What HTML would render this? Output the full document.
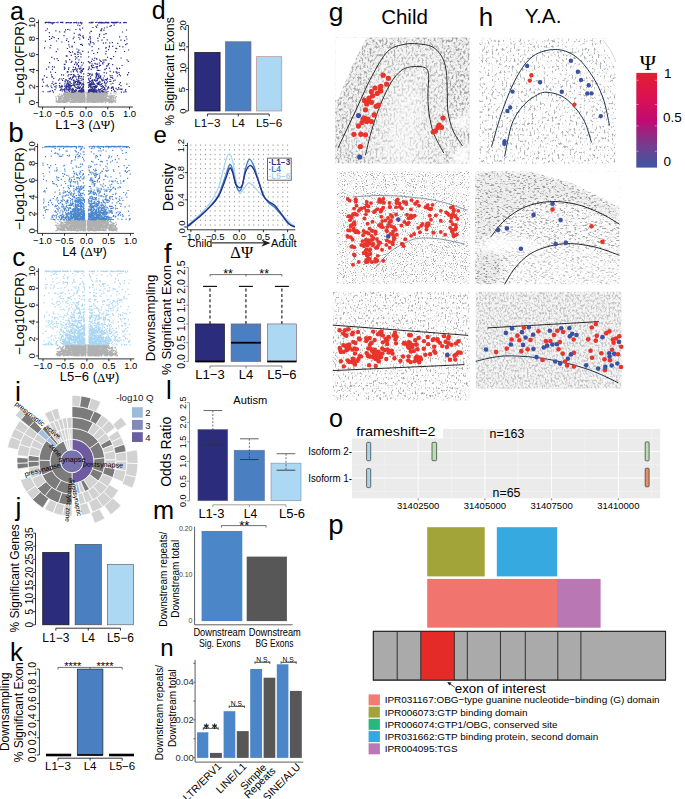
<!DOCTYPE html><html><head><meta charset="utf-8"><style>html,body{margin:0;padding:0;background:#fff;}svg{display:block;}</style></head><body><svg width="685" height="799" viewBox="0 0 685 799">
<rect width="685" height="799" fill="#fff"/>
<path d="M61.1 102.4h0M98.0 97.2h0M88.4 102.2h0M93.2 97.6h0M81.3 93.9h0M74.2 93.0h0M64.0 102.5h0M82.2 92.3h0M60.5 96.4h0M91.1 99.8h0M82.7 92.7h0M96.6 95.5h0M69.1 95.6h0M96.4 94.7h0M95.9 96.9h0M78.7 93.2h0M105.4 96.0h0M61.0 99.3h0M89.8 96.4h0M105.5 101.2h0M73.9 96.7h0M103.3 97.3h0M104.2 94.9h0M92.2 99.8h0M78.0 94.2h0M74.0 93.5h0M94.5 97.4h0M97.7 94.7h0M103.8 94.1h0M66.4 97.7h0M83.0 97.1h0M95.7 96.9h0M91.0 93.8h0M97.2 95.7h0M101.9 97.4h0M78.2 96.4h0M65.4 93.4h0M94.0 101.6h0M61.5 101.3h0M78.0 98.6h0M79.6 92.5h0M96.6 95.5h0M99.3 97.2h0M81.6 98.9h0M95.2 101.2h0M80.7 92.4h0M88.0 102.3h0M82.4 102.1h0M68.7 97.7h0M79.3 92.3h0M90.4 98.0h0M107.9 98.9h0M94.0 101.9h0M78.0 93.4h0M97.6 100.6h0M93.0 100.9h0M76.5 93.0h0M92.4 100.4h0M75.4 100.1h0M96.3 96.0h0M104.1 99.1h0M100.1 102.3h0M89.1 100.1h0M88.4 93.9h0M79.8 95.2h0M95.5 92.7h0M111.0 97.8h0M70.8 101.7h0M77.4 92.9h0M80.6 99.4h0M109.7 100.7h0M103.5 99.7h0M99.1 101.2h0M71.1 97.9h0M104.2 93.7h0M106.2 101.1h0M103.4 96.3h0M95.4 98.3h0M100.0 97.4h0M90.3 99.1h0M82.4 101.4h0M73.2 100.3h0M110.0 101.5h0M69.8 97.6h0M110.8 97.3h0M109.0 101.4h0M94.0 102.0h0M77.5 94.7h0M99.0 101.7h0M90.8 92.3h0M94.7 95.8h0M93.4 95.3h0M90.9 100.1h0M96.0 101.5h0M107.7 101.4h0M100.0 92.6h0M91.0 100.3h0M87.7 99.6h0M66.5 96.0h0M79.9 99.9h0M75.7 93.3h0M78.5 102.3h0M78.6 97.0h0M59.9 101.5h0M103.6 100.4h0M57.9 101.7h0M89.4 101.0h0M64.8 102.1h0M112.0 96.6h0M78.3 100.6h0M71.0 99.5h0M78.6 97.7h0M101.4 96.5h0M114.9 101.4h0M88.7 92.3h0M72.4 100.8h0M79.9 100.8h0M98.8 95.8h0M76.2 97.1h0M68.1 95.4h0M89.9 92.7h0M84.0 97.2h0M68.0 94.8h0M98.7 92.8h0M97.0 92.8h0M88.6 100.6h0M76.6 93.5h0M107.8 101.0h0M110.9 93.4h0M103.1 100.4h0M102.4 94.7h0M70.4 95.6h0M87.2 96.8h0M72.2 96.7h0M77.8 99.4h0M65.8 92.4h0M65.1 92.4h0M81.3 97.5h0M70.9 93.9h0M89.4 98.0h0M105.9 97.1h0M77.4 101.0h0M105.1 99.3h0M98.5 94.5h0M67.7 96.1h0M80.7 95.7h0M80.1 99.2h0M76.6 99.3h0M94.7 93.4h0M71.2 96.5h0M93.4 100.0h0M90.4 100.1h0M82.5 96.2h0M83.4 96.5h0M72.5 93.9h0M93.3 96.9h0M87.5 101.0h0M99.8 98.5h0M99.5 96.2h0M64.9 95.5h0M100.7 92.1h0M72.5 92.2h0M101.2 92.6h0M97.3 94.9h0M100.0 98.4h0M72.8 95.2h0M99.9 95.7h0M82.7 97.0h0M71.6 95.6h0M103.3 94.7h0M62.0 95.2h0M59.3 96.8h0M109.4 99.1h0M100.6 100.7h0M103.3 101.9h0M83.6 94.5h0M91.8 97.5h0M82.9 96.9h0M79.7 95.0h0M100.7 100.0h0M84.1 101.7h0M100.1 97.3h0M74.7 94.8h0M105.5 98.4h0M73.6 97.1h0M96.1 93.3h0M89.2 95.8h0M74.0 93.5h0M67.4 97.9h0M110.7 99.0h0M94.4 100.5h0M106.1 96.1h0M76.2 96.7h0M78.1 94.2h0M102.6 99.7h0M66.3 94.8h0M96.5 98.8h0M80.8 92.5h0M66.5 93.1h0M78.4 95.1h0M94.5 92.4h0M112.8 99.1h0M78.3 99.9h0M79.3 97.0h0M86.9 99.7h0M105.7 100.0h0M91.3 98.7h0M59.6 102.1h0M92.9 96.1h0M72.0 98.0h0M84.2 98.1h0M81.7 96.3h0M98.1 93.6h0M73.2 102.1h0M77.5 92.7h0M84.0 97.6h0M64.5 94.5h0M81.6 95.3h0M92.4 99.5h0M75.0 99.6h0M73.4 96.3h0M68.9 92.9h0M109.4 97.0h0M79.7 94.8h0M84.8 100.7h0M67.6 101.9h0M62.3 96.9h0M97.2 101.0h0M77.7 97.5h0M65.3 93.0h0M102.1 102.2h0M109.2 102.4h0M101.1 101.8h0M89.8 94.0h0M78.0 93.4h0M110.4 100.8h0M102.6 96.8h0M105.6 101.2h0M92.1 96.7h0M63.0 101.6h0M103.6 98.1h0M97.9 96.2h0M77.4 99.0h0M98.0 99.3h0M78.8 96.7h0M75.5 94.1h0M63.5 100.6h0M115.7 93.9h0M67.6 92.8h0M73.3 96.2h0M100.3 94.1h0M109.6 99.1h0M113.8 99.7h0M74.2 99.9h0M83.2 92.9h0M81.6 95.7h0M63.1 100.1h0M82.2 95.6h0M69.1 99.9h0M64.5 96.8h0M100.8 93.5h0M88.7 99.9h0M61.0 97.7h0M103.9 96.5h0M78.1 93.8h0M109.5 101.9h0M103.8 97.9h0M88.3 102.0h0M88.3 95.0h0M58.6 96.8h0M93.7 92.3h0M105.0 93.8h0M89.7 95.9h0M94.3 97.5h0M82.9 96.4h0M85.2 97.7h0M83.2 98.3h0M91.1 94.4h0M63.9 93.6h0M72.9 94.0h0M97.8 95.6h0M88.5 93.9h0M101.4 98.4h0M115.5 98.5h0M74.9 92.1h0M93.3 92.6h0M88.3 97.6h0M109.4 100.3h0M88.1 100.9h0M78.9 99.8h0M78.4 94.2h0M80.0 98.0h0M82.0 95.8h0M79.7 96.4h0M107.2 92.3h0M55.9 96.8h0M62.8 100.7h0M84.5 94.1h0M80.1 97.5h0M92.4 92.9h0M71.9 100.7h0M74.8 100.5h0M113.6 98.5h0M102.3 95.6h0M80.2 93.4h0M65.2 102.5h0M104.3 99.4h0M96.7 101.3h0M88.2 100.7h0M97.8 100.2h0M65.4 100.7h0M90.9 99.3h0M90.7 100.0h0M97.8 95.9h0M74.6 100.3h0M103.9 96.6h0M67.1 100.9h0M84.8 98.9h0M94.2 93.1h0M87.7 99.8h0M64.5 99.8h0M76.5 96.9h0M88.0 102.3h0M87.4 93.7h0M76.1 95.1h0M92.1 99.4h0M99.9 100.8h0M88.7 93.0h0M83.4 101.5h0M81.3 99.0h0M84.6 102.1h0M80.5 92.7h0M106.1 99.7h0M95.3 99.3h0M93.8 92.8h0M83.4 95.9h0M105.2 95.7h0M99.3 96.3h0M90.1 99.0h0M75.3 101.8h0M80.6 97.6h0M76.0 99.6h0M97.6 101.0h0M81.3 94.5h0M74.7 96.5h0M69.9 95.7h0M90.3 92.9h0M77.4 95.2h0M58.8 98.8h0M89.4 100.6h0M94.3 92.3h0M72.1 99.4h0M83.2 93.8h0M84.7 98.2h0M60.3 99.2h0M93.2 97.9h0M102.5 102.1h0M79.7 93.8h0M69.7 94.3h0M96.3 94.1h0M95.6 99.6h0M59.3 101.3h0M82.0 94.9h0M89.6 93.2h0M87.2 93.0h0M64.5 95.8h0M95.6 93.8h0M95.4 94.0h0M73.4 101.8h0M71.8 93.1h0M65.2 93.0h0M79.7 92.3h0M75.2 95.6h0M84.0 98.0h0M74.4 92.3h0M77.4 94.1h0M87.4 95.4h0M71.0 97.6h0M105.4 92.7h0M80.2 100.7h0M109.6 95.8h0M100.3 94.3h0M94.2 96.7h0M81.0 92.5h0M58.9 96.2h0M79.2 96.6h0M105.3 99.6h0M87.8 92.9h0M79.2 94.2h0M76.1 100.4h0M69.7 94.0h0M83.9 94.9h0M84.9 101.0h0M59.5 99.8h0M104.0 94.2h0M80.2 92.5h0M110.0 102.0h0M91.7 94.2h0M113.4 98.0h0M88.1 93.9h0M92.5 100.7h0M99.5 93.5h0M83.6 100.8h0M100.1 99.5h0M89.8 100.7h0M68.9 92.4h0M76.4 96.6h0M60.1 98.0h0M68.6 98.1h0M76.4 101.5h0M72.7 102.1h0M104.8 98.2h0M78.7 96.6h0M81.0 92.7h0M93.2 94.8h0M94.4 98.4h0M81.6 98.5h0M109.7 101.6h0M84.4 94.0h0M82.2 95.8h0M86.9 93.7h0M91.9 100.6h0M65.2 101.2h0M92.4 95.6h0M84.6 98.0h0M67.7 93.8h0M96.3 93.8h0M101.9 94.7h0M69.6 96.3h0M97.1 102.0h0M82.2 95.2h0M61.4 98.4h0M108.8 99.8h0M84.4 97.4h0M70.5 94.6h0M87.9 92.9h0M63.5 94.8h0M73.8 92.5h0M76.8 98.4h0M73.3 98.4h0M82.6 102.0h0M81.2 93.1h0M106.0 101.7h0M90.6 101.4h0M95.0 95.5h0M114.0 101.1h0M74.8 97.2h0M95.1 94.0h0M109.9 102.0h0M114.3 97.1h0M67.5 101.3h0M91.0 98.6h0M86.8 98.3h0M81.3 97.1h0M76.0 96.9h0M72.0 92.8h0M92.1 96.1h0M78.8 97.9h0M108.0 96.5h0M79.1 99.6h0M111.3 98.6h0M105.2 101.6h0M76.0 93.0h0M93.4 96.4h0M90.7 99.7h0M82.3 94.6h0M103.5 94.1h0M82.7 98.9h0M92.0 93.4h0M58.7 101.0h0M92.7 97.8h0M82.0 96.0h0M89.6 100.3h0M83.1 92.3h0M65.7 94.7h0M88.4 92.4h0M91.5 92.7h0M93.3 102.4h0M97.9 96.4h0M82.9 99.8h0M76.2 92.6h0M83.8 100.0h0M87.6 98.8h0M67.7 100.2h0M77.3 92.5h0M105.9 95.8h0M89.8 101.2h0M87.2 93.7h0M98.1 100.2h0M104.9 92.5h0M106.4 92.9h0M101.0 95.9h0M74.3 96.7h0M106.1 95.9h0M86.9 94.4h0M89.3 97.4h0M88.6 94.9h0M102.7 95.0h0M73.4 95.5h0M97.4 93.3h0M84.5 101.8h0M105.2 102.4h0M97.7 93.7h0M56.9 102.0h0M72.2 101.7h0M110.9 95.8h0M64.3 95.0h0M90.4 99.0h0M102.7 97.3h0M76.5 92.6h0M105.5 95.8h0M77.5 99.6h0M101.8 94.7h0M101.0 94.5h0M109.9 100.5h0M85.0 102.1h0M99.3 93.9h0M92.0 98.8h0M74.6 96.5h0M93.0 97.7h0M87.1 101.1h0M64.1 95.3h0M110.7 102.1h0M75.2 100.9h0M79.7 102.5h0M84.5 97.7h0M83.4 96.6h0M87.6 94.1h0M69.7 99.4h0M92.8 93.1h0M77.7 99.7h0M99.6 101.0h0M82.3 96.9h0M84.5 100.4h0M74.9 101.8h0M92.8 93.6h0M79.4 99.8h0M91.8 101.4h0M84.0 94.0h0M77.9 94.5h0M78.4 101.4h0M63.5 97.3h0M76.4 94.7h0M78.8 94.3h0M99.1 93.3h0M115.8 97.5h0M105.0 92.9h0M83.6 97.6h0M112.2 97.0h0M87.2 97.4h0M101.0 98.9h0M101.0 99.0h0M87.8 96.3h0M74.6 100.7h0M66.8 101.5h0M88.7 100.4h0M108.0 100.7h0M111.7 96.0h0M63.6 98.4h0M61.5 101.5h0M89.0 96.9h0M103.0 95.7h0M106.9 98.6h0M79.5 92.3h0M72.1 101.7h0M93.8 98.4h0M71.9 99.8h0M87.3 101.3h0M83.6 99.9h0M93.5 98.9h0M95.0 93.4h0M101.5 96.8h0M94.9 100.2h0M83.4 100.8h0M74.7 102.3h0M89.8 98.4h0M81.6 95.2h0M67.1 100.2h0M97.8 100.5h0M78.9 96.4h0M74.7 98.5h0M100.7 101.7h0M104.4 95.2h0M116.3 96.5h0M70.0 101.6h0M83.4 92.1h0M96.0 98.7h0M87.9 99.4h0M111.6 101.8h0M58.5 101.3h0M105.3 99.3h0M95.4 96.2h0M92.7 98.5h0M98.4 98.4h0M72.4 93.6h0M75.4 102.0h0M80.2 96.7h0M89.5 96.2h0M109.6 99.0h0M72.1 98.1h0M96.8 101.9h0M103.8 93.8h0M88.5 96.5h0M64.0 98.1h0M76.8 93.6h0M100.3 96.3h0M69.9 96.2h0M78.2 97.5h0M82.6 92.1h0M82.0 100.5h0M77.8 100.3h0M89.1 97.3h0M109.8 101.2h0M108.6 101.6h0M71.0 93.8h0M97.4 95.4h0M75.4 95.8h0M104.1 98.3h0M79.5 101.8h0M73.2 97.5h0M76.8 97.2h0M66.6 96.0h0M111.9 100.1h0M107.6 100.3h0M60.4 101.8h0M76.0 97.5h0M115.7 102.3h0M97.9 99.3h0M104.0 100.5h0M90.6 93.2h0M99.8 98.5h0M84.8 95.8h0M75.4 93.1h0M79.7 101.9h0M81.0 92.1h0M100.6 98.1h0M92.5 99.0h0M95.9 93.5h0M98.3 100.4h0M90.4 101.2h0M77.5 96.6h0M104.0 95.2h0M87.4 94.7h0M111.3 99.8h0M75.1 100.5h0M63.5 102.3h0M58.5 98.9h0M99.5 93.2h0M102.3 100.0h0M97.5 92.1h0M93.9 95.2h0M63.8 98.0h0M84.1 99.7h0M104.2 99.1h0M102.2 102.5h0M99.4 100.6h0M76.8 94.4h0M75.9 93.3h0M96.0 92.6h0M82.2 96.6h0M76.9 101.0h0M59.1 97.4h0M98.8 96.0h0M79.4 99.7h0M93.9 96.0h0M79.5 96.6h0M82.2 100.0h0M80.7 92.2h0M110.6 99.4h0M83.3 92.9h0M75.4 94.7h0M113.2 100.6h0M78.1 93.3h0M105.4 92.1h0M101.2 95.3h0M65.8 92.7h0M95.7 97.9h0M93.9 100.2h0M85.0 95.2h0M89.8 94.1h0M91.3 93.8h0M83.2 102.0h0M112.1 97.2h0M101.6 94.2h0M77.4 92.8h0M87.1 96.1h0M108.6 100.8h0M65.4 93.9h0M95.1 97.2h0M76.3 97.1h0M102.3 96.9h0M75.1 96.5h0M98.3 97.9h0M101.3 97.2h0M91.9 96.0h0M88.9 101.2h0M112.1 101.6h0M65.4 102.5h0M96.0 98.9h0M79.5 96.2h0M90.1 96.0h0M89.5 92.9h0M97.6 92.1h0M91.2 94.2h0M91.4 96.8h0M88.6 97.4h0M68.0 98.0h0M105.7 98.0h0M83.9 99.0h0M68.0 93.8h0M84.5 93.7h0M94.0 92.2h0M97.3 100.8h0M56.4 98.7h0M87.0 96.5h0M84.6 100.1h0M89.2 95.7h0M82.6 95.5h0M73.4 96.3h0M74.6 95.7h0M94.3 101.4h0M106.2 95.1h0M81.6 100.5h0M82.7 96.6h0M78.3 100.5h0M83.8 96.9h0M97.0 99.4h0M79.2 101.6h0M113.2 101.8h0M96.0 97.2h0M94.5 93.6h0M75.2 102.1h0M110.0 97.5h0M95.1 100.4h0M84.6 99.8h0M65.5 98.8h0M63.0 101.8h0M104.3 93.0h0M71.2 97.2h0M90.6 92.1h0M62.5 96.3h0M100.4 98.2h0M63.0 101.1h0M67.9 97.6h0M101.9 101.3h0M77.9 97.0h0M87.2 98.0h0M88.5 98.0h0M82.4 97.7h0M79.8 95.5h0M65.5 95.9h0M96.4 93.7h0M78.7 98.8h0M68.2 99.5h0M78.3 96.3h0M83.1 94.4h0M102.9 100.8h0M63.4 102.3h0M82.2 98.1h0M66.5 96.8h0M91.8 101.5h0M70.9 93.0h0M84.1 94.3h0M81.2 101.6h0M73.3 101.4h0M93.8 95.7h0M92.4 95.7h0M78.1 98.7h0M64.3 94.9h0M88.3 92.5h0M93.2 99.0h0M73.8 95.4h0M104.9 100.7h0M66.7 93.4h0M84.6 100.5h0M75.3 98.9h0M76.5 98.0h0M71.7 94.9h0M90.0 99.1h0M110.2 101.8h0M73.2 93.7h0M98.1 102.4h0M67.4 100.2h0M80.4 98.9h0M96.5 98.5h0M93.1 101.9h0M64.9 97.5h0M64.4 101.6h0M90.6 95.2h0M79.0 100.2h0M80.0 96.0h0M79.2 97.6h0M59.3 101.3h0M75.0 99.9h0M77.2 92.9h0M84.4 96.8h0M87.4 99.2h0M88.5 92.2h0M99.5 96.6h0M99.7 101.4h0M94.1 95.8h0M82.2 96.8h0M94.7 102.0h0M97.0 94.7h0M101.8 101.7h0M58.8 101.8h0M105.8 99.9h0M92.2 94.9h0M89.5 96.2h0M83.5 96.6h0M83.9 100.5h0M96.9 93.1h0M81.3 92.6h0M92.3 97.2h0M75.5 97.3h0M81.5 92.3h0M90.5 98.6h0M90.6 97.0h0M113.4 99.7h0M98.8 92.6h0M106.9 99.8h0M67.8 100.3h0M100.5 96.1h0M78.2 92.2h0M103.6 94.3h0M73.1 97.4h0M68.3 99.3h0M101.1 100.9h0M73.7 97.5h0M79.8 97.1h0M104.0 101.0h0M89.8 102.2h0M77.2 100.3h0M102.6 94.5h0M70.9 93.8h0M90.9 93.3h0M101.4 101.2h0M111.4 96.7h0M74.1 99.4h0M80.9 96.6h0M90.0 99.7h0M69.0 94.8h0M61.7 101.0h0M74.5 98.0h0M84.8 98.8h0M106.8 100.5h0M91.7 99.9h0M105.0 97.6h0M66.7 97.9h0M101.2 99.3h0M89.8 97.2h0M88.1 100.5h0M96.7 94.2h0M69.6 99.4h0M86.9 98.5h0M98.9 93.3h0M89.9 96.5h0M71.6 99.4h0M82.7 100.6h0M95.5 97.1h0M84.7 100.7h0M92.0 97.3h0M88.7 94.1h0M82.8 93.1h0M67.2 98.4h0M111.1 93.8h0M107.0 99.1h0M78.6 98.5h0M101.3 97.6h0M94.9 93.4h0M91.7 92.4h0M104.9 92.3h0M77.1 100.7h0M68.7 94.9h0M90.1 95.8h0M83.4 93.5h0M72.9 95.5h0M109.8 102.5h0M88.4 99.6h0M71.7 96.0h0M95.4 96.0h0M115.1 101.9h0M70.9 92.8h0M92.9 101.7h0M83.1 99.3h0M101.9 99.3h0M97.4 96.4h0M80.9 101.6h0M102.7 100.9h0M75.3 101.8h0M97.3 94.2h0M79.8 96.1h0M101.7 92.8h0M95.3 101.9h0M110.2 95.8h0M63.8 93.4h0M74.1 102.4h0M87.8 97.9h0M71.6 100.8h0M107.0 93.7h0M83.1 94.1h0M90.1 92.3h0M106.1 94.5h0M82.5 92.6h0M101.3 92.9h0M93.9 92.2h0M72.2 96.9h0M56.2 100.4h0M62.6 95.8h0M66.2 98.1h0M56.2 102.1h0M68.4 93.6h0M115.8 97.1h0M79.4 93.8h0M83.7 94.7h0M70.5 93.8h0M81.1 101.9h0M106.9 93.8h0M82.0 96.6h0M107.8 100.8h0M107.7 93.7h0M71.8 92.7h0M59.4 94.1h0M91.9 93.3h0M81.5 94.5h0M104.1 94.4h0M98.0 97.4h0M77.1 99.0h0M65.5 96.8h0M69.7 101.3h0M104.1 93.8h0M83.0 94.4h0M71.1 98.7h0M72.7 102.5h0M91.7 95.2h0M92.8 93.0h0M90.5 99.1h0M89.9 100.1h0M82.1 98.2h0M110.7 93.3h0M69.9 96.8h0M94.2 101.3h0M77.9 95.3h0M81.6 100.6h0M102.1 98.5h0M104.0 96.3h0M74.0 97.1h0M83.0 98.6h0M81.5 92.9h0M74.4 97.7h0M92.2 93.8h0M72.1 101.2h0M72.9 98.7h0M92.3 98.6h0M110.1 101.1h0M76.9 92.7h0M89.6 98.5h0M103.3 94.8h0M64.9 100.4h0M82.6 93.5h0M104.9 98.0h0M77.5 96.1h0M90.3 95.2h0M102.0 94.1h0M84.6 93.0h0M89.6 96.4h0M72.8 93.4h0M89.4 95.5h0M97.7 97.2h0M93.3 99.3h0M98.1 96.9h0M98.4 99.1h0M87.0 92.3h0M103.6 92.6h0M101.2 94.7h0M105.7 92.3h0M91.6 101.9h0M112.3 95.7h0M93.4 100.9h0M73.6 96.7h0M68.0 96.7h0M74.3 102.2h0M105.3 93.9h0M75.9 95.6h0M72.7 102.0h0M99.5 92.9h0M71.8 98.2h0M91.5 99.8h0M87.1 96.1h0M102.5 95.2h0M98.2 94.0h0M93.0 92.6h0M93.7 93.3h0M91.3 94.2h0M96.1 102.1h0M80.4 97.5h0M97.0 99.0h0M90.9 93.8h0M68.9 101.0h0M105.0 99.1h0M92.8 98.6h0M98.8 101.6h0M106.2 96.6h0M82.4 102.3h0M70.4 96.7h0M74.3 98.0h0M90.6 95.8h0M96.5 93.5h0M93.9 93.8h0M66.6 95.2h0M105.1 94.8h0M101.3 98.4h0M97.2 93.4h0M85.2 101.2h0M93.2 100.5h0M73.8 95.8h0M87.5 99.4h0M75.0 94.3h0M78.6 99.0h0M111.0 99.9h0M103.1 94.0h0M95.2 96.1h0M84.3 98.1h0M83.6 100.0h0M112.3 102.3h0M74.5 97.0h0M106.3 93.8h0M99.3 95.8h0M93.3 94.3h0M94.7 101.3h0M75.9 94.9h0M107.8 101.2h0M75.6 97.6h0M77.1 95.1h0M93.7 100.4h0M84.0 98.5h0M93.3 93.9h0M59.7 100.7h0M60.8 96.6h0M79.9 102.4h0M93.0 101.8h0M114.0 100.6h0M81.3 99.4h0M65.9 101.6h0M77.5 97.8h0M90.9 96.5h0M89.3 97.0h0M80.4 101.6h0M84.9 95.8h0M75.6 96.5h0M60.6 99.6h0M83.9 98.4h0M95.0 97.6h0M67.9 92.7h0M80.8 97.7h0M70.0 97.5h0M96.3 100.3h0M68.6 92.1h0M99.2 96.2h0M106.8 100.6h0M67.7 96.0h0M80.0 95.8h0M104.0 95.4h0M100.3 96.8h0M92.1 100.1h0M85.0 98.9h0M98.1 92.0h0M97.6 98.8h0M79.8 101.9h0M94.0 92.5h0M82.2 98.3h0M107.7 95.3h0M90.6 92.4h0M81.1 93.5h0M83.6 95.5h0M114.7 101.1h0M78.8 97.4h0M85.0 95.0h0M67.7 101.6h0M94.2 102.0h0M98.8 99.9h0M95.4 100.2h0M89.4 95.5h0M111.7 96.8h0M73.3 94.4h0M77.5 96.2h0M84.0 101.4h0M64.6 97.4h0M78.4 96.5h0M80.8 98.8h0M110.2 97.4h0M77.9 93.4h0M97.0 98.4h0M84.6 101.3h0M90.0 94.6h0M76.7 94.5h0M87.8 92.4h0M81.1 95.9h0M90.7 94.0h0M87.6 92.4h0M63.4 101.3h0M106.7 99.4h0M93.7 95.0h0M83.5 99.8h0M88.7 93.9h0M87.7 94.9h0M85.0 93.1h0M73.2 93.5h0M70.3 95.8h0M87.5 100.2h0M67.6 101.1h0M71.0 96.0h0M105.8 94.9h0M59.9 102.1h0M89.6 100.9h0M99.2 94.4h0M104.8 100.3h0M111.7 102.6h0M59.3 101.5h0M85.1 92.3h0M75.3 92.1h0M97.7 99.9h0M91.0 101.4h0M96.3 92.1h0M66.0 96.4h0M66.7 98.7h0M92.9 97.6h0M109.1 99.7h0M79.5 93.2h0M94.3 95.8h0M91.6 95.3h0M89.0 98.7h0M100.5 95.7h0M77.5 100.2h0M100.7 98.5h0M65.4 97.5h0M83.3 95.3h0M72.8 100.2h0M75.0 101.8h0M68.6 99.4h0M63.8 98.6h0M76.4 92.7h0M103.0 92.3h0M92.6 94.5h0M78.1 92.1h0M82.1 97.7h0M58.5 100.1h0M68.1 94.9h0M74.4 94.8h0M88.1 96.4h0M85.1 92.6h0M84.6 95.4h0M82.8 99.4h0M94.6 98.7h0M60.0 99.5h0M68.3 96.4h0M107.2 98.9h0M91.7 95.2h0M91.9 99.1h0M71.6 96.1h0M81.8 100.0h0M70.1 99.6h0M72.1 100.0h0M90.5 95.0h0M69.1 95.0h0M90.0 92.3h0M88.6 100.1h0M92.8 100.3h0M100.8 98.2h0M92.8 102.4h0M91.9 93.4h0M66.3 94.4h0M72.7 95.0h0M87.9 94.7h0M80.1 92.3h0M102.9 94.0h0M77.0 102.0h0M84.1 94.7h0M105.3 99.0h0M69.2 92.1h0M88.9 97.6h0M102.4 99.3h0M106.6 96.2h0M103.8 95.7h0M89.5 101.1h0M102.6 97.5h0M114.0 97.3h0M90.0 99.6h0M84.4 99.6h0M78.4 100.8h0M72.0 100.5h0M96.2 99.1h0M88.2 100.7h0M98.8 99.2h0M93.9 95.3h0M67.8 101.3h0M58.2 102.3h0M89.9 98.9h0M88.0 99.2h0M81.7 99.4h0M92.7 96.8h0M74.6 93.0h0M79.8 98.8h0M92.5 100.5h0M84.9 96.5h0M73.6 97.8h0M88.1 95.8h0M89.8 101.2h0M83.6 93.3h0M93.0 96.1h0M105.0 100.2h0M82.0 101.0h0M86.9 101.3h0M107.7 96.4h0M87.8 93.1h0M80.5 92.9h0M98.6 92.8h0M56.4 101.3h0M88.9 92.6h0M93.3 100.6h0M82.3 94.5h0M92.1 96.4h0M68.8 96.9h0M87.7 98.3h0M97.0 92.7h0M59.0 102.6h0M78.5 95.0h0M111.4 100.7h0M101.5 95.8h0M87.4 96.5h0M103.3 95.2h0M82.1 98.2h0M93.1 99.9h0M92.0 97.5h0M79.1 100.6h0M95.4 92.6h0M78.9 94.7h0M65.2 95.3h0M110.0 101.7h0M69.0 93.8h0M80.2 92.1h0M88.4 98.6h0M94.0 93.7h0M73.4 97.9h0M98.9 98.7h0M74.5 92.0h0M70.2 95.9h0M65.0 100.1h0M76.7 102.2h0M100.9 97.4h0M63.3 99.8h0M82.9 100.7h0M82.9 99.7h0M87.0 100.9h0M78.4 94.3h0M76.7 99.6h0M87.9 93.8h0M87.4 95.4h0M84.4 99.0h0M93.3 93.7h0M96.1 100.8h0M83.1 94.3h0M93.3 98.0h0M58.7 98.8h0M91.9 95.0h0M93.7 92.2h0M77.8 96.7h0M70.4 94.5h0M104.2 97.0h0M85.0 98.4h0M77.9 100.0h0M88.1 93.8h0M102.9 98.3h0M62.9 101.0h0M83.2 94.1h0M93.7 93.6h0M74.0 100.1h0M101.1 98.9h0M97.4 102.2h0M83.6 96.0h0M95.9 101.1h0M65.3 98.5h0M76.8 93.5h0M110.0 96.4h0M65.5 101.7h0M81.6 100.4h0M95.9 96.1h0M74.1 102.1h0M95.5 98.5h0M113.1 99.1h0M88.4 93.4h0M88.3 99.0h0M113.3 100.4h0M97.0 98.8h0M88.2 96.3h0M65.7 100.5h0M77.4 100.1h0M79.6 95.8h0M96.7 94.7h0M79.9 99.5h0M95.3 93.8h0M81.2 100.7h0M82.7 96.9h0M89.9 93.4h0M68.1 94.6h0M101.5 97.3h0M92.6 93.4h0M71.2 99.1h0M90.3 96.5h0M84.9 98.9h0M72.6 96.7h0M64.3 101.5h0M102.0 97.7h0M75.6 94.1h0M103.9 97.0h0M70.8 96.6h0M64.6 92.2h0M109.5 101.1h0M78.6 94.4h0M80.9 98.4h0M96.2 98.3h0M108.5 100.0h0M101.0 94.9h0M57.9 96.2h0M101.6 97.7h0M104.0 95.9h0M103.7 97.0h0M90.1 100.7h0M94.9 92.2h0M89.2 94.2h0M94.2 97.9h0M100.3 99.9h0M74.8 101.5h0M100.1 97.1h0M91.2 99.5h0M84.1 98.8h0M84.5 94.1h0M94.3 100.8h0M98.8 92.6h0M71.7 93.5h0M81.5 94.5h0M99.6 99.1h0M89.8 96.2h0M88.4 93.8h0M80.3 93.3h0M101.7 93.7h0M97.2 93.8h0M75.4 92.1h0M66.0 102.3h0M101.2 101.1h0M90.1 100.7h0M73.7 101.2h0M113.9 92.9h0M101.9 95.6h0M81.3 93.3h0M96.0 98.6h0M81.3 97.4h0M90.2 95.2h0M100.5 97.7h0M81.8 98.6h0M75.2 96.5h0M106.4 92.1h0M80.6 99.4h0M89.9 97.3h0M103.4 99.2h0M80.6 94.9h0M80.1 100.7h0M90.9 101.3h0M84.0 95.1h0M84.8 92.7h0M73.7 95.2h0M93.3 97.8h0M112.9 96.2h0M100.0 94.5h0M100.4 96.5h0M79.1 97.4h0M92.1 99.3h0M80.7 99.4h0M64.6 94.6h0M72.1 102.0h0M87.2 97.6h0M67.9 101.0h0M94.8 101.8h0M83.4 97.1h0M94.1 95.8h0M82.5 96.4h0M65.0 93.4h0M72.7 93.6h0M82.7 94.1h0M98.9 92.3h0M71.7 94.8h0M112.7 95.3h0M61.2 94.9h0M78.2 96.7h0M90.2 99.5h0M67.7 94.5h0M68.0 94.8h0M101.2 95.2h0M92.3 96.9h0M70.0 93.5h0M62.0 102.0h0M82.5 100.7h0M78.1 100.5h0M88.1 92.1h0M83.9 97.5h0M99.0 96.0h0M68.6 100.1h0M84.1 99.0h0M100.7 94.0h0M91.7 94.5h0M75.5 95.1h0M95.3 94.1h0M78.7 97.4h0M73.4 92.1h0M102.2 93.2h0M61.8 100.5h0M70.8 102.1h0M90.7 92.9h0M67.6 94.5h0M63.7 97.7h0M56.7 100.5h0M97.0 99.2h0M75.8 92.3h0M84.5 97.0h0M103.0 92.6h0M94.6 95.5h0M90.1 101.1h0M70.2 101.8h0M76.3 102.0h0M85.0 99.1h0M90.5 98.6h0M80.9 94.5h0M99.9 100.7h0M72.8 98.5h0M77.8 99.6h0M83.1 96.7h0M61.3 101.2h0M103.5 94.2h0M95.5 93.9h0M66.1 100.0h0M71.6 94.2h0M72.0 96.2h0M92.6 99.5h0M91.5 93.1h0M92.5 97.4h0M101.7 92.3h0M99.6 98.8h0M81.8 95.3h0M89.7 98.8h0M78.4 98.2h0M94.1 96.3h0M83.2 97.0h0M77.5 93.9h0M87.2 101.0h0M95.4 99.9h0M89.3 97.8h0M93.9 94.2h0M82.6 100.8h0M89.2 95.7h0M106.0 101.4h0M70.8 94.4h0M70.8 94.8h0M88.0 96.4h0M67.5 94.9h0M90.0 102.2h0M87.7 100.5h0M101.5 101.3h0M81.1 101.8h0M70.7 92.1h0M82.9 98.1h0M100.0 93.6h0M87.6 94.4h0M102.0 95.7h0M84.8 96.3h0M66.1 92.6h0M68.9 98.7h0M100.3 92.8h0M105.6 92.7h0M115.9 100.2h0M100.8 101.4h0M95.1 97.4h0M77.2 99.4h0M81.3 97.7h0M67.5 93.4h0M92.1 94.4h0M70.2 93.9h0M83.7 99.3h0M78.6 93.5h0M71.7 93.6h0M82.0 94.9h0M74.6 95.3h0M95.7 99.0h0M91.5 96.4h0M88.1 92.8h0M67.6 93.3h0M76.5 99.3h0M100.5 99.2h0M97.8 92.4h0M65.6 97.1h0M98.7 93.5h0M72.4 93.4h0M82.7 100.2h0M79.4 97.2h0M83.0 100.8h0M79.3 99.1h0M101.5 96.5h0M79.9 95.7h0M90.5 102.1h0M59.1 100.8h0M95.8 93.7h0M103.3 98.9h0M83.3 101.7h0M87.5 95.3h0M84.0 99.0h0M72.1 92.3h0M79.3 95.4h0M82.3 93.4h0M91.2 96.4h0M90.6 97.0h0M86.9 100.7h0M80.2 102.4h0M104.6 100.8h0M96.3 95.9h0M93.7 96.0h0M90.9 94.3h0M70.9 102.3h0M84.7 92.3h0M63.1 101.7h0M88.9 96.6h0M80.0 95.6h0M87.1 93.3h0M109.3 102.6h0M73.5 100.4h0M80.4 92.9h0M74.6 97.9h0M81.7 93.1h0M74.7 97.8h0M105.7 102.6h0M80.0 101.3h0M95.7 98.4h0M73.4 100.5h0M63.9 99.6h0M86.8 99.4h0M87.9 94.6h0M62.1 96.3h0M88.4 93.8h0M111.3 99.9h0M106.2 97.4h0M105.2 101.9h0M70.2 96.5h0M90.6 92.7h0M92.1 100.1h0M90.7 100.0h0M59.5 98.7h0M98.5 94.4h0M60.3 97.8h0M111.2 101.5h0M96.3 92.5h0M69.4 93.4h0M84.8 99.9h0M102.2 93.4h0M105.5 97.8h0M57.6 101.4h0M65.3 95.3h0M95.4 95.8h0M98.0 94.6h0M92.4 99.8h0M99.6 96.1h0M81.9 94.0h0M80.9 98.5h0M78.5 94.8h0M87.1 102.4h0M98.0 93.3h0M101.7 100.0h0M77.9 100.0h0M70.3 93.8h0M99.5 96.8h0M78.0 97.3h0M95.2 102.5h0M89.2 92.5h0M98.2 100.1h0M72.0 95.9h0M90.7 100.4h0M98.1 96.9h0M94.2 102.4h0M91.2 97.8h0M83.9 99.1h0M82.2 99.2h0M68.5 99.7h0M97.5 100.0h0M73.2 94.9h0M74.8 98.4h0M94.9 94.3h0M101.4 98.5h0M95.9 100.3h0M100.0 92.3h0M81.9 94.2h0M83.8 101.7h0M58.7 101.3h0M103.8 97.5h0M73.3 97.0h0M90.0 98.1h0M87.9 96.3h0M94.0 98.0h0M66.8 99.6h0M97.1 98.9h0M75.7 92.4h0M89.5 97.2h0M81.1 93.7h0M69.8 97.4h0M93.5 94.3h0M79.5 99.2h0M81.4 102.2h0M65.5 92.9h0M96.1 94.0h0M99.6 99.2h0M97.3 93.7h0M96.3 97.3h0M83.0 94.4h0M93.4 97.7h0M89.7 102.0h0M96.4 92.9h0M75.6 97.3h0M92.3 97.1h0M95.9 96.5h0M73.1 101.4h0M116.2 92.3h0M94.9 101.7h0M87.3 96.2h0M83.0 94.0h0M100.5 96.2h0M87.4 98.7h0M100.5 96.3h0M69.7 92.3h0M94.4 95.4h0M74.7 99.1h0M80.6 99.1h0M94.8 93.5h0M56.6 102.1h0M91.0 99.8h0M66.9 100.7h0M112.3 97.3h0M114.4 95.5h0M84.8 101.6h0M91.5 93.0h0M77.6 93.8h0M80.8 99.6h0M97.7 93.5h0M75.9 93.4h0M84.6 102.5h0M68.1 92.1h0M66.9 98.2h0M95.0 96.8h0M62.9 98.9h0M102.3 100.6h0M73.1 98.7h0M70.0 94.4h0M84.4 93.1h0M109.8 98.6h0M78.9 93.2h0M84.0 102.0h0M73.7 100.8h0M96.9 100.6h0M84.2 97.9h0M77.8 97.3h0M66.8 94.6h0M77.2 95.3h0M83.6 101.8h0M70.8 96.8h0M97.6 94.6h0M102.2 96.1h0M79.2 96.3h0M77.8 102.0h0M77.5 100.1h0M77.0 93.8h0M99.1 95.6h0M75.9 93.2h0M81.4 95.1h0M74.9 102.3h0M96.1 95.6h0M85.1 100.4h0M113.4 101.6h0M98.9 93.5h0M64.9 98.9h0M79.4 92.2h0M73.3 95.8h0M62.6 101.9h0M90.9 93.3h0M83.0 97.4h0M82.6 98.5h0M69.3 100.4h0M76.6 95.2h0M80.7 97.1h0M108.7 96.8h0M82.0 96.9h0M97.0 93.0h0M78.0 96.2h0M104.1 97.6h0M95.7 94.1h0M97.4 99.4h0" stroke="#b0b0b0" stroke-width="1.2" stroke-linecap="square" fill="none"/>
<path d="M43.1 91.6h0M104.5 28.0h0M127.1 59.9h0M93.5 86.3h0M81.5 88.7h0M81.5 62.3h0M88.7 84.8h0M70.0 84.6h0M71.6 74.5h0M74.3 69.6h0M81.5 85.2h0M91.1 85.1h0M44.6 47.8h0M46.8 77.3h0M97.5 74.7h0M68.6 84.4h0M73.5 90.0h0M97.9 73.9h0M82.1 70.0h0M76.9 64.8h0M98.1 40.8h0M96.5 90.2h0M97.3 70.4h0M47.4 28.9h0M96.3 91.8h0M101.5 84.4h0M82.0 88.6h0M106.2 82.9h0M82.3 89.4h0M96.6 72.9h0M67.6 71.6h0M66.9 38.9h0M74.3 85.8h0M82.2 87.9h0M90.9 83.3h0M94.2 80.2h0M110.8 81.4h0M101.6 79.6h0M80.3 87.2h0M81.1 70.4h0M89.9 81.4h0M98.5 76.2h0M78.5 62.4h0M90.5 81.3h0M103.3 86.3h0M81.6 90.8h0M93.3 87.0h0M106.1 33.7h0M94.6 90.5h0M92.3 88.5h0M80.9 68.5h0M61.7 79.0h0M69.1 84.1h0M63.5 78.5h0M97.3 80.6h0M106.3 47.5h0M70.1 82.6h0M96.1 64.1h0M72.6 51.9h0M112.9 83.4h0M126.8 39.0h0M72.4 89.3h0M73.4 81.0h0M119.4 74.6h0M60.3 90.3h0M95.6 89.2h0M122.0 89.2h0M83.4 63.0h0M110.1 79.5h0M89.8 86.5h0M66.8 90.0h0M97.1 66.6h0M66.3 62.2h0M65.0 64.3h0M75.8 89.6h0M79.6 88.3h0M88.5 90.0h0M79.9 82.9h0M89.5 81.2h0M66.8 89.0h0M65.3 85.8h0M94.9 63.4h0M75.9 91.0h0M119.0 72.6h0M69.3 51.7h0M51.1 86.1h0M89.1 67.1h0M73.0 92.0h0M69.8 88.4h0M64.4 69.3h0M102.2 88.1h0M68.8 68.0h0M64.9 88.7h0M101.9 40.2h0M76.0 81.3h0M112.1 75.6h0M98.0 84.4h0M70.0 84.6h0M74.5 64.4h0M94.7 58.2h0M99.8 65.4h0M69.7 88.9h0M90.8 86.2h0M78.3 76.5h0M79.7 69.1h0M68.7 85.7h0M69.8 81.8h0M100.7 89.5h0M62.4 86.1h0M71.6 79.6h0M111.3 88.4h0M58.4 38.7h0M101.3 86.3h0M67.4 81.0h0M79.0 68.1h0M107.5 81.8h0M119.7 46.3h0M106.8 79.6h0M50.8 45.4h0M70.0 81.5h0M72.0 91.4h0M98.0 75.2h0M114.4 90.9h0M83.5 68.7h0M64.0 89.8h0M51.8 57.4h0M67.3 56.0h0M68.0 71.9h0M95.9 64.0h0M101.2 86.3h0M90.6 76.8h0M77.4 88.6h0M70.8 90.2h0M65.1 89.8h0M50.6 72.1h0M78.8 82.2h0M91.4 65.6h0M51.9 76.9h0M48.1 91.6h0M72.2 46.8h0M111.6 58.8h0M110.2 75.6h0M58.3 60.5h0M118.9 89.2h0M102.1 83.5h0M121.0 85.6h0M94.0 43.8h0M93.7 90.7h0M71.9 61.3h0M82.1 65.2h0M83.0 87.7h0M77.8 83.1h0M81.1 54.4h0M100.0 82.4h0M67.4 48.5h0M116.7 68.2h0M79.7 82.9h0M83.7 85.2h0M92.5 79.9h0M90.0 62.7h0M80.0 90.0h0M52.5 76.9h0M77.6 71.9h0M55.4 83.3h0M94.2 89.1h0M80.9 78.3h0M69.6 47.0h0M71.2 83.5h0M128.3 61.4h0M88.0 75.6h0M79.7 91.5h0M88.7 79.0h0M89.0 43.9h0M94.8 80.5h0M91.9 75.4h0M61.6 85.8h0M92.2 74.2h0M71.5 85.5h0M62.0 87.0h0M56.3 51.6h0M88.4 52.2h0M100.2 77.5h0M66.7 85.5h0M51.5 38.3h0M100.1 92.2h0M61.2 89.6h0M62.6 80.3h0M75.9 76.8h0M76.5 70.9h0M45.4 41.2h0M76.9 81.3h0M96.5 58.6h0M97.4 66.6h0M83.0 86.8h0M99.8 81.3h0M106.0 89.8h0M120.5 75.8h0M66.2 80.2h0M113.6 80.9h0M69.8 30.0h0M94.0 67.6h0M102.5 91.0h0M97.5 83.9h0M80.4 86.8h0M96.4 80.6h0M52.5 66.6h0M90.4 90.7h0M91.3 83.7h0M88.5 92.1h0M110.1 26.3h0M79.4 90.5h0M91.9 87.0h0M78.4 76.2h0M106.5 73.1h0M95.6 90.8h0M79.9 80.8h0M88.6 91.8h0M73.7 75.0h0M90.7 42.9h0M80.8 83.3h0M93.8 53.5h0M69.4 91.4h0M89.1 82.7h0M96.6 27.3h0M64.8 31.8h0M107.3 65.9h0M121.6 89.5h0M82.3 71.5h0M92.9 81.6h0M68.2 87.0h0M91.7 75.0h0M127.7 74.6h0M82.8 69.3h0M92.1 50.7h0M126.1 91.8h0M59.4 85.7h0M55.9 30.9h0M77.7 85.0h0M95.7 85.6h0M78.3 91.3h0M76.3 84.1h0M103.2 89.6h0M80.6 83.5h0M91.9 82.4h0M60.9 89.7h0M54.9 86.7h0M92.6 90.8h0M78.4 76.7h0M107.5 78.9h0M75.3 56.6h0M93.8 91.2h0M96.9 92.2h0M82.8 51.4h0M90.0 73.6h0M98.4 70.3h0M93.0 27.5h0M98.7 48.8h0M92.8 91.6h0M125.4 90.8h0M56.0 87.9h0M64.4 64.3h0M101.3 29.9h0M104.5 76.0h0M105.8 42.8h0M88.8 61.8h0M68.5 41.6h0M97.5 78.8h0M82.6 88.0h0M90.7 85.8h0M75.5 69.1h0M65.8 79.5h0M74.5 90.6h0M128.6 72.6h0M117.4 68.9h0M94.4 87.5h0M117.3 89.7h0M67.6 29.5h0M68.1 80.5h0M109.8 81.5h0M88.0 82.6h0M96.5 87.3h0M101.9 90.5h0M73.0 85.1h0M78.9 90.8h0M72.6 77.4h0M88.9 90.4h0M82.8 83.6h0M57.7 49.0h0M97.1 68.2h0M48.1 86.6h0M103.3 78.0h0M82.4 45.4h0M94.9 86.3h0M73.6 74.6h0M73.2 92.1h0M93.0 42.5h0M122.1 65.5h0M109.0 63.5h0M99.3 83.8h0M112.1 87.7h0M99.6 60.0h0M49.4 32.7h0M98.4 89.1h0M98.2 78.6h0M81.5 76.7h0M100.8 30.7h0M92.1 46.7h0M105.2 89.9h0M90.4 91.0h0M79.1 84.2h0M90.3 41.1h0M91.7 80.5h0M80.4 30.0h0M79.1 91.6h0M92.0 90.1h0M106.1 86.1h0M96.6 80.6h0M104.0 87.6h0M113.5 72.2h0M75.9 87.7h0M82.9 36.7h0M101.9 28.7h0M116.0 48.4h0M98.3 90.2h0M119.6 68.3h0M88.5 91.1h0M83.1 91.7h0M80.9 91.6h0M89.8 74.7h0M51.5 74.8h0M64.0 35.7h0M92.5 67.7h0M100.8 84.4h0M59.7 87.1h0M81.5 23.9h0M129.2 86.5h0M72.1 46.1h0M88.2 73.4h0M94.5 84.5h0M67.2 72.1h0M59.8 83.3h0M120.4 82.7h0M108.4 86.8h0M73.6 76.8h0M49.6 62.7h0M126.1 36.6h0M95.5 91.6h0M90.8 91.5h0M96.8 59.1h0M91.9 66.7h0M97.6 64.1h0M111.6 87.9h0M74.5 90.6h0M76.6 79.2h0M72.8 69.5h0M102.7 91.1h0M77.5 84.5h0M92.0 87.3h0M80.2 71.8h0M107.4 78.3h0M91.6 90.3h0M75.9 85.0h0M100.5 76.7h0M71.2 86.2h0M83.4 76.8h0M66.3 55.9h0M100.0 75.9h0M107.1 27.2h0M75.5 59.2h0M65.0 81.1h0M72.7 88.7h0M94.4 89.3h0M69.1 88.7h0M78.4 80.3h0M107.5 88.8h0M70.4 85.6h0M83.3 87.6h0M82.2 71.2h0M59.7 31.9h0M112.1 77.7h0M67.9 81.1h0M105.8 48.2h0M43.5 82.2h0M66.9 92.0h0M83.3 37.5h0M83.7 73.9h0M104.0 37.5h0M99.8 70.5h0M64.5 32.0h0M50.1 47.8h0M81.7 44.4h0M61.6 74.8h0M53.7 78.5h0M82.6 28.2h0M101.2 91.2h0M100.9 78.4h0M105.9 33.6h0M61.3 88.8h0M111.3 25.7h0M106.1 92.1h0M81.1 90.1h0M56.6 41.0h0M88.7 84.9h0M80.3 90.2h0M95.5 86.1h0M73.2 38.6h0M100.0 85.2h0M89.6 84.7h0M75.1 54.3h0M91.9 90.1h0M121.4 92.1h0M101.2 88.5h0M103.0 64.0h0M105.8 53.8h0M117.2 73.3h0M94.1 83.6h0M99.4 66.0h0M75.3 81.3h0M71.8 92.2h0M78.8 50.1h0M89.1 86.0h0M66.8 84.6h0M106.1 60.2h0M98.7 77.0h0M62.9 89.3h0M71.3 55.3h0M70.5 52.5h0M125.7 44.7h0M54.4 67.1h0M79.7 29.1h0M42.6 79.8h0M71.1 71.8h0M97.2 83.4h0M81.8 89.0h0M74.5 42.3h0M127.5 74.8h0M96.2 76.4h0M80.8 90.6h0M96.5 91.5h0M96.1 66.9h0M78.4 81.0h0M90.8 87.4h0M89.1 91.6h0M93.0 86.8h0M78.7 77.8h0M97.0 83.1h0M93.3 84.2h0M80.1 89.9h0M83.5 69.1h0M81.0 83.2h0M79.2 90.8h0M83.4 79.7h0M108.7 87.8h0M76.0 62.9h0M69.6 59.7h0M108.0 91.5h0M55.0 89.6h0M104.0 34.3h0M89.6 89.6h0M76.1 77.0h0M100.5 65.4h0M72.2 89.5h0M106.5 80.2h0M74.3 91.8h0M78.6 85.0h0M99.2 77.9h0M99.4 36.2h0M108.0 87.3h0M46.1 86.0h0M92.4 89.9h0M99.6 34.4h0M61.9 42.0h0M102.6 62.8h0M72.9 85.5h0M104.6 88.3h0M70.4 78.0h0M67.8 81.1h0M89.4 75.0h0M91.2 69.4h0M116.7 48.6h0M90.5 89.2h0M83.5 84.6h0M105.7 79.6h0M92.0 63.9h0M42.9 79.2h0M98.5 82.3h0M94.7 89.3h0M75.8 91.3h0M68.9 87.8h0M58.6 80.1h0M64.4 90.5h0M96.5 86.9h0M77.9 25.1h0M108.5 49.7h0M66.5 40.5h0M68.2 83.4h0M73.4 67.2h0M74.2 33.4h0M42.5 86.3h0M116.0 88.4h0M80.8 72.3h0M89.8 90.7h0M64.9 83.9h0M52.4 23.8h0M98.6 84.3h0M79.6 76.1h0M89.7 37.2h0M93.6 92.1h0M112.0 87.1h0M121.1 58.0h0M119.6 36.8h0M71.0 74.7h0M101.4 91.1h0M103.9 91.7h0M92.9 84.4h0M109.4 46.1h0M80.6 44.5h0M110.8 77.4h0M104.0 80.2h0M83.6 38.2h0M47.3 85.1h0M63.5 75.1h0M105.0 69.4h0M95.9 73.8h0M64.9 68.1h0M102.4 85.8h0M77.8 80.2h0M126.5 30.0h0M104.0 89.6h0M113.6 56.5h0M75.2 76.2h0M82.8 91.6h0M83.9 91.3h0M74.1 80.3h0M78.1 74.4h0M97.6 83.0h0M60.5 87.1h0M83.2 83.9h0M69.6 85.3h0M72.2 78.3h0M91.2 89.8h0M81.8 71.2h0M90.9 86.4h0M99.5 63.0h0M52.8 81.8h0M49.7 39.5h0M65.0 68.5h0M95.9 91.3h0M78.9 50.2h0M79.8 69.2h0M83.4 82.0h0M115.1 80.2h0M116.1 71.9h0M68.5 69.3h0M71.1 86.5h0M62.3 90.9h0M117.5 76.0h0M103.9 62.1h0M51.8 87.7h0M77.1 69.7h0M69.8 87.1h0M92.6 80.5h0M76.9 49.0h0M65.8 87.9h0M98.0 83.3h0M78.5 35.0h0M93.4 82.8h0M120.9 40.1h0M88.7 56.8h0M105.0 59.9h0M96.7 72.9h0M91.1 91.2h0M81.8 80.0h0M91.4 31.3h0M91.4 89.1h0M91.9 84.2h0M88.4 69.6h0M110.5 58.5h0M99.8 89.9h0M89.8 89.3h0M82.2 91.7h0M91.6 61.4h0M73.9 82.6h0M80.2 83.7h0M83.2 90.7h0M97.8 70.3h0M104.0 89.5h0M91.7 82.2h0M93.2 65.4h0M96.4 86.4h0M96.7 76.9h0M80.0 52.9h0M80.9 67.2h0M64.5 90.5h0M94.3 92.0h0M83.7 90.5h0M104.5 81.9h0M113.5 89.4h0M89.8 62.9h0M66.5 86.8h0M94.0 91.9h0M69.0 78.6h0M107.2 39.8h0M92.5 91.2h0M81.6 80.1h0M59.7 78.8h0M64.9 91.6h0M54.4 58.9h0M88.6 39.4h0M103.4 43.1h0M102.2 81.0h0M100.7 75.8h0M111.1 84.0h0M75.1 91.6h0M77.6 82.7h0M91.0 22.9h0M74.7 76.0h0M108.2 64.0h0M105.9 83.6h0M93.0 88.9h0M79.8 39.2h0M112.8 86.9h0M68.0 29.5h0M98.8 83.0h0M61.0 86.9h0M79.8 34.3h0M69.8 89.4h0M56.2 85.9h0M67.5 89.8h0M64.6 86.2h0M82.1 84.7h0M82.9 90.4h0M52.7 36.6h0M73.6 80.1h0M109.5 68.2h0M95.8 87.2h0M95.0 87.4h0M94.9 79.6h0M79.5 90.6h0M73.0 77.1h0M91.0 31.3h0M96.4 75.2h0M83.4 86.7h0M93.5 89.4h0M79.2 84.8h0M89.7 33.0h0M83.2 87.6h0M72.9 88.4h0M106.7 66.1h0M70.8 88.1h0M49.8 91.7h0M67.0 88.0h0M93.5 91.4h0M74.3 83.8h0M78.9 37.5h0M77.9 54.4h0M79.6 75.9h0M110.2 71.3h0M74.1 75.0h0M67.3 83.8h0M78.5 66.3h0M93.7 91.4h0M104.8 69.7h0M90.6 41.6h0M78.7 88.5h0M102.7 91.8h0M89.7 45.0h0M78.3 56.5h0M77.1 68.8h0M88.9 79.8h0M55.5 72.5h0M122.9 46.8h0M111.6 90.7h0M78.6 65.5h0M77.4 52.1h0M104.5 82.9h0M76.9 57.8h0M92.8 86.8h0M89.5 85.1h0M95.6 86.2h0M74.5 85.3h0M75.4 67.7h0M79.6 90.9h0M112.4 42.6h0M99.2 89.7h0M78.5 88.0h0M118.6 87.7h0M73.5 71.6h0M112.7 64.7h0M94.5 86.5h0M95.6 77.8h0M97.3 86.1h0M83.6 89.3h0M79.9 76.5h0M81.2 92.2h0M52.5 69.4h0M83.1 35.9h0M80.5 82.7h0M88.9 91.5h0M94.7 91.8h0M94.0 60.4h0M75.9 29.5h0M123.9 92.1h0M100.5 60.8h0M75.1 86.8h0M102.8 80.1h0M50.2 91.2h0M46.5 69.2h0M80.3 35.6h0M69.2 86.8h0M79.5 91.0h0M76.4 90.4h0M79.6 68.9h0M89.4 91.6h0M109.8 42.8h0M91.1 90.9h0M83.0 91.9h0M100.5 76.8h0M124.6 40.6h0M80.3 91.0h0M66.4 56.2h0M80.9 56.8h0M106.3 68.3h0M99.3 90.0h0M94.7 87.8h0M44.4 75.9h0M94.4 90.3h0M65.9 60.8h0M78.5 52.1h0M112.7 78.4h0M74.8 53.7h0M128.6 50.0h0M124.5 51.5h0M65.3 81.9h0M52.1 83.6h0M75.4 82.7h0M97.2 79.5h0M65.6 29.8h0M103.2 60.2h0M103.0 87.0h0M96.4 74.2h0M101.3 30.7h0M67.1 83.4h0M70.5 77.7h0M73.3 84.2h0M95.7 81.2h0M54.2 37.6h0M74.0 37.1h0M94.9 91.0h0M127.0 43.6h0M68.9 67.9h0M94.8 87.7h0M88.4 61.7h0M69.9 79.1h0M125.7 89.5h0M96.3 91.8h0M97.9 90.7h0M119.4 84.4h0M90.5 84.9h0M48.7 67.2h0M90.6 78.5h0M117.8 43.4h0M79.0 59.8h0M109.3 46.8h0M81.7 91.0h0M94.8 90.4h0M79.8 25.6h0M75.6 62.0h0M89.4 67.1h0M92.5 84.7h0M104.2 72.7h0M49.5 36.7h0M97.2 78.3h0M91.0 84.5h0M64.3 67.2h0M105.2 85.2h0M99.2 91.6h0M99.3 74.0h0M104.8 87.9h0M122.5 32.0h0M126.9 84.1h0M67.9 82.4h0M69.4 87.1h0M56.1 83.3h0M114.2 25.1h0M90.3 86.5h0M107.5 57.3h0M106.2 51.3h0M115.6 51.6h0M96.0 26.4h0M101.2 61.5h0M45.9 30.5h0M88.6 87.3h0M68.5 89.7h0M105.6 79.5h0M92.3 59.1h0M90.5 38.9h0M79.6 82.4h0M79.8 87.7h0M68.9 74.7h0M112.7 46.4h0M115.1 91.5h0M97.8 38.4h0M73.5 89.5h0M72.0 46.9h0M113.4 88.0h0M57.1 58.7h0M97.6 25.2h0M92.2 91.7h0M52.4 90.6h0M53.4 92.1h0M97.5 52.7h0M67.5 86.1h0M53.7 84.7h0M74.5 82.0h0M91.8 82.9h0M120.5 89.2h0M68.8 44.8h0M108.5 64.9h0M77.9 82.2h0M92.3 87.1h0M82.9 90.8h0M71.2 62.4h0M96.0 85.3h0M78.9 78.7h0M55.5 83.3h0M99.9 90.2h0M68.9 90.7h0M77.4 63.8h0M83.0 78.8h0M72.7 90.5h0M88.9 78.4h0M66.9 86.3h0M76.9 87.8h0M88.8 84.8h0M89.1 68.6h0M116.8 72.2h0M90.5 36.8h0M78.8 87.0h0M77.9 86.6h0M83.1 91.3h0M65.4 87.8h0M71.7 89.8h0M90.0 83.4h0M81.4 73.0h0M73.3 70.8h0M66.3 86.5h0M103.9 30.2h0M68.0 75.9h0M73.2 76.3h0M126.2 22.7h0M52.5 22.8h0M120.6 22.7h0M118.0 22.4h0M124.5 22.6h0M76.4 22.4h0M80.1 22.8h0M53.8 22.6h0M52.0 22.8h0M99.9 22.5h0M105.9 22.6h0M114.4 22.8h0M89.3 22.7h0M91.0 22.3h0M49.5 22.6h0M92.2 22.7h0M101.6 22.7h0M117.5 22.4h0M76.3 22.5h0M46.6 22.4h0M71.0 22.7h0M48.4 22.6h0M61.2 22.4h0M107.8 22.8h0M124.9 22.4h0M101.8 22.4h0M76.8 22.8h0M111.4 22.4h0M114.0 22.6h0M57.9 22.4h0M116.2 22.8h0M49.8 22.4h0M101.1 22.4h0M62.5 22.7h0M116.3 22.3h0M106.8 22.5h0M68.3 22.6h0M105.5 22.3h0M48.9 22.6h0M66.1 22.8h0M75.0 22.6h0M106.9 22.7h0M61.4 22.5h0M98.9 22.7h0M112.8 22.4h0M50.5 22.7h0M73.8 22.6h0M106.6 22.4h0M105.5 22.7h0M82.0 22.8h0M62.6 22.6h0M80.4 22.7h0M54.3 22.5h0M48.4 22.7h0M93.1 22.4h0M123.7 22.6h0M53.8 22.9h0M101.6 22.8h0M126.3 22.6h0M46.1 22.4h0M100.2 22.8h0M95.6 22.5h0M60.6 22.4h0M119.9 22.8h0M62.8 22.6h0M115.0 22.3h0M103.1 22.8h0M45.2 22.7h0M56.2 22.5h0M66.5 22.6h0M48.6 22.3h0M50.6 22.5h0M71.5 22.7h0M62.8 22.4h0M67.0 22.5h0M78.4 22.8h0M90.9 22.7h0M58.0 22.4h0M47.1 22.4h0M113.2 22.8h0M108.8 22.7h0M57.9 22.6h0M91.8 22.4h0M45.4 22.8h0M108.2 22.4h0M49.5 22.5h0M66.7 22.7h0M104.3 22.9h0M99.5 22.3h0M98.6 22.8h0M61.9 22.3h0M66.2 22.6h0M107.8 22.9h0M111.6 22.5h0M115.1 22.7h0M53.4 22.8h0M53.5 22.8h0M68.5 22.5h0M92.4 22.7h0M116.1 22.3h0M51.3 22.8h0M112.7 22.7h0M76.4 22.4h0M69.9 22.9h0M96.9 22.4h0M108.0 22.8h0M108.3 22.8h0M117.6 22.4h0M80.6 22.3h0M102.7 22.7h0" stroke="#2c2f8a" stroke-width="1.2" stroke-linecap="square" fill="none"/>
<line x1="38.40" y1="19.60" x2="38.40" y2="107.00" stroke="#000" stroke-width="0.8" />
<line x1="38.40" y1="107.00" x2="133.00" y2="107.00" stroke="#000" stroke-width="0.8" />
<line x1="36.00" y1="102.60" x2="38.40" y2="102.60" stroke="#000" stroke-width="0.8" />
<text x="31.90" y="102.60" font-family="Liberation Sans" font-size="9.5" text-anchor="middle" dominant-baseline="central" fill="#000" transform="rotate(-90 31.90 102.60)" >0</text>
<line x1="36.00" y1="86.60" x2="38.40" y2="86.60" stroke="#000" stroke-width="0.8" />
<text x="31.90" y="86.60" font-family="Liberation Sans" font-size="9.5" text-anchor="middle" dominant-baseline="central" fill="#000" transform="rotate(-90 31.90 86.60)" >2</text>
<line x1="36.00" y1="70.60" x2="38.40" y2="70.60" stroke="#000" stroke-width="0.8" />
<text x="31.90" y="70.60" font-family="Liberation Sans" font-size="9.5" text-anchor="middle" dominant-baseline="central" fill="#000" transform="rotate(-90 31.90 70.60)" >4</text>
<line x1="36.00" y1="54.60" x2="38.40" y2="54.60" stroke="#000" stroke-width="0.8" />
<text x="31.90" y="54.60" font-family="Liberation Sans" font-size="9.5" text-anchor="middle" dominant-baseline="central" fill="#000" transform="rotate(-90 31.90 54.60)" >6</text>
<line x1="36.00" y1="38.60" x2="38.40" y2="38.60" stroke="#000" stroke-width="0.8" />
<text x="31.90" y="38.60" font-family="Liberation Sans" font-size="9.5" text-anchor="middle" dominant-baseline="central" fill="#000" transform="rotate(-90 31.90 38.60)" >8</text>
<line x1="36.00" y1="22.60" x2="38.40" y2="22.60" stroke="#000" stroke-width="0.8" />
<text x="31.90" y="22.60" font-family="Liberation Sans" font-size="9.5" text-anchor="middle" dominant-baseline="central" fill="#000" transform="rotate(-90 31.90 22.60)" >10</text>
<line x1="42.50" y1="107.00" x2="42.50" y2="109.40" stroke="#000" stroke-width="0.8" />
<text x="42.50" y="113.80" font-family="Liberation Sans" font-size="9.5" text-anchor="middle" dominant-baseline="central" fill="#000" >&#8722;1.0</text>
<line x1="64.25" y1="107.00" x2="64.25" y2="109.40" stroke="#000" stroke-width="0.8" />
<text x="64.25" y="113.80" font-family="Liberation Sans" font-size="9.5" text-anchor="middle" dominant-baseline="central" fill="#000" >&#8722;0.5</text>
<line x1="86.00" y1="107.00" x2="86.00" y2="109.40" stroke="#000" stroke-width="0.8" />
<text x="86.00" y="113.80" font-family="Liberation Sans" font-size="9.5" text-anchor="middle" dominant-baseline="central" fill="#000" >0.0</text>
<line x1="107.75" y1="107.00" x2="107.75" y2="109.40" stroke="#000" stroke-width="0.8" />
<text x="107.75" y="113.80" font-family="Liberation Sans" font-size="9.5" text-anchor="middle" dominant-baseline="central" fill="#000" >0.5</text>
<line x1="129.50" y1="107.00" x2="129.50" y2="109.40" stroke="#000" stroke-width="0.8" />
<text x="129.50" y="113.80" font-family="Liberation Sans" font-size="9.5" text-anchor="middle" dominant-baseline="central" fill="#000" >1.0</text>
<text x="85.00" y="124.00" font-family="Liberation Sans" font-size="13" text-anchor="middle" dominant-baseline="central" fill="#000" >L1&#8722;3 (<tspan font-family="Liberation Serif">&#916;&#936;</tspan>)</text>
<text x="19.90" y="62.60" font-family="Liberation Sans" font-size="13.5" text-anchor="middle" dominant-baseline="central" fill="#000" transform="rotate(-90 19.90 62.60)" >&#8722;Log10(FDR)</text>
<path d="M73.8 228.6h0M95.0 227.6h0M70.3 228.7h0M99.6 223.4h0M102.9 227.4h0M81.3 221.0h0M100.1 226.1h0M82.8 224.2h0M84.6 228.5h0M96.6 219.7h0M69.5 225.8h0M87.8 221.8h0M106.4 225.4h0M109.9 226.3h0M83.6 224.8h0M96.0 220.7h0M101.3 224.1h0M97.8 226.8h0M84.8 220.9h0M89.8 227.0h0M104.2 226.9h0M71.4 222.9h0M84.7 221.9h0M92.2 228.3h0M65.4 227.3h0M77.9 222.9h0M85.5 227.4h0M77.6 220.3h0M64.7 230.3h0M98.4 226.4h0M82.8 220.1h0M80.2 230.2h0M80.2 220.3h0M80.1 224.6h0M82.4 219.8h0M82.8 220.0h0M74.2 222.3h0M68.5 227.2h0M103.3 222.1h0M82.6 220.7h0M102.5 225.1h0M67.9 229.5h0M89.0 221.8h0M82.9 224.6h0M100.6 220.9h0M88.4 227.5h0M100.5 220.1h0M66.7 227.6h0M82.2 223.4h0M80.0 219.7h0M84.4 229.6h0M80.0 223.5h0M87.9 224.6h0M70.0 228.8h0M93.4 222.5h0M81.8 229.4h0M81.2 228.0h0M97.2 225.3h0M94.9 220.1h0M90.1 223.9h0M88.7 220.4h0M66.3 225.1h0M75.1 224.6h0M76.2 219.9h0M95.2 226.9h0M97.6 221.3h0M78.1 221.6h0M71.1 228.1h0M76.5 230.7h0M61.3 229.9h0M60.6 230.1h0M96.1 220.8h0M97.9 229.1h0M75.7 226.0h0M76.7 222.8h0M73.3 230.1h0M98.7 227.1h0M96.4 225.0h0M98.6 222.5h0M113.2 229.5h0M99.1 223.8h0M95.1 229.6h0M63.9 230.5h0M74.6 221.7h0M77.0 227.8h0M96.4 225.5h0M101.5 220.2h0M99.4 229.4h0M83.2 220.7h0M98.6 220.2h0M58.1 225.1h0M62.4 226.4h0M80.8 226.0h0M70.6 222.6h0M89.0 222.7h0M99.3 222.6h0M71.2 222.1h0M76.3 221.5h0M89.3 219.9h0M78.7 220.6h0M104.1 223.3h0M81.9 222.4h0M113.0 229.6h0M68.3 227.3h0M65.2 230.6h0M88.6 225.0h0M75.8 220.0h0M83.6 226.5h0M109.1 230.2h0M91.9 225.3h0M93.3 222.2h0M84.7 222.1h0M88.0 221.4h0M64.8 230.0h0M99.6 227.1h0M74.4 227.2h0M101.3 224.4h0M90.2 224.2h0M76.9 223.3h0M96.6 222.8h0M112.0 228.1h0M100.2 223.2h0M91.1 224.8h0M71.5 221.2h0M74.1 226.9h0M67.5 224.6h0M79.7 220.1h0M73.8 221.1h0M62.2 229.9h0M98.7 221.0h0M100.6 220.7h0M97.7 227.3h0M85.1 229.4h0M61.2 227.9h0M80.9 221.8h0M83.5 226.2h0M106.1 227.3h0M88.5 221.0h0M112.2 226.4h0M75.6 228.5h0M98.4 225.5h0M78.2 220.1h0M79.7 220.0h0M77.4 220.5h0M98.7 230.6h0M89.6 226.0h0M115.5 225.7h0M101.1 229.5h0M82.9 228.9h0M100.4 227.6h0M96.3 222.4h0M64.0 228.9h0M79.6 229.9h0M94.4 221.9h0M77.2 229.2h0M105.0 227.9h0M72.5 223.6h0M97.9 224.4h0M69.9 219.8h0M97.1 221.3h0M94.5 225.4h0M72.8 225.4h0M60.9 229.0h0M110.1 227.6h0M85.3 227.9h0M63.5 229.4h0M71.5 225.2h0M111.0 229.1h0M74.3 229.9h0M72.2 224.4h0M77.7 222.9h0M69.3 228.9h0M105.9 227.6h0M87.5 228.1h0M70.1 226.6h0M101.3 220.6h0M57.5 228.8h0M83.8 226.2h0M91.8 229.0h0M94.3 221.7h0M70.1 227.2h0M93.8 219.8h0M78.6 224.3h0M81.8 230.3h0M82.2 230.2h0M71.2 223.5h0M92.3 230.1h0M69.5 221.3h0M96.9 229.3h0M83.4 222.1h0M81.3 225.2h0M95.8 226.8h0M89.3 221.2h0M72.5 222.5h0M95.4 227.1h0M69.8 220.2h0M67.3 228.0h0M89.0 223.8h0M61.6 229.5h0M82.0 225.3h0M103.2 226.1h0M102.1 225.4h0M100.4 221.2h0M90.6 223.7h0M95.8 227.9h0M80.4 228.1h0M99.0 229.4h0M81.5 226.8h0M99.6 221.8h0M89.8 225.2h0M80.5 227.2h0M83.6 222.0h0M77.1 223.4h0M105.8 224.9h0M74.7 228.8h0M104.5 227.9h0M111.2 225.6h0M88.3 229.9h0M75.4 228.9h0M90.7 225.3h0M94.0 225.1h0M89.7 230.0h0M74.9 223.8h0M63.6 227.9h0M77.9 226.3h0M113.2 225.7h0M82.4 227.3h0M77.9 228.9h0M88.4 227.7h0M69.6 220.3h0M71.4 223.3h0M82.2 222.7h0M78.4 226.9h0M93.3 226.4h0M89.9 226.4h0M93.5 226.3h0M98.1 224.7h0M72.2 221.3h0M83.5 226.5h0M81.8 224.4h0M91.8 225.6h0M83.5 230.1h0M95.9 223.0h0M91.1 220.0h0M58.9 229.8h0M66.9 227.7h0M67.4 229.7h0M101.1 224.0h0M68.6 224.5h0M93.1 225.6h0M81.3 222.4h0M79.2 219.9h0M69.7 225.5h0M88.9 228.6h0M80.7 227.6h0M79.0 219.9h0M97.6 225.5h0M92.1 228.3h0M88.6 222.2h0M75.3 221.5h0M70.3 230.4h0M108.0 227.6h0M96.9 226.3h0M96.7 221.2h0M79.5 225.3h0M102.8 220.7h0M95.9 229.2h0M99.0 220.1h0M98.9 225.4h0M103.6 228.6h0M75.8 223.1h0M71.0 219.8h0M76.1 225.9h0M101.1 223.3h0M93.8 223.0h0M82.2 225.3h0M83.2 230.6h0M93.0 225.9h0M99.0 221.9h0M114.7 229.6h0M66.4 226.5h0M110.9 230.5h0M88.3 223.2h0M70.6 224.0h0M70.6 222.3h0M93.7 221.4h0M98.3 225.2h0M96.2 226.3h0M92.6 221.2h0M71.0 223.3h0M74.3 228.1h0M89.5 223.9h0M56.0 230.8h0M100.6 222.5h0M67.6 221.3h0M83.7 228.1h0M78.0 230.8h0M65.2 222.3h0M93.1 226.0h0M83.7 227.0h0M94.8 220.1h0M84.4 228.9h0M105.4 227.4h0M98.7 224.4h0M88.1 220.8h0M82.3 229.7h0M80.7 220.4h0M73.9 222.8h0M89.1 227.9h0M95.8 223.4h0M80.6 220.5h0M78.7 226.8h0M107.8 224.8h0M70.0 226.5h0M88.4 224.3h0M75.9 222.2h0M102.6 221.1h0M67.4 228.9h0M109.6 228.5h0M83.1 220.8h0M78.5 221.5h0M84.0 226.5h0M61.2 223.5h0M77.5 229.5h0M62.3 229.5h0M74.4 220.9h0M92.7 230.2h0M108.3 225.6h0M95.2 228.4h0M74.4 223.2h0M59.7 229.2h0M59.6 225.8h0M61.4 228.3h0M71.1 224.4h0M94.9 223.0h0M95.3 225.3h0M88.8 226.0h0M72.0 222.3h0M94.0 225.7h0M76.9 228.9h0M60.0 230.2h0M74.1 223.3h0M94.3 230.8h0M84.1 221.4h0M76.8 221.1h0M91.2 221.2h0M84.4 227.5h0M74.0 220.0h0M92.9 225.0h0M101.8 222.1h0M99.9 227.1h0M111.3 226.8h0M106.0 227.5h0M92.0 220.8h0M92.4 221.2h0M99.2 220.0h0M89.1 221.6h0M69.8 220.0h0M84.1 224.8h0M77.2 225.3h0M76.1 222.4h0M80.8 230.2h0M59.9 224.6h0M88.2 225.9h0M76.9 220.7h0M60.8 228.6h0M99.8 223.7h0M65.2 225.9h0M82.4 230.0h0M91.8 227.1h0M73.3 225.2h0M76.1 227.5h0M90.6 227.4h0M99.9 225.7h0M81.8 228.4h0M102.6 227.1h0M68.5 222.1h0M61.0 223.9h0M72.0 230.3h0M64.2 226.0h0M90.6 229.4h0M82.8 224.5h0M84.2 228.7h0M87.4 223.9h0M90.1 220.7h0M61.2 228.5h0M64.6 227.8h0M66.2 224.4h0M72.2 224.0h0M85.0 228.0h0M74.6 222.9h0M66.3 228.5h0M66.4 224.0h0M81.2 220.9h0M63.2 226.1h0M71.6 222.8h0M84.7 228.0h0M98.1 219.7h0M87.5 223.2h0M96.7 226.9h0M81.8 219.7h0M74.8 220.1h0M96.1 219.7h0M108.1 220.2h0M67.9 223.3h0M66.9 229.9h0M75.8 223.7h0M101.6 225.1h0M83.0 225.6h0M74.9 225.5h0M77.4 223.9h0M98.8 222.4h0M75.5 230.0h0M87.8 220.3h0M78.0 230.3h0M58.2 228.4h0M112.7 224.1h0M59.7 229.3h0M82.8 222.6h0M92.7 229.2h0M84.1 222.4h0M73.1 228.5h0M66.7 220.6h0M98.8 225.2h0M64.2 226.8h0M84.3 221.9h0M62.7 230.1h0M99.3 224.9h0M85.1 227.3h0M75.6 223.9h0M75.3 228.2h0M103.5 223.2h0M93.4 222.6h0M70.4 222.5h0M81.7 221.6h0M110.9 222.7h0M95.5 227.4h0M93.2 220.8h0M61.5 223.1h0M77.5 229.2h0M78.1 227.3h0M73.4 222.4h0M75.5 222.7h0M76.2 221.5h0M91.0 224.4h0M56.3 225.0h0M75.9 230.7h0M78.3 222.0h0M70.6 228.0h0M105.6 225.4h0M68.8 230.2h0M99.1 220.2h0M68.4 221.5h0M68.1 223.2h0M80.5 227.0h0M79.6 224.7h0M57.1 227.4h0M97.7 219.9h0M74.9 229.8h0M64.6 226.6h0M113.0 230.1h0M82.4 226.4h0M82.3 222.0h0M94.1 230.1h0M92.4 229.8h0M74.7 227.5h0M89.4 226.6h0M112.9 230.2h0M80.0 222.2h0M72.5 223.6h0M95.9 225.7h0M85.6 228.6h0M90.1 228.0h0M71.3 227.1h0M99.6 230.1h0M93.0 220.3h0M74.5 227.5h0M116.9 228.3h0M89.6 224.6h0M100.8 226.0h0M79.6 229.3h0M90.4 224.0h0M104.2 220.0h0M99.3 230.5h0M94.2 225.7h0M73.4 223.7h0M57.4 230.2h0M84.1 223.2h0M96.3 223.1h0M94.1 223.7h0M88.8 221.0h0M74.1 228.2h0M75.1 224.1h0M111.3 224.3h0M74.9 223.2h0M90.7 226.9h0M91.9 230.3h0M101.8 221.4h0M102.1 228.9h0M94.3 225.9h0M100.4 225.6h0M66.5 223.4h0M65.3 222.9h0M105.4 220.6h0M90.5 228.0h0M93.6 228.4h0M83.6 226.6h0M71.5 223.5h0M64.8 224.8h0M100.4 221.2h0M64.3 229.8h0M109.3 228.4h0M79.1 225.3h0M66.3 225.9h0M68.2 223.8h0M89.0 227.3h0M95.1 222.9h0M78.0 221.5h0M73.6 224.0h0M92.9 227.4h0M76.8 222.0h0M107.1 223.4h0M67.3 222.5h0M89.0 230.7h0M80.1 223.3h0M85.5 226.0h0M95.9 224.0h0M75.6 222.9h0M115.6 227.2h0M69.7 227.7h0M72.6 229.7h0M81.9 229.5h0M106.3 228.2h0M100.4 228.2h0M77.1 228.0h0M66.4 221.3h0M69.7 228.0h0M105.2 226.4h0M101.2 223.4h0M95.8 224.4h0M67.2 226.7h0M82.5 227.8h0M85.0 225.6h0M70.4 222.9h0M65.4 225.3h0M77.2 220.1h0M107.0 220.4h0M89.6 223.8h0M73.9 220.3h0M71.4 222.8h0M77.1 219.9h0M109.6 226.1h0M104.9 223.9h0M108.9 224.6h0M74.0 228.3h0M81.1 230.1h0M80.4 225.9h0M94.1 222.0h0M72.9 225.9h0M78.2 222.0h0M68.0 229.2h0M83.5 226.6h0M76.1 226.6h0M83.6 222.6h0M82.1 229.0h0M74.7 222.9h0M88.1 230.1h0M93.0 220.3h0M69.4 221.5h0M82.4 221.9h0M83.9 222.1h0M83.7 222.8h0M72.4 227.7h0M64.7 224.5h0M80.8 230.4h0M90.1 225.5h0M100.0 222.0h0M76.4 220.5h0M95.7 227.0h0M61.5 223.0h0M103.6 230.1h0M76.5 226.4h0M113.7 229.9h0M81.8 228.8h0M84.4 227.2h0M82.5 221.6h0M101.6 224.9h0M94.1 220.3h0M61.4 227.7h0M96.0 228.4h0M111.6 229.1h0M113.9 230.3h0M102.0 224.3h0M76.7 222.1h0M74.7 228.8h0M92.9 227.4h0M106.5 228.8h0M82.2 226.1h0M78.8 219.9h0M107.7 227.6h0M101.9 229.8h0M90.7 228.9h0M68.2 227.5h0M94.9 221.5h0M87.5 228.9h0M81.9 229.1h0M93.8 222.5h0M76.6 223.4h0M83.1 221.7h0M73.4 228.1h0M93.5 225.0h0M82.9 227.6h0M81.8 220.8h0M101.8 224.8h0M83.7 226.5h0M87.8 226.5h0M83.2 223.7h0M61.4 226.8h0M95.5 226.7h0M95.7 222.8h0M106.1 227.4h0M91.4 219.7h0M98.5 220.7h0M90.6 220.5h0M80.6 227.0h0M98.9 222.2h0M100.4 222.9h0M92.5 221.7h0M109.1 227.5h0M69.2 222.5h0M73.9 222.2h0M96.5 220.0h0M96.7 222.8h0M94.3 226.7h0M99.9 227.7h0M74.5 222.9h0M70.1 229.3h0M95.8 224.0h0M85.2 223.9h0M109.0 227.5h0M72.2 227.0h0M62.6 230.2h0M77.3 220.6h0M63.1 223.6h0M110.7 224.4h0M57.1 230.5h0M103.1 228.5h0M107.1 221.1h0M79.7 229.8h0M90.1 225.6h0M107.8 222.4h0M81.4 223.2h0M62.7 230.0h0M83.7 221.9h0M102.0 224.2h0M95.9 230.6h0M72.0 220.5h0M75.7 229.0h0M102.8 228.5h0M83.2 221.7h0M100.5 225.7h0M95.5 224.7h0M67.6 228.3h0M88.8 220.1h0M64.8 219.9h0M63.8 229.7h0M89.9 221.0h0M113.1 230.8h0M97.0 227.1h0M88.8 228.4h0M85.5 227.6h0M61.7 229.1h0M109.5 221.5h0M91.7 228.0h0M116.0 229.6h0M111.3 227.0h0M109.4 230.4h0M116.7 230.8h0M73.2 229.5h0M82.9 220.6h0M96.5 224.2h0M66.1 223.0h0M98.6 220.4h0M88.7 228.7h0M102.7 227.8h0M100.4 228.3h0M96.5 222.2h0M91.8 222.4h0M71.4 228.1h0M68.9 220.5h0M81.8 219.9h0M91.9 220.5h0M75.3 226.5h0M73.7 227.6h0M90.3 221.0h0M85.4 220.1h0M107.5 223.0h0M87.5 228.0h0M93.8 221.4h0M81.4 221.6h0M78.7 223.8h0M97.1 224.4h0M78.9 221.4h0M88.2 221.1h0M76.3 224.6h0M115.2 230.2h0M67.3 227.8h0M106.6 221.8h0M98.0 223.2h0M71.2 227.0h0M95.0 230.6h0M96.2 227.2h0M96.6 222.8h0M107.5 222.0h0M99.1 223.1h0M110.8 225.5h0M90.1 229.1h0M94.8 227.1h0M84.8 229.5h0M78.0 222.1h0M81.7 225.9h0M115.4 229.9h0M102.0 226.7h0M73.1 221.3h0M74.9 222.7h0M111.4 225.0h0M70.7 220.6h0M92.7 223.8h0M69.3 221.4h0M63.6 229.5h0M78.9 225.5h0M71.2 221.6h0M69.5 228.7h0M75.9 222.8h0M80.9 225.5h0M94.3 230.0h0M105.6 224.2h0M102.6 223.7h0M84.6 223.9h0M80.5 226.5h0M102.2 220.6h0M83.7 225.4h0M105.6 222.9h0M96.2 222.0h0M97.5 224.5h0M113.7 226.6h0M85.2 221.7h0M74.3 230.6h0M61.3 230.3h0M75.7 223.9h0M98.1 222.3h0M82.5 220.9h0M72.6 220.5h0M79.7 222.6h0M60.3 224.2h0M71.3 222.2h0M108.4 224.0h0M69.1 223.6h0M63.7 220.8h0M107.7 224.1h0M105.3 221.4h0M75.9 227.9h0M69.5 223.0h0M91.1 221.5h0M60.2 229.1h0M78.8 220.5h0M90.8 225.8h0M75.9 224.9h0M100.6 229.6h0M73.5 222.7h0M82.7 222.0h0M75.1 221.4h0M92.8 220.4h0M94.2 220.7h0M71.3 221.4h0M83.1 227.2h0M85.6 224.9h0M103.6 228.3h0M64.7 225.8h0M85.7 221.9h0M97.0 221.0h0M110.5 228.8h0M82.4 230.1h0M82.7 226.1h0M90.5 226.3h0M90.7 221.9h0M111.4 227.5h0M94.4 227.0h0M99.4 219.8h0M57.2 229.2h0M91.8 220.7h0M77.8 226.7h0M78.3 227.2h0M110.7 225.5h0M95.0 224.6h0M106.8 226.8h0M84.2 220.7h0M97.6 222.3h0M87.5 223.1h0M79.7 228.4h0M62.8 227.9h0M62.9 228.4h0M98.3 228.8h0M92.4 225.8h0M66.8 225.7h0M91.0 225.9h0M78.2 228.1h0M70.2 227.1h0M58.2 229.2h0M94.5 226.4h0M110.1 225.1h0M88.7 226.7h0M111.5 225.5h0M74.7 223.7h0M92.7 223.3h0M104.1 220.8h0M87.8 224.1h0M82.3 228.9h0M93.9 223.5h0M99.2 228.7h0M82.4 223.5h0M74.8 219.8h0M66.4 227.6h0M92.9 227.5h0M88.9 228.0h0M80.1 230.2h0M115.7 225.5h0M105.0 227.9h0M101.7 230.2h0M92.3 222.6h0M63.7 225.7h0M58.6 226.0h0M84.4 222.5h0M74.2 221.9h0M72.6 220.7h0M88.9 229.5h0M74.7 222.4h0M84.3 221.5h0M91.2 221.3h0M62.6 226.3h0M79.7 220.6h0M83.2 224.8h0M107.4 223.2h0M90.8 225.6h0M68.7 223.0h0M95.5 221.0h0M94.8 219.8h0M92.6 229.1h0M94.4 223.8h0M104.0 230.7h0M67.9 219.9h0M95.7 226.9h0M89.4 221.7h0M111.3 222.2h0M71.5 227.6h0M101.3 225.4h0M75.0 226.4h0M70.7 226.4h0M107.7 220.5h0M107.2 225.9h0M105.0 221.0h0M83.7 220.4h0M88.7 221.5h0M75.9 224.3h0M75.4 220.7h0M79.4 226.6h0M80.8 222.1h0M83.3 223.6h0M61.7 225.3h0M101.0 227.1h0M94.3 224.3h0M97.9 225.3h0M74.4 229.1h0M82.4 223.3h0M91.5 228.5h0M96.3 230.5h0M61.6 229.2h0M67.9 221.6h0M89.0 221.9h0M102.1 224.4h0M88.3 224.1h0M104.3 227.8h0M95.2 229.7h0M80.3 226.4h0M89.2 223.0h0M89.0 230.2h0M80.0 221.9h0M69.6 220.4h0M90.1 230.3h0M78.4 230.5h0M101.5 227.2h0M99.6 226.2h0M74.6 227.5h0M97.8 222.8h0M88.3 230.4h0M92.1 230.0h0M90.9 225.7h0M87.5 223.1h0M94.7 227.2h0M97.4 228.2h0M73.2 222.0h0M71.6 230.7h0M83.5 224.6h0M92.5 228.0h0M69.6 226.8h0M101.4 225.0h0M91.1 222.1h0M102.7 222.7h0M57.7 223.5h0M93.0 230.4h0M107.5 220.7h0M62.4 229.6h0M74.4 226.2h0M84.5 222.0h0M94.2 222.9h0M64.8 227.8h0M85.6 220.4h0M114.6 229.5h0M76.2 228.9h0M95.9 223.4h0M94.4 222.3h0M92.6 221.0h0M97.0 222.2h0M98.2 220.2h0M112.4 227.1h0M84.8 229.3h0M91.8 221.7h0M74.8 228.7h0M85.2 230.8h0M100.2 226.6h0M73.3 226.2h0M111.3 227.9h0M74.6 221.2h0M81.4 224.8h0M97.2 224.2h0M74.4 221.5h0M83.8 221.1h0M98.3 227.5h0M82.7 221.3h0M94.6 219.9h0M62.5 225.2h0M80.6 225.8h0M91.1 224.8h0M99.0 227.7h0M82.1 223.9h0M112.5 223.1h0M94.2 221.1h0M69.3 225.3h0M111.0 230.1h0M71.5 227.7h0M76.5 228.0h0M84.3 226.6h0M72.7 225.9h0M69.9 226.1h0M101.3 222.7h0M88.8 230.8h0M64.3 222.5h0M69.4 229.1h0M71.7 221.5h0M108.8 229.3h0M81.6 224.7h0M94.9 225.5h0M104.7 226.4h0M106.1 229.0h0M93.8 222.6h0M67.3 229.8h0M67.0 226.8h0M96.6 229.9h0M91.0 225.1h0M91.9 223.7h0M74.1 222.3h0M67.5 223.4h0M76.4 221.5h0M96.7 220.2h0M97.5 222.3h0M89.4 222.5h0M55.9 222.4h0M65.1 226.0h0M114.6 228.4h0M67.6 220.8h0M91.8 221.4h0M65.3 230.4h0M78.9 220.5h0M102.7 220.3h0M80.8 226.1h0M100.0 225.4h0M80.5 222.3h0M91.7 222.7h0M81.9 227.5h0M106.8 225.2h0M88.7 220.2h0M94.7 225.4h0M93.8 230.6h0M85.7 229.7h0M114.9 225.4h0M68.1 229.3h0M103.0 230.5h0M71.2 229.3h0M111.0 226.3h0M66.4 221.2h0M92.9 226.7h0M67.9 225.0h0M72.6 227.4h0M103.4 225.8h0M84.9 224.1h0M113.0 223.7h0M67.2 230.3h0M93.2 220.2h0M90.9 228.6h0M89.4 221.5h0M80.9 223.9h0M103.0 222.6h0M92.0 226.3h0M94.3 229.9h0M105.2 227.8h0M67.5 227.9h0M89.6 227.1h0M91.8 228.7h0M95.6 220.1h0M84.7 220.9h0M96.7 227.2h0M81.0 227.0h0M80.1 222.5h0M91.2 228.9h0M103.4 222.5h0M69.2 221.2h0M104.3 225.3h0M100.6 222.9h0M107.5 222.2h0M94.3 221.1h0M75.7 228.6h0M67.5 225.2h0M71.3 227.2h0M83.5 220.6h0M84.1 228.7h0M91.2 220.6h0M77.1 227.0h0M100.5 222.5h0M59.2 228.2h0M102.9 220.2h0M71.6 230.5h0M89.3 219.8h0M96.2 221.4h0M107.4 228.1h0M89.8 221.8h0M98.0 229.9h0M116.1 227.5h0M89.2 222.7h0M94.7 230.5h0M84.4 230.2h0M81.2 224.1h0M100.9 230.4h0M83.5 222.2h0M93.8 221.1h0M84.3 220.2h0M81.5 227.7h0M79.9 229.2h0M94.3 229.8h0M93.7 220.8h0M74.6 224.2h0M102.9 221.5h0M75.7 222.2h0M101.2 224.5h0M69.2 226.7h0M92.6 223.5h0M95.6 227.7h0M89.3 225.4h0M109.5 228.8h0M100.5 226.3h0M57.0 226.4h0M109.5 226.5h0M81.2 228.1h0M84.7 219.8h0M97.9 228.5h0M71.4 228.5h0M96.7 228.1h0M90.5 222.4h0M73.9 225.4h0M98.4 229.2h0M97.0 228.3h0M74.8 225.1h0M85.5 225.8h0M79.6 220.1h0M104.5 226.3h0M87.8 229.0h0M73.0 221.7h0M77.2 222.7h0M100.3 227.9h0M85.0 222.9h0M93.3 222.7h0M102.4 219.8h0M96.8 225.7h0M96.4 222.5h0M64.6 220.6h0M65.9 226.8h0M91.0 224.0h0M77.0 220.6h0M114.3 226.1h0M104.2 222.4h0M99.7 229.1h0M85.7 228.8h0M96.3 230.6h0M61.0 227.2h0M113.2 223.1h0M90.4 223.6h0M95.3 227.7h0M68.7 219.8h0M99.8 222.4h0M96.3 222.7h0M81.0 220.1h0M79.6 221.1h0M87.5 222.5h0M79.2 226.6h0M104.7 230.6h0M85.1 229.7h0M88.2 224.2h0M103.1 220.0h0M75.9 222.9h0M96.7 224.0h0M80.1 220.0h0M111.4 230.2h0M94.3 226.3h0M80.4 230.7h0M114.7 230.0h0M115.5 226.0h0M80.7 226.4h0M77.1 222.1h0M99.2 222.6h0M75.9 220.0h0M82.3 220.8h0M75.6 222.0h0M91.4 222.8h0M81.6 227.6h0M104.7 225.9h0M83.6 227.2h0M112.7 228.9h0M98.0 226.3h0M84.4 223.6h0M90.2 223.0h0M73.6 220.9h0M69.1 219.8h0M105.4 229.5h0M89.1 224.3h0M77.4 225.1h0M97.9 229.7h0M92.9 228.1h0M88.7 228.3h0M112.8 225.4h0M99.7 220.5h0M82.0 227.8h0M83.6 229.9h0M115.3 230.5h0M108.8 229.5h0M88.0 226.1h0M87.7 226.5h0M75.7 219.9h0M70.6 220.1h0M92.2 224.8h0M74.9 229.7h0M77.6 227.9h0M78.0 224.3h0M94.4 221.6h0M69.3 225.8h0M91.7 229.1h0M68.2 229.3h0M99.8 226.1h0M98.9 222.3h0M91.1 223.8h0M76.6 221.3h0M75.9 219.8h0M74.6 229.9h0M105.3 223.7h0M72.2 222.6h0M64.5 228.7h0M79.9 227.2h0M96.7 225.8h0M78.3 228.7h0M76.6 220.2h0M73.7 223.8h0M55.8 225.3h0M88.6 222.5h0M66.8 225.7h0M69.4 227.1h0M71.0 227.5h0M79.8 225.7h0M95.7 227.1h0M90.1 228.8h0M99.0 225.9h0M76.8 221.1h0M107.8 224.5h0M83.5 228.5h0M110.6 226.7h0M87.4 221.2h0M87.5 225.9h0M109.2 226.8h0M108.2 225.5h0M89.5 223.6h0M94.5 226.7h0M63.0 230.7h0M83.7 224.9h0M71.5 221.1h0M71.3 229.7h0M101.6 220.7h0M91.3 230.3h0M62.3 226.2h0M76.2 220.4h0M71.5 227.4h0M90.6 226.1h0M87.5 229.9h0M104.0 229.1h0M85.4 223.8h0M89.9 225.4h0M84.4 229.8h0M100.6 224.2h0M81.6 229.3h0M92.2 223.9h0M95.9 223.3h0M100.8 224.2h0M70.1 228.8h0M101.4 227.5h0M94.2 221.7h0M76.5 225.2h0M84.5 229.7h0M102.4 225.4h0M68.3 230.3h0M63.6 225.0h0M60.2 224.5h0M91.4 229.0h0M106.1 226.6h0M68.3 220.0h0M94.8 224.7h0M97.8 227.2h0M88.3 230.4h0M97.8 228.6h0M91.8 229.2h0M76.5 228.3h0M97.2 222.7h0M75.7 223.9h0M83.4 229.5h0M73.2 229.5h0M113.9 227.3h0M67.8 225.0h0M96.3 220.1h0M90.6 225.2h0M92.4 220.9h0M98.9 224.2h0M69.1 222.4h0M87.8 227.5h0M98.9 225.6h0M103.6 229.9h0M88.2 223.2h0M93.6 224.5h0M81.2 227.6h0M95.5 225.3h0M77.2 221.6h0M83.0 220.7h0M74.7 225.1h0M97.2 220.7h0M70.9 228.2h0M67.1 224.8h0M104.1 224.0h0M75.4 224.3h0M97.4 227.9h0M110.6 228.9h0M102.9 224.5h0M92.9 227.5h0M89.2 227.6h0M84.7 222.1h0M60.9 228.5h0M89.6 227.6h0M85.0 228.2h0M100.3 220.4h0M62.7 227.6h0M88.7 221.3h0M81.2 226.8h0M110.7 220.9h0M107.3 226.0h0M80.3 223.4h0M92.2 227.0h0M71.7 226.9h0M94.5 220.8h0M63.9 226.4h0M66.7 222.8h0M101.3 220.6h0M60.9 224.3h0M87.8 230.3h0M68.8 221.4h0M71.8 226.0h0M73.5 219.8h0M68.9 224.8h0M99.1 222.1h0M77.5 220.0h0M62.7 229.7h0M99.7 228.0h0M80.7 223.1h0M79.6 225.2h0M90.5 227.0h0M67.8 220.0h0M75.9 222.9h0M99.7 228.4h0M97.8 226.8h0M103.1 221.5h0M88.2 224.0h0M97.1 222.6h0M61.0 222.5h0M67.3 224.0h0M73.1 222.0h0M99.7 225.4h0M78.6 221.1h0M111.4 229.5h0M92.8 227.6h0M90.2 225.4h0M95.1 227.4h0M107.2 223.3h0M85.2 223.3h0M78.2 227.4h0M91.2 224.2h0M77.0 230.8h0M98.0 221.1h0M65.6 225.6h0M87.3 229.5h0M94.3 226.5h0M100.0 227.6h0M116.4 224.4h0M112.9 230.2h0M84.7 227.9h0M103.3 224.1h0M101.1 223.9h0M80.1 227.4h0M77.7 227.4h0M88.5 225.9h0M94.8 223.6h0M81.5 225.4h0M69.4 221.7h0M89.8 221.9h0M97.5 222.4h0M80.1 220.1h0M74.1 221.4h0M67.6 229.0h0M76.3 224.7h0M92.7 221.4h0M85.5 226.7h0M90.6 223.3h0M69.1 228.3h0M72.5 230.1h0M85.5 222.9h0M84.1 226.3h0M78.3 230.7h0M109.5 228.8h0M96.4 223.6h0M72.8 220.9h0M110.9 225.3h0M97.2 223.8h0M75.4 228.7h0M92.4 228.7h0M79.3 221.1h0M105.8 225.1h0M89.5 225.0h0M113.9 228.7h0M69.4 227.2h0M79.4 220.5h0M70.0 227.2h0M95.5 221.7h0M84.3 230.0h0M80.8 221.3h0M100.5 224.1h0M84.1 219.8h0M82.7 222.2h0M78.8 230.5h0M81.1 221.1h0M74.2 221.6h0M108.8 225.4h0M89.1 226.2h0M65.0 230.1h0M68.4 228.1h0M81.6 226.4h0M100.1 227.2h0M83.4 223.1h0M80.3 227.5h0M114.0 223.4h0M85.3 224.5h0M73.2 220.0h0M105.4 222.6h0M76.9 229.0h0M82.6 227.8h0M77.3 221.5h0M75.3 221.4h0M100.1 220.9h0M96.6 225.9h0M95.9 226.3h0M71.6 227.9h0M73.1 226.1h0M105.6 224.4h0M97.3 224.3h0M95.7 224.0h0M87.3 225.0h0M73.0 227.3h0M90.8 222.3h0M116.1 228.1h0M83.2 230.4h0M84.3 220.9h0M59.5 221.5h0M92.2 221.3h0M93.6 221.5h0M85.2 223.4h0M91.2 229.3h0M113.3 224.4h0M79.7 229.4h0M74.9 225.1h0M67.2 221.7h0M92.6 229.5h0M72.1 230.4h0M100.1 220.7h0M75.4 220.4h0M73.7 222.2h0M84.5 223.4h0M89.3 222.2h0M82.3 230.0h0M102.6 226.4h0M91.6 228.2h0M78.9 224.7h0M85.6 224.0h0M89.0 227.0h0M70.2 220.5h0M65.2 226.3h0M84.7 219.8h0M77.9 220.5h0M74.1 222.8h0M91.3 225.5h0M82.9 220.1h0M93.8 223.7h0M75.4 224.3h0M88.5 220.3h0M76.8 228.0h0M102.6 228.1h0M100.1 230.1h0M84.6 223.9h0M81.6 222.4h0M71.6 229.5h0M98.3 222.9h0M95.5 230.0h0M111.6 230.1h0M66.6 227.5h0M97.0 224.3h0M72.9 224.1h0M61.1 226.0h0M79.9 227.7h0M75.0 224.8h0M96.2 226.9h0M91.8 227.9h0M109.9 229.8h0M81.0 230.3h0M108.3 224.4h0M98.6 226.5h0M70.1 225.7h0M76.6 224.9h0M90.9 230.3h0M67.1 227.3h0M94.0 229.0h0M69.7 227.8h0M98.1 220.5h0M102.4 229.8h0M107.9 221.9h0M107.7 221.8h0M81.9 230.1h0M84.7 230.4h0M101.7 229.7h0M94.6 222.0h0M95.4 220.3h0M109.6 226.0h0M99.8 223.1h0M89.3 229.5h0M79.1 226.9h0M82.1 226.0h0M83.3 228.5h0M81.1 225.4h0M95.7 221.2h0M91.0 220.8h0M84.8 228.5h0M99.9 230.0h0M67.8 222.2h0M89.9 224.9h0M93.2 225.3h0M102.5 229.1h0M84.0 225.4h0M93.1 222.5h0M101.1 220.4h0M111.2 227.6h0M99.1 223.8h0M83.2 228.0h0M99.8 230.5h0M94.1 229.3h0M96.4 222.1h0M75.6 223.0h0M102.6 221.0h0M66.7 221.0h0M85.6 220.4h0M56.6 225.5h0M106.2 223.7h0M90.2 225.3h0M74.5 227.6h0M95.8 220.3h0M72.2 222.5h0M61.6 222.8h0M76.7 228.1h0M90.1 227.5h0M77.5 223.0h0M115.7 227.9h0M101.7 220.6h0M110.6 230.0h0M72.9 221.4h0M82.8 219.8h0M114.8 229.2h0M103.5 230.5h0M99.6 226.2h0M92.7 222.7h0M99.3 230.1h0M80.2 223.6h0M79.0 224.7h0M95.7 229.8h0M74.8 226.1h0M102.4 226.0h0M90.9 221.3h0M76.1 222.2h0M70.0 220.4h0M87.6 222.2h0M99.7 220.6h0M71.2 228.0h0M85.2 229.6h0M91.8 225.4h0M75.9 220.3h0M76.5 228.0h0M81.1 222.8h0M93.0 219.8h0M89.1 220.9h0M61.7 229.4h0M78.5 226.6h0M84.2 220.0h0M106.6 226.6h0M83.5 230.8h0M88.4 226.0h0M83.7 221.5h0M69.2 225.4h0M89.8 220.7h0M95.2 228.6h0M78.0 229.0h0M78.0 220.2h0M79.9 223.5h0M106.4 225.3h0M95.9 228.5h0M58.8 227.3h0M77.9 225.6h0M83.9 223.2h0M110.1 227.9h0M91.6 223.1h0M74.1 224.7h0M76.9 221.3h0M106.5 221.8h0M80.5 221.6h0M92.6 222.4h0M70.7 229.7h0M95.9 222.2h0M108.4 223.1h0M106.1 225.4h0M73.1 226.2h0M115.4 225.8h0M93.4 230.4h0M117.2 228.8h0M111.3 228.6h0M80.3 219.7h0M77.9 225.1h0M73.7 229.9h0M100.3 222.8h0M69.3 223.4h0M111.8 230.5h0M104.0 228.8h0M84.1 224.2h0M89.6 221.9h0M62.4 222.7h0M79.0 223.1h0M90.7 222.8h0M81.1 222.8h0M102.0 226.7h0M61.1 229.2h0M91.5 220.2h0M100.9 221.8h0M80.0 229.1h0M84.4 222.4h0M77.7 225.8h0M62.6 228.5h0M97.9 223.4h0M65.8 222.2h0M96.6 228.7h0M110.7 221.3h0M77.8 222.7h0M77.4 230.7h0M76.1 221.5h0M76.5 225.5h0M81.5 219.9h0M72.4 221.3h0M89.4 221.1h0M100.0 226.0h0M64.0 229.3h0M98.1 229.2h0M78.2 225.3h0M57.5 228.5h0M61.2 221.5h0M89.4 225.8h0M91.7 225.3h0M97.2 230.4h0M81.2 220.4h0M73.4 222.5h0M95.9 224.9h0M96.6 220.0h0M77.1 226.2h0M82.8 223.3h0M74.9 229.5h0M95.9 222.9h0M90.8 227.9h0M90.6 220.7h0M100.7 226.7h0M77.3 220.5h0M74.9 224.4h0M106.6 224.5h0M95.0 224.3h0M85.6 221.6h0M90.7 222.6h0M85.1 221.8h0M77.5 229.8h0M91.8 230.0h0M89.2 220.6h0M78.3 221.2h0M74.6 221.5h0M61.0 226.1h0M74.1 229.7h0M82.2 227.3h0M85.5 224.3h0M58.3 228.6h0M94.5 230.0h0M106.1 230.6h0M79.8 220.9h0M108.2 224.3h0M93.8 225.9h0M89.5 227.1h0M67.8 225.1h0M78.3 230.3h0M108.7 227.8h0M74.2 225.0h0M82.3 224.9h0M74.1 219.9h0M97.9 223.4h0M90.3 222.3h0M83.8 226.4h0M81.4 221.0h0M83.6 226.6h0M74.3 224.8h0M84.6 224.2h0M81.4 219.9h0M107.0 223.2h0M111.5 226.5h0M99.5 229.4h0M85.6 224.3h0M60.3 229.4h0M69.3 225.3h0M67.8 229.1h0M71.9 225.4h0M105.2 221.1h0M67.4 229.0h0M83.8 223.4h0M71.2 225.9h0M80.8 229.6h0M92.6 225.7h0M76.6 221.1h0M109.0 225.6h0M84.0 227.8h0M91.4 230.1h0M70.7 225.5h0M65.7 224.8h0M63.8 224.2h0M93.8 225.6h0M74.3 220.5h0M98.6 221.2h0M67.0 226.4h0M104.6 226.5h0M95.5 223.8h0M88.1 221.8h0M61.3 225.0h0M79.5 227.6h0M60.6 226.3h0M104.7 221.1h0M94.6 229.4h0M97.2 221.3h0M77.5 220.3h0M88.9 229.6h0M97.0 226.1h0M111.9 229.8h0M70.9 221.9h0M91.8 223.2h0M81.4 225.2h0M115.8 222.3h0" stroke="#b0b0b0" stroke-width="1.2" stroke-linecap="square" fill="none"/>
<path d="M44.2 208.2h0M112.1 206.3h0M96.0 173.1h0M62.5 217.7h0M66.0 214.4h0M92.7 181.0h0M69.5 192.7h0M94.1 217.3h0M117.3 181.8h0M96.9 206.3h0M115.5 216.8h0M78.4 152.7h0M105.6 199.4h0M74.4 179.3h0M105.0 199.5h0M73.7 190.9h0M70.9 203.5h0M99.4 202.9h0M80.0 190.2h0M78.0 210.5h0M100.9 211.1h0M75.9 217.1h0M79.8 219.8h0M84.1 208.6h0M45.2 192.0h0M95.4 211.8h0M92.8 199.1h0M70.6 202.8h0M90.7 209.7h0M110.9 206.3h0M77.9 209.7h0M107.8 177.0h0M96.4 203.0h0M94.0 218.7h0M98.6 217.0h0M96.4 204.9h0M105.6 210.8h0M83.1 217.7h0M99.6 175.9h0M70.5 200.8h0M106.2 196.7h0M99.1 208.9h0M78.8 206.6h0M62.7 204.6h0M77.1 219.7h0M95.4 212.5h0M55.5 164.5h0M95.8 193.3h0M91.1 201.7h0M96.5 174.7h0M80.7 201.5h0M90.8 179.0h0M73.7 171.3h0M105.2 211.5h0M98.5 159.5h0M106.3 219.2h0M104.2 217.6h0M106.0 166.3h0M91.6 174.0h0M71.2 218.8h0M78.9 167.5h0M69.1 219.8h0M73.3 181.6h0M46.4 209.5h0M81.4 206.8h0M81.7 186.1h0M98.9 190.8h0M74.9 214.4h0M126.5 168.1h0M116.2 213.0h0M84.1 211.4h0M90.4 191.3h0M80.3 186.3h0M74.6 191.0h0M82.7 217.3h0M92.9 207.5h0M89.9 198.3h0M90.3 209.8h0M76.2 201.1h0M103.3 219.5h0M91.9 178.0h0M93.0 210.1h0M75.3 215.7h0M76.3 198.1h0M83.5 212.9h0M125.3 170.5h0M83.6 208.4h0M81.7 218.1h0M82.8 218.2h0M72.0 177.5h0M127.3 167.5h0M102.2 212.7h0M64.3 208.9h0M90.2 219.2h0M82.6 216.9h0M108.1 218.4h0M57.6 214.1h0M71.1 217.8h0M99.8 203.0h0M109.0 155.8h0M120.9 183.2h0M94.5 185.6h0M78.8 195.7h0M80.2 188.8h0M95.2 205.2h0M107.2 217.8h0M103.7 212.1h0M107.4 163.9h0M111.6 156.9h0M104.9 216.7h0M106.1 209.6h0M54.5 196.5h0M97.3 205.5h0M59.8 192.9h0M97.1 189.8h0M105.7 219.4h0M100.2 214.2h0M61.8 218.5h0M80.8 202.0h0M65.5 208.4h0M72.5 214.3h0M94.7 193.1h0M63.0 206.8h0M68.5 214.1h0M76.8 207.7h0M109.2 213.0h0M103.9 211.3h0M60.7 219.0h0M75.4 201.9h0M83.2 216.8h0M91.2 148.3h0M78.4 208.9h0M63.4 148.4h0M77.4 188.6h0M109.7 191.7h0M83.8 217.1h0M104.2 209.9h0M71.7 218.5h0M43.9 191.6h0M98.2 201.1h0M77.7 216.4h0M99.3 192.8h0M115.2 188.7h0M113.4 207.8h0M89.7 209.6h0M126.0 152.6h0M108.6 200.5h0M119.7 186.8h0M112.7 181.8h0M77.3 181.3h0M97.6 216.2h0M105.3 175.0h0M81.7 213.5h0M90.2 217.5h0M101.0 216.4h0M80.1 206.0h0M66.1 216.3h0M103.2 187.0h0M77.8 182.9h0M110.2 211.8h0M62.0 210.0h0M81.5 218.3h0M74.8 217.3h0M56.1 215.1h0M91.2 211.0h0M84.4 200.6h0M91.1 212.7h0M91.2 218.3h0M76.3 206.9h0M89.1 215.7h0M66.3 203.5h0M76.3 173.1h0M75.0 200.7h0M91.7 208.7h0M107.3 168.0h0M74.3 209.1h0M104.9 218.7h0M104.1 214.2h0M94.9 198.9h0M98.9 201.7h0M83.8 212.2h0M83.1 193.1h0M76.0 214.6h0M84.1 214.1h0M70.5 219.8h0M91.2 191.9h0M43.4 215.3h0M121.0 149.0h0M99.3 178.5h0M81.6 212.2h0M84.0 154.3h0M89.7 206.0h0M81.4 148.3h0M118.0 211.9h0M129.1 215.6h0M73.5 214.5h0M93.0 197.9h0M119.7 196.7h0M108.2 209.0h0M72.7 203.3h0M126.7 172.3h0M99.9 215.0h0M90.7 204.2h0M78.3 216.1h0M79.2 217.0h0M83.6 159.2h0M80.7 215.8h0M89.2 170.9h0M67.4 155.5h0M120.5 181.0h0M58.2 200.3h0M83.3 207.5h0M77.1 215.1h0M106.0 170.3h0M93.2 206.0h0M91.3 151.8h0M51.1 219.2h0M96.3 214.2h0M98.8 194.0h0M79.8 219.5h0M104.0 206.9h0M77.6 209.5h0M111.5 212.2h0M123.8 180.5h0M65.5 191.7h0M90.2 215.3h0M92.7 218.4h0M83.4 216.3h0M92.6 203.3h0M82.6 203.8h0M77.3 217.7h0M120.5 176.0h0M88.9 202.9h0M83.6 187.9h0M76.4 187.2h0M83.2 173.7h0M96.6 218.3h0M68.5 187.7h0M80.1 218.0h0M58.4 207.0h0M72.9 168.1h0M70.1 191.2h0M104.2 213.4h0M77.3 209.0h0M89.7 209.1h0M95.9 213.6h0M99.1 218.2h0M81.9 200.4h0M69.0 210.0h0M94.1 148.1h0M97.1 187.9h0M62.8 216.3h0M104.0 189.4h0M110.7 187.0h0M66.9 217.2h0M56.6 216.1h0M73.2 210.1h0M91.7 215.5h0M84.2 160.8h0M74.4 197.7h0M94.1 186.2h0M80.3 187.5h0M80.2 203.1h0M79.2 199.3h0M84.4 214.0h0M75.0 159.8h0M98.9 201.2h0M90.9 172.2h0M103.6 147.4h0M70.6 213.3h0M57.9 209.7h0M110.8 189.8h0M112.1 208.4h0M84.1 215.5h0M91.0 188.5h0M62.2 204.9h0M83.2 151.8h0M82.6 193.6h0M109.6 157.0h0M109.1 189.5h0M72.5 219.0h0M74.1 216.9h0M82.3 214.8h0M91.3 216.6h0M59.7 208.2h0M67.7 200.2h0M98.4 178.9h0M107.0 171.5h0M94.1 214.0h0M107.8 218.0h0M93.9 215.6h0M58.9 216.7h0M62.7 173.5h0M58.7 177.7h0M81.3 211.7h0M91.1 208.4h0M74.1 217.9h0M102.3 210.3h0M80.4 215.9h0M74.2 212.3h0M101.5 216.8h0M78.8 210.3h0M51.6 202.9h0M66.8 205.3h0M63.9 146.9h0M82.7 219.7h0M71.4 211.4h0M80.7 212.5h0M109.9 185.2h0M91.6 211.6h0M93.3 213.6h0M80.6 218.2h0M96.9 217.3h0M107.3 190.0h0M76.1 200.3h0M69.3 213.1h0M82.0 214.6h0M96.4 216.1h0M110.5 212.2h0M75.3 150.6h0M55.0 206.7h0M91.5 200.4h0M107.0 202.1h0M105.3 219.8h0M102.9 200.1h0M122.0 219.3h0M103.7 196.8h0M99.0 218.3h0M98.6 219.1h0M124.0 181.1h0M77.5 219.2h0M64.4 210.7h0M44.2 218.0h0M83.7 215.7h0M71.8 217.0h0M92.9 172.6h0M77.6 175.1h0M84.4 202.2h0M80.9 207.0h0M106.3 216.5h0M68.6 192.7h0M96.6 215.1h0M76.8 207.1h0M106.3 207.0h0M102.0 196.2h0M90.9 210.9h0M103.2 210.9h0M104.3 202.4h0M81.8 216.5h0M101.5 209.5h0M79.3 215.9h0M71.9 212.9h0M72.6 217.8h0M82.2 202.6h0M93.0 162.1h0M48.5 202.3h0M90.0 214.7h0M113.5 169.9h0M98.3 201.7h0M102.9 212.9h0M84.2 213.3h0M88.7 209.9h0M83.4 182.9h0M79.2 200.6h0M60.6 211.0h0M61.3 179.4h0M112.5 212.0h0M104.4 214.4h0M68.9 219.8h0M43.5 179.3h0M93.4 194.2h0M101.1 218.7h0M113.0 194.4h0M104.2 206.6h0M56.8 176.8h0M98.2 210.2h0M63.4 216.0h0M75.7 213.3h0M88.6 218.1h0M104.2 216.1h0M83.2 212.2h0M102.8 204.2h0M80.3 149.8h0M93.1 207.5h0M98.8 188.8h0M103.3 214.6h0M52.9 217.9h0M77.1 218.5h0M93.8 216.3h0M78.6 218.3h0M94.7 218.4h0M57.5 186.2h0M79.6 189.1h0M88.8 201.4h0M92.0 212.8h0M65.8 201.9h0M51.2 156.2h0M78.5 216.7h0M92.5 214.7h0M74.2 173.2h0M61.5 215.9h0M90.9 215.2h0M122.7 153.5h0M80.6 193.4h0M64.1 192.7h0M79.1 212.0h0M90.7 178.0h0M94.9 171.2h0M78.4 200.3h0M70.2 208.3h0M98.9 195.8h0M79.1 218.6h0M95.5 210.8h0M65.7 191.6h0M47.6 164.6h0M90.7 204.5h0M124.2 165.6h0M84.0 210.7h0M88.7 167.6h0M89.5 209.6h0M66.5 219.6h0M104.6 212.7h0M129.0 170.7h0M118.0 219.0h0M81.1 211.8h0M96.1 219.0h0M99.4 213.2h0M73.7 215.2h0M95.4 218.8h0M73.4 214.1h0M100.3 155.2h0M80.5 198.9h0M120.4 212.5h0M73.4 186.4h0M116.4 212.8h0M81.7 189.1h0M91.6 218.8h0M78.6 194.1h0M76.4 211.0h0M43.8 199.1h0M126.0 159.4h0M80.8 205.1h0M109.7 219.2h0M102.3 218.2h0M95.1 217.4h0M104.7 209.8h0M69.6 205.4h0M82.5 170.5h0M78.4 187.0h0M118.2 201.3h0M55.1 148.5h0M112.7 199.3h0M81.3 210.0h0M105.5 215.1h0M119.8 203.3h0M83.0 217.9h0M76.5 187.2h0M77.2 177.6h0M95.8 215.0h0M78.4 202.3h0M74.6 174.0h0M73.2 217.7h0M91.7 191.5h0M73.3 217.1h0M55.1 192.2h0M95.4 213.3h0M126.9 146.9h0M98.9 198.9h0M97.6 191.8h0M82.1 218.0h0M50.3 200.4h0M80.3 213.7h0M100.3 211.9h0M90.2 207.4h0M112.7 188.2h0M67.0 215.1h0M63.4 219.4h0M95.8 219.2h0M119.9 212.0h0M102.0 205.4h0M95.9 219.1h0M72.6 199.8h0M98.4 211.3h0M99.9 217.2h0M74.7 216.2h0M78.8 219.4h0M64.8 181.5h0M128.1 190.5h0M95.2 218.5h0M84.4 217.3h0M101.8 213.5h0M59.3 156.2h0M73.3 218.0h0M91.8 148.3h0M95.8 206.7h0M58.8 203.7h0M71.5 213.6h0M99.3 181.9h0M72.8 210.9h0M97.2 215.7h0M95.8 219.7h0M79.8 156.6h0M44.7 190.7h0M122.2 150.6h0M92.7 197.4h0M126.9 197.1h0M64.9 209.4h0M68.3 210.5h0M79.0 212.5h0M100.7 212.7h0M78.1 214.4h0M120.8 206.4h0M76.9 219.3h0M42.8 147.5h0M96.6 194.8h0M76.0 207.9h0M100.5 219.2h0M63.9 190.9h0M99.1 208.5h0M78.3 214.3h0M88.6 216.3h0M51.5 151.1h0M90.9 193.5h0M96.7 155.7h0M57.4 197.5h0M115.5 194.1h0M104.2 218.7h0M116.8 202.8h0M56.3 184.7h0M119.3 199.1h0M63.2 193.2h0M62.2 204.1h0M59.3 149.0h0M118.2 187.8h0M70.9 218.9h0M91.4 215.1h0M101.5 212.8h0M56.3 206.4h0M59.9 194.3h0M101.5 161.4h0M91.4 218.5h0M104.4 194.3h0M89.3 203.2h0M46.5 188.4h0M79.8 209.0h0M77.7 205.4h0M58.0 209.2h0M72.7 217.7h0M75.3 205.1h0M81.7 188.6h0M96.6 213.4h0M103.0 212.7h0M93.2 212.6h0M79.8 212.9h0M72.9 217.8h0M80.4 164.2h0M96.8 164.3h0M101.0 195.5h0M89.7 219.1h0M76.4 219.5h0M106.0 196.4h0M82.6 215.1h0M92.0 219.2h0M103.3 202.2h0M108.0 187.5h0M105.2 203.0h0M102.0 171.1h0M90.3 219.7h0M73.9 208.6h0M82.7 146.7h0M94.3 190.2h0M71.8 218.3h0M83.9 217.4h0M106.3 217.2h0M74.8 215.8h0M127.4 171.5h0M65.9 217.5h0M70.4 216.5h0M60.3 202.9h0M93.6 169.7h0M76.1 199.0h0M47.9 209.6h0M83.9 217.8h0M76.8 212.9h0M88.9 213.5h0M88.8 215.8h0M48.6 204.9h0M103.3 205.6h0M78.8 188.7h0M50.6 200.2h0M52.6 181.6h0M71.6 204.5h0M98.0 204.8h0M57.2 179.8h0M78.5 204.7h0M74.9 219.3h0M95.8 175.0h0M94.2 216.8h0M110.1 210.9h0M72.5 205.0h0M110.7 208.4h0M89.6 213.3h0M91.0 181.0h0M73.6 215.9h0M80.4 218.4h0M80.1 202.9h0M70.9 216.8h0M97.7 212.4h0M114.0 171.4h0M81.3 206.4h0M83.6 208.0h0M68.2 212.3h0M68.3 218.7h0M70.4 198.5h0M108.1 202.3h0M84.2 185.9h0M61.2 200.7h0M64.2 165.4h0M82.5 214.3h0M91.8 204.9h0M83.9 206.3h0M56.8 167.8h0M112.9 181.2h0M89.9 196.9h0M73.1 203.8h0M107.0 160.6h0M82.6 211.6h0M62.7 197.9h0M75.6 189.3h0M83.0 219.2h0M71.1 214.5h0M67.5 215.6h0M83.5 174.5h0M107.7 213.2h0M104.3 216.1h0M70.8 218.2h0M43.0 163.1h0M122.9 200.5h0M80.5 218.0h0M79.0 209.7h0M89.1 218.1h0M107.6 212.2h0M107.9 199.8h0M64.8 209.2h0M93.5 210.8h0M77.3 207.8h0M55.7 205.4h0M90.4 206.0h0M82.1 219.6h0M89.2 215.8h0M75.2 182.7h0M65.6 212.9h0M103.3 201.2h0M93.9 218.8h0M84.4 215.5h0M79.1 216.8h0M110.6 146.8h0M111.0 176.9h0M95.7 170.7h0M75.4 208.5h0M64.4 174.1h0M128.6 211.2h0M95.0 183.6h0M82.8 207.5h0M65.7 195.7h0M80.9 177.2h0M74.8 207.2h0M49.5 172.2h0M92.7 214.8h0M72.6 201.8h0M111.5 217.9h0M121.3 204.1h0M55.0 211.6h0M78.9 214.4h0M68.5 219.2h0M94.9 173.8h0M112.4 196.7h0M71.4 213.7h0M70.4 194.1h0M70.5 186.3h0M90.1 204.3h0M91.2 200.3h0M62.7 214.1h0M66.9 215.4h0M78.4 210.8h0M73.1 209.0h0M117.5 208.5h0M82.0 188.3h0M83.2 197.9h0M49.6 167.9h0M57.0 198.7h0M99.2 212.0h0M102.4 161.9h0M91.6 207.5h0M91.1 179.5h0M77.7 215.6h0M81.2 193.3h0M94.4 214.5h0M57.4 153.9h0M103.6 218.3h0M76.6 210.6h0M52.2 216.2h0M73.6 206.1h0M68.7 176.0h0M82.4 164.7h0M103.6 211.7h0M93.4 192.7h0M79.1 215.5h0M84.0 212.8h0M99.3 213.7h0M109.4 217.4h0M124.2 147.0h0M80.5 153.9h0M98.7 203.9h0M102.5 207.6h0M95.8 157.9h0M103.8 219.5h0M88.8 209.0h0M57.1 177.9h0M106.1 213.0h0M68.7 213.1h0M55.0 219.8h0M81.8 195.7h0M105.4 185.6h0M94.2 202.2h0M96.4 210.7h0M82.3 200.5h0M84.5 217.3h0M94.4 194.6h0M61.5 219.0h0M84.3 218.6h0M103.7 219.1h0M122.6 216.2h0M75.7 205.7h0M84.2 214.6h0M99.2 202.2h0M97.5 156.6h0M93.7 174.1h0M112.1 213.4h0M106.7 199.9h0M71.2 163.1h0M98.6 218.2h0M71.6 161.2h0M77.8 214.8h0M71.4 205.3h0M62.2 217.2h0M74.3 173.2h0M96.2 216.7h0M103.5 183.9h0M78.3 215.0h0M101.4 208.5h0M100.4 214.7h0M77.0 198.3h0M80.8 199.3h0M110.4 219.7h0M67.1 215.1h0M109.6 198.2h0M77.5 204.0h0M78.3 191.5h0M66.5 217.5h0M92.7 180.1h0M77.8 217.1h0M75.5 214.7h0M82.8 219.0h0M45.5 156.7h0M94.0 213.1h0M120.5 187.3h0M76.4 195.6h0M115.3 189.3h0M117.5 155.7h0M92.5 206.7h0M53.2 219.5h0M70.6 183.0h0M76.7 167.1h0M93.9 215.6h0M83.2 219.8h0M91.7 217.4h0M83.5 205.0h0M83.9 190.4h0M81.7 197.4h0M75.5 157.6h0M102.9 219.7h0M65.0 171.2h0M73.8 186.0h0M75.0 219.0h0M76.9 177.9h0M72.6 217.5h0M74.3 211.2h0M101.0 207.9h0M80.6 189.8h0M91.0 197.8h0M109.4 201.1h0M105.2 205.2h0M112.3 203.0h0M102.9 214.7h0M91.3 213.8h0M84.3 219.6h0M65.6 183.5h0M75.6 209.9h0M92.4 211.7h0M63.3 217.1h0M113.3 219.6h0M112.4 160.8h0M78.4 201.6h0M79.7 213.4h0M88.9 190.5h0M72.3 217.4h0M92.4 212.6h0M82.5 212.7h0M83.2 209.3h0M108.5 147.7h0M65.4 218.4h0M68.0 202.6h0M93.7 216.2h0M70.2 207.7h0M80.5 216.1h0M99.7 215.6h0M109.5 206.1h0M94.0 199.5h0M110.0 217.5h0M69.9 219.7h0M77.0 200.9h0M129.5 147.7h0M44.0 201.0h0M102.2 218.4h0M63.0 199.5h0M66.2 151.0h0M76.6 211.1h0M102.1 214.0h0M91.7 161.3h0M80.9 203.2h0M61.1 215.3h0M107.2 207.6h0M113.6 187.4h0M105.5 203.2h0M83.1 218.0h0M79.2 191.6h0M97.8 214.2h0M77.2 218.4h0M93.4 207.1h0M91.7 209.7h0M99.7 212.9h0M97.4 201.5h0M106.1 151.0h0M100.7 212.6h0M112.7 150.4h0M92.2 205.9h0M58.7 154.1h0M108.1 187.6h0M82.4 219.5h0M126.4 152.5h0M125.6 194.8h0M78.6 205.5h0M101.1 188.3h0M78.8 213.1h0M79.4 178.3h0M75.6 156.5h0M61.7 156.3h0M67.5 191.4h0M113.6 216.5h0M77.6 219.0h0M46.4 180.9h0M73.5 176.0h0M76.4 189.9h0M70.4 185.1h0M91.1 212.3h0M92.6 218.7h0M70.6 208.3h0M91.9 184.0h0M101.0 209.9h0M45.6 212.2h0M80.6 219.4h0M78.6 200.7h0M82.6 197.8h0M94.6 205.2h0M97.9 215.9h0M96.6 209.2h0M119.0 158.9h0M98.0 212.2h0M67.4 201.5h0M79.7 201.2h0M72.8 196.5h0M72.5 196.2h0M122.4 214.5h0M104.0 207.9h0M77.8 211.2h0M93.0 219.6h0M57.7 201.8h0M84.1 214.3h0M69.5 218.1h0M57.1 169.8h0M81.8 216.9h0M75.1 212.1h0M71.6 218.7h0M115.2 216.0h0M90.5 204.8h0M74.0 215.3h0M67.7 213.7h0M75.4 218.0h0M93.8 203.2h0M67.9 218.5h0M91.0 218.3h0M71.3 192.8h0M97.2 212.5h0M108.9 210.9h0M56.1 200.0h0M82.5 175.1h0M72.7 199.4h0M77.2 202.1h0M100.4 148.7h0M97.9 208.2h0M102.3 212.6h0M90.9 204.6h0M79.1 210.7h0M109.0 217.3h0M52.0 217.1h0M98.4 209.4h0M97.9 191.3h0M73.6 197.0h0M103.3 217.4h0M88.7 214.3h0M79.6 219.8h0M82.9 218.0h0M63.8 208.6h0M96.3 204.8h0M76.1 166.0h0M54.1 183.8h0M59.3 149.6h0M75.4 214.7h0M95.6 219.8h0M77.9 216.9h0M99.1 215.1h0M88.7 219.3h0M129.4 219.8h0M103.7 214.9h0M56.6 170.9h0M75.8 218.1h0M129.0 165.3h0M82.5 211.5h0M91.8 203.1h0M69.2 213.9h0M89.8 219.0h0M68.6 217.2h0M81.1 208.3h0M115.9 193.3h0M105.8 213.7h0M76.5 216.0h0M80.1 180.6h0M106.2 200.3h0M82.0 202.2h0M76.8 206.8h0M75.3 203.9h0M111.3 189.6h0M104.5 193.9h0M73.9 176.9h0M100.6 172.8h0M80.1 188.8h0M64.6 219.1h0M90.7 214.1h0M96.0 219.3h0M106.8 171.0h0M108.5 157.9h0M91.0 212.7h0M76.0 209.4h0M77.9 199.7h0M70.9 194.1h0M62.8 154.8h0M119.6 213.5h0M119.9 200.3h0M110.2 191.0h0M82.1 211.4h0M75.7 212.8h0M66.2 207.2h0M82.2 219.7h0M90.9 179.1h0M69.7 207.9h0M105.9 216.5h0M69.4 179.4h0M77.4 206.1h0M65.0 196.2h0M77.2 211.5h0M83.7 210.7h0M101.4 210.5h0M123.7 192.5h0M101.2 210.3h0M95.1 192.7h0M97.2 203.7h0M69.1 197.5h0M97.6 205.3h0M110.4 219.0h0M101.6 206.1h0M110.9 196.7h0M90.8 172.7h0M77.0 214.1h0M101.1 219.3h0M118.5 214.3h0M97.1 212.1h0M126.5 193.1h0M99.1 218.1h0M92.4 219.0h0M83.4 204.3h0M116.3 198.7h0M95.6 213.9h0M94.2 215.1h0M95.6 198.3h0M61.1 156.5h0M43.2 173.5h0M60.5 202.6h0M74.9 201.7h0M115.3 180.9h0M71.5 218.4h0M59.5 217.6h0M69.5 155.2h0M90.5 205.2h0M90.6 219.7h0M62.2 214.4h0M89.3 186.5h0M101.3 216.1h0M80.1 218.2h0M78.7 191.8h0M109.8 196.8h0M108.1 170.3h0M93.3 217.1h0M94.6 175.7h0M70.3 215.2h0M89.2 217.3h0M62.2 196.9h0M64.3 200.4h0M98.3 209.8h0M66.3 206.6h0M84.3 194.9h0M45.2 210.3h0M55.7 152.8h0M96.4 212.6h0M73.9 212.8h0M80.5 194.4h0M96.1 210.0h0M76.4 217.1h0M104.3 219.6h0M118.7 166.7h0M79.4 213.4h0M81.0 149.4h0M94.0 218.7h0M73.6 213.7h0M97.1 206.7h0M80.5 200.9h0M88.9 200.3h0M74.5 209.6h0M125.3 171.5h0M109.3 181.0h0M93.1 203.5h0M94.9 197.5h0M126.6 147.3h0M89.5 213.4h0M91.3 216.2h0M90.0 180.3h0M98.4 207.8h0M80.1 218.9h0M96.0 204.4h0M60.9 219.3h0M96.9 214.7h0M89.0 165.9h0M67.2 217.0h0M67.1 151.2h0M97.4 174.4h0M96.0 215.7h0M53.0 183.3h0M76.1 216.5h0M77.7 212.6h0M102.4 186.0h0M75.6 208.8h0M95.6 212.4h0M84.3 210.7h0M118.1 183.5h0M83.9 210.9h0M70.6 212.6h0M99.2 174.0h0M92.2 213.5h0M67.3 146.9h0M102.7 208.6h0M79.2 178.4h0M63.6 187.8h0M90.4 192.4h0M81.2 209.8h0M96.0 199.3h0M76.0 218.8h0M77.5 208.6h0M91.0 219.0h0M74.8 219.1h0M110.2 199.0h0M83.5 214.1h0M101.1 215.7h0M70.4 181.9h0M84.3 148.1h0M50.7 165.7h0M43.0 165.1h0M104.1 208.6h0M105.9 212.1h0M83.9 204.9h0M80.4 218.8h0M100.0 207.5h0M52.3 215.9h0M110.9 208.6h0M80.4 210.0h0M80.8 187.0h0M111.5 181.1h0M74.8 219.6h0M69.4 217.9h0M94.6 218.4h0M111.7 184.3h0M76.3 151.8h0M70.5 218.7h0M94.0 210.0h0M107.3 212.5h0M100.3 219.2h0M108.6 219.8h0M95.7 169.2h0M90.8 216.9h0M59.4 190.0h0M84.3 214.9h0M94.6 203.3h0M89.1 206.6h0M96.9 214.3h0M54.8 171.0h0M100.2 192.2h0M82.5 164.2h0M92.9 192.9h0M92.0 219.7h0M79.6 210.1h0M67.0 200.3h0M92.0 207.9h0M95.0 202.8h0M89.7 219.2h0M75.9 219.2h0M62.2 200.8h0M71.1 215.8h0M90.9 215.7h0M64.1 217.4h0M73.5 213.9h0M91.2 196.4h0M81.1 218.6h0M61.5 217.6h0M84.5 215.8h0M68.0 185.9h0M92.8 219.8h0M74.5 197.3h0M93.2 219.0h0M91.7 180.2h0M92.3 218.6h0M95.3 198.1h0M80.7 213.8h0M73.2 203.3h0M71.9 216.6h0M88.8 194.4h0M72.1 212.2h0M80.6 172.1h0M108.8 219.6h0M129.5 218.8h0M96.6 218.9h0M73.2 211.5h0M92.2 216.7h0M95.7 156.1h0M82.8 211.1h0M103.0 217.6h0M84.0 152.0h0M94.4 214.4h0M83.1 218.0h0M64.6 210.4h0M90.5 205.9h0M82.6 215.0h0M101.6 206.1h0M96.4 194.6h0M91.2 217.1h0M99.0 206.0h0M93.8 208.9h0M90.0 172.5h0M94.8 164.8h0M63.5 206.2h0M95.7 213.4h0M82.2 178.9h0M98.7 207.9h0M118.0 215.4h0M75.7 204.1h0M80.2 208.9h0M94.1 208.0h0M79.9 201.8h0M78.6 214.2h0M75.6 212.0h0M82.5 157.3h0M68.5 208.8h0M60.3 219.8h0M107.4 200.4h0M68.8 214.1h0M88.8 191.3h0M94.2 219.4h0M74.1 213.0h0M121.7 198.2h0M84.0 200.9h0M81.2 216.7h0M103.2 149.8h0M80.8 208.8h0M73.2 193.6h0M93.9 212.9h0M106.7 214.6h0M78.9 197.7h0M43.9 206.8h0M66.6 213.8h0M104.1 179.6h0M105.9 198.1h0M96.4 206.9h0M95.9 212.5h0M80.4 218.7h0M61.4 219.2h0M78.3 186.3h0M69.4 188.6h0M73.8 188.9h0M98.7 210.3h0M50.1 200.6h0M96.1 218.5h0M81.8 209.1h0M82.7 216.9h0M89.3 193.3h0M99.6 177.3h0M66.6 194.8h0M78.3 216.3h0M69.1 156.1h0M82.4 212.0h0M97.4 204.1h0M84.5 214.2h0M83.7 178.9h0M71.7 215.2h0M65.6 212.5h0M101.6 219.4h0M79.2 203.7h0M78.9 219.8h0M119.8 173.2h0M91.6 201.3h0M66.9 175.4h0M70.6 211.4h0M81.9 213.8h0M82.5 206.4h0M79.8 174.1h0M88.9 213.6h0M123.4 181.4h0M78.7 198.0h0M74.3 211.8h0M96.4 216.0h0M68.8 205.3h0M68.1 216.4h0M103.0 207.9h0M93.1 210.7h0M96.0 199.9h0M80.0 195.2h0M89.7 201.0h0M93.8 183.9h0M91.6 203.9h0M76.7 177.9h0M80.3 206.2h0M71.2 195.2h0M115.8 216.5h0M88.5 210.8h0M91.8 201.2h0M117.0 162.4h0M101.6 219.4h0M109.4 218.9h0M98.1 217.2h0M120.5 215.2h0M76.6 218.4h0M81.3 218.5h0M78.5 214.9h0M109.7 206.5h0M91.9 216.8h0M81.2 209.2h0M81.9 210.3h0M76.6 174.6h0M99.1 217.4h0M81.0 209.2h0M106.1 176.2h0M100.4 161.5h0M105.4 218.9h0M90.0 215.7h0M111.5 210.5h0M107.0 212.0h0M107.1 219.8h0M45.9 206.6h0M94.1 219.8h0M89.9 203.3h0M107.2 207.3h0M84.3 212.9h0M100.1 191.2h0M55.5 210.8h0M63.3 176.3h0M80.7 195.2h0M78.3 219.4h0M43.6 202.9h0M105.3 176.5h0M91.0 166.4h0M100.0 219.3h0M75.8 204.8h0M107.0 216.6h0M83.0 218.6h0M95.6 217.7h0M62.1 201.5h0M56.3 217.9h0M80.3 206.4h0M93.5 191.8h0M100.8 218.3h0M77.8 154.4h0M80.6 212.1h0M93.5 219.5h0M78.9 190.4h0M106.3 213.8h0M89.5 216.8h0M75.0 215.4h0M71.8 211.3h0M98.7 214.0h0M71.9 199.7h0M74.3 214.9h0M82.4 187.9h0M63.2 219.6h0M91.8 208.6h0M83.3 203.7h0M83.8 200.4h0M96.2 176.2h0M76.4 148.1h0M95.0 218.6h0M75.3 207.2h0M98.0 207.9h0M78.1 218.8h0M113.2 216.5h0M91.8 215.6h0M72.3 199.2h0M107.3 212.4h0M95.2 181.5h0M79.4 215.0h0M79.0 200.6h0M71.3 181.2h0M73.0 210.1h0M89.7 216.9h0M74.9 219.1h0M101.6 216.8h0M71.9 160.7h0M97.4 180.3h0M97.3 218.4h0M79.5 192.5h0M88.8 202.8h0M125.1 206.8h0M116.2 178.5h0M96.6 213.4h0M101.3 204.8h0M53.2 198.5h0M88.7 213.4h0M89.1 215.7h0M60.1 215.6h0M74.8 216.3h0M76.8 188.3h0M103.8 179.6h0M90.5 186.6h0M75.3 210.7h0M80.1 214.2h0M106.1 190.1h0M81.3 218.5h0M97.7 218.5h0M96.3 199.1h0M76.0 213.9h0M82.2 170.5h0M77.2 217.3h0M81.4 206.2h0M84.5 199.5h0M92.2 213.4h0M80.7 176.7h0M81.6 148.7h0M77.6 216.9h0M68.0 200.3h0M65.6 217.3h0M58.2 211.1h0M78.0 214.1h0M98.1 215.1h0M72.5 204.3h0M102.3 171.4h0M70.9 218.3h0M73.9 209.8h0M91.3 214.7h0M59.9 156.1h0M97.3 181.9h0M76.3 217.3h0M95.0 206.5h0M68.5 218.1h0M112.0 219.5h0M78.5 214.0h0M101.0 196.3h0M64.0 207.2h0M79.6 199.1h0M129.2 205.9h0M100.7 205.2h0M104.9 211.3h0M56.3 212.3h0M78.2 156.3h0M95.4 177.3h0M105.8 196.1h0M103.4 213.5h0M75.9 202.2h0M116.0 198.1h0M97.9 215.1h0M79.9 208.8h0M78.3 215.1h0M77.8 184.1h0M81.2 217.8h0M54.4 219.7h0M96.6 219.4h0M77.8 212.4h0M98.8 202.6h0M98.5 216.2h0M115.6 209.0h0M100.9 184.9h0M71.4 179.7h0M91.5 206.3h0M103.7 212.3h0M116.0 208.2h0M80.7 166.9h0M107.3 217.9h0M88.6 199.3h0M89.9 210.1h0M123.6 216.0h0M75.3 200.1h0M78.6 209.1h0M82.7 216.1h0M102.8 217.7h0M61.3 185.2h0M83.5 186.8h0M75.1 217.0h0M94.4 181.4h0M64.7 174.3h0M76.5 207.5h0M82.6 216.6h0M59.9 212.8h0M66.7 201.9h0M69.0 180.9h0M68.2 195.2h0M95.2 219.0h0M101.6 218.4h0M101.0 150.9h0M73.3 215.7h0M111.7 210.6h0M91.2 190.1h0M84.4 216.0h0M78.9 216.1h0M107.9 216.4h0M78.2 214.5h0M96.0 211.6h0M76.1 155.0h0M113.6 215.7h0M98.0 190.8h0M75.1 213.1h0M88.9 213.5h0M72.3 209.3h0M96.7 215.9h0M115.4 205.7h0M105.9 209.1h0M80.2 196.8h0M67.8 207.6h0M92.6 197.1h0M67.5 201.4h0M70.1 204.3h0M81.8 214.7h0M96.1 219.2h0M78.0 158.0h0M94.4 184.7h0M94.6 201.4h0M56.9 208.5h0M105.3 207.0h0M54.6 215.8h0M92.4 182.4h0M49.1 167.6h0M70.3 215.8h0M57.5 205.5h0M79.2 173.0h0M96.4 197.5h0M81.6 204.9h0M54.8 153.3h0M74.8 215.7h0M103.1 200.0h0M80.5 193.5h0M99.1 147.9h0M130.1 174.1h0M80.6 207.2h0M83.8 214.5h0M101.3 189.7h0M91.7 198.6h0M80.9 210.0h0M53.1 183.4h0M71.3 186.2h0M52.7 204.7h0M104.9 191.1h0M83.6 178.2h0M66.7 215.2h0M63.1 195.8h0M107.0 195.4h0M58.0 219.6h0M100.1 165.1h0M126.1 219.4h0M80.3 171.4h0M43.9 176.2h0M99.7 218.7h0M78.0 197.5h0M74.5 196.5h0M98.9 150.8h0M95.8 210.5h0M79.3 178.9h0M98.0 190.2h0M94.0 153.9h0M92.9 215.5h0M100.6 155.6h0M110.7 162.2h0M99.9 217.5h0M83.1 217.3h0M78.4 208.7h0M83.8 218.8h0M75.1 181.6h0M66.3 210.0h0M106.7 191.3h0M93.4 182.1h0M94.5 217.8h0M98.6 215.1h0M102.1 216.2h0M66.7 211.0h0M83.4 199.9h0M79.4 155.5h0M81.6 216.9h0M78.1 205.9h0M115.4 159.6h0M92.4 213.2h0M81.3 199.9h0M80.0 210.3h0M82.6 215.2h0M65.6 192.1h0M66.1 218.1h0M99.7 217.2h0M83.2 198.9h0M130.2 218.9h0M108.8 217.1h0M106.3 218.2h0M79.1 216.4h0M74.4 219.5h0M78.1 219.7h0M94.3 205.7h0M78.0 191.8h0M62.9 212.2h0M98.4 215.0h0M75.5 217.5h0M79.9 206.1h0M101.5 202.7h0M103.6 217.9h0M127.6 178.4h0M75.6 206.7h0M103.5 168.8h0M75.3 213.8h0M80.6 216.6h0M76.5 204.9h0M75.8 151.1h0M73.5 194.9h0M80.0 215.2h0M89.2 170.1h0M102.7 218.9h0M53.5 215.2h0M58.6 180.5h0M94.7 212.1h0M83.5 214.1h0M77.9 218.3h0M99.2 209.0h0M69.8 178.2h0M82.2 219.8h0M80.1 186.6h0M99.9 207.2h0M61.7 206.8h0M90.5 167.1h0M96.4 170.5h0M94.8 209.3h0M110.5 211.4h0M95.8 193.5h0M74.6 193.2h0M80.5 204.1h0M82.3 203.3h0M78.2 177.7h0M89.9 217.3h0M70.2 205.5h0M63.9 165.9h0M111.7 219.5h0M68.3 217.0h0M92.3 146.6h0M63.9 215.3h0M99.8 211.2h0M70.9 213.2h0M88.7 174.6h0M84.1 176.9h0M76.3 217.5h0M64.7 169.2h0M62.9 211.6h0M75.1 216.9h0M88.7 214.2h0M109.0 146.7h0M75.5 146.7h0M115.1 146.8h0M63.9 146.6h0M120.9 146.6h0M114.3 146.4h0M52.7 146.4h0M76.7 146.8h0M122.8 146.4h0M111.3 146.8h0M58.9 146.6h0M112.2 146.3h0M51.3 146.8h0M76.3 146.8h0M125.7 146.9h0M70.8 146.8h0M47.2 146.7h0M115.4 146.4h0M108.7 146.5h0M46.5 146.7h0M101.5 146.5h0M48.0 146.6h0M112.0 146.5h0M128.1 146.7h0M66.7 146.4h0M118.7 146.6h0M72.4 146.7h0M59.3 146.3h0M92.5 146.7h0M65.2 146.7h0M49.8 146.6h0M115.4 146.9h0M116.7 146.8h0M120.4 146.5h0M126.4 146.5h0M94.6 146.5h0M107.0 146.6h0M114.5 146.5h0M79.6 146.6h0M100.1 146.6h0M59.3 146.4h0M97.4 146.8h0M76.2 146.5h0M78.6 146.9h0M115.8 146.7h0M92.4 146.9h0M103.2 146.8h0M53.9 146.8h0M55.5 146.9h0M89.3 146.9h0M66.3 146.4h0M121.1 146.4h0M107.2 146.3h0M114.2 146.7h0M110.5 146.7h0M58.3 146.6h0M59.7 146.4h0M48.5 146.7h0M44.9 146.8h0M53.0 146.7h0M111.8 146.3h0M94.7 146.6h0M46.2 146.5h0M119.6 146.4h0M52.5 146.8h0M47.4 146.6h0M72.6 146.6h0M114.1 146.5h0M49.0 146.4h0M125.9 146.8h0M67.9 146.3h0M108.0 146.4h0M97.0 146.7h0M106.3 146.7h0M120.0 146.8h0M101.4 146.5h0M64.0 146.8h0M73.9 146.7h0M65.2 146.8h0M54.5 146.7h0M45.9 146.7h0M55.7 146.7h0M54.5 146.8h0M101.1 146.6h0M94.8 146.4h0M70.6 146.7h0M114.8 146.5h0M51.9 146.5h0M46.4 146.8h0M109.2 146.6h0M97.1 146.4h0M67.3 146.9h0M125.0 146.5h0M61.8 146.4h0M54.6 146.5h0M75.2 146.7h0M106.6 146.4h0M54.0 146.7h0M45.6 146.8h0M110.5 146.5h0M59.0 146.7h0M55.3 146.5h0M61.1 146.8h0M65.7 146.5h0M111.9 146.3h0M119.0 146.6h0M120.2 146.4h0M90.9 146.4h0M68.7 146.6h0M114.0 146.7h0M127.1 146.5h0M80.0 146.3h0M128.1 146.9h0M117.8 146.4h0M66.6 146.8h0M71.9 146.5h0M61.0 146.7h0M53.8 146.9h0M110.6 146.9h0M106.5 146.6h0M94.1 146.3h0M74.1 146.6h0M126.2 146.7h0M57.9 146.4h0M108.6 146.5h0M57.3 146.7h0M82.5 146.9h0M102.3 146.5h0M71.4 146.8h0M50.0 146.4h0M63.7 146.3h0M50.4 146.3h0M125.5 146.6h0M49.1 146.8h0M67.5 146.8h0M124.9 146.3h0M73.5 146.6h0M52.6 146.5h0M45.1 146.7h0M105.9 146.8h0M124.4 146.7h0M70.0 146.8h0M119.2 146.8h0M69.9 146.8h0M112.8 146.5h0M55.5 146.4h0M61.3 146.4h0M98.2 146.7h0M60.4 146.8h0M111.2 146.5h0M80.8 146.8h0M70.0 146.8h0M70.4 146.7h0M97.2 146.3h0M102.7 146.6h0M49.4 146.6h0M105.1 146.5h0M127.6 146.5h0M114.2 146.8h0M57.7 146.4h0M95.1 146.7h0M51.4 146.9h0M115.8 146.9h0M54.8 146.3h0M122.8 146.8h0M108.7 146.9h0M120.9 146.4h0M78.9 146.4h0M113.8 146.3h0M93.6 146.4h0M74.7 146.4h0M54.4 146.6h0M52.9 146.5h0M96.8 146.5h0M63.8 146.6h0M115.3 146.8h0M47.0 146.6h0M81.0 146.6h0M74.7 146.5h0M106.9 146.5h0M115.2 146.8h0M110.3 146.8h0M103.0 146.7h0M51.2 146.8h0M118.8 146.4h0M46.0 146.8h0M123.5 146.6h0M117.1 146.8h0M73.2 146.6h0M113.7 146.9h0M49.1 146.7h0M127.4 146.9h0M62.2 146.4h0M116.0 146.9h0M50.4 146.3h0M46.6 146.6h0M115.4 146.3h0M78.9 146.6h0M98.7 146.4h0M53.1 146.4h0M94.5 146.4h0M75.5 146.7h0M67.3 146.4h0M122.7 146.6h0M110.4 146.6h0M46.8 146.8h0M72.6 146.5h0M100.1 146.8h0M124.4 146.5h0M126.6 146.7h0M53.0 146.9h0M127.9 146.7h0M103.6 146.7h0M52.8 146.8h0M60.2 146.7h0M60.0 146.7h0M47.4 146.5h0M113.9 146.7h0M89.3 146.7h0M62.7 146.5h0" stroke="#4a86cc" stroke-width="1.2" stroke-linecap="square" fill="none"/>
<line x1="37.60" y1="143.60" x2="37.60" y2="233.40" stroke="#000" stroke-width="0.8" />
<line x1="37.60" y1="233.40" x2="134.00" y2="233.40" stroke="#000" stroke-width="0.8" />
<line x1="35.20" y1="230.80" x2="37.60" y2="230.80" stroke="#000" stroke-width="0.8" />
<text x="31.10" y="230.80" font-family="Liberation Sans" font-size="9.5" text-anchor="middle" dominant-baseline="central" fill="#000" transform="rotate(-90 31.10 230.80)" >0</text>
<line x1="35.20" y1="213.96" x2="37.60" y2="213.96" stroke="#000" stroke-width="0.8" />
<text x="31.10" y="213.96" font-family="Liberation Sans" font-size="9.5" text-anchor="middle" dominant-baseline="central" fill="#000" transform="rotate(-90 31.10 213.96)" >2</text>
<line x1="35.20" y1="197.12" x2="37.60" y2="197.12" stroke="#000" stroke-width="0.8" />
<text x="31.10" y="197.12" font-family="Liberation Sans" font-size="9.5" text-anchor="middle" dominant-baseline="central" fill="#000" transform="rotate(-90 31.10 197.12)" >4</text>
<line x1="35.20" y1="180.28" x2="37.60" y2="180.28" stroke="#000" stroke-width="0.8" />
<text x="31.10" y="180.28" font-family="Liberation Sans" font-size="9.5" text-anchor="middle" dominant-baseline="central" fill="#000" transform="rotate(-90 31.10 180.28)" >6</text>
<line x1="35.20" y1="163.44" x2="37.60" y2="163.44" stroke="#000" stroke-width="0.8" />
<text x="31.10" y="163.44" font-family="Liberation Sans" font-size="9.5" text-anchor="middle" dominant-baseline="central" fill="#000" transform="rotate(-90 31.10 163.44)" >8</text>
<line x1="35.20" y1="146.60" x2="37.60" y2="146.60" stroke="#000" stroke-width="0.8" />
<text x="31.10" y="146.60" font-family="Liberation Sans" font-size="9.5" text-anchor="middle" dominant-baseline="central" fill="#000" transform="rotate(-90 31.10 146.60)" >10</text>
<line x1="42.50" y1="233.40" x2="42.50" y2="235.80" stroke="#000" stroke-width="0.8" />
<text x="42.50" y="240.20" font-family="Liberation Sans" font-size="9.5" text-anchor="middle" dominant-baseline="central" fill="#000" >&#8722;1.0</text>
<line x1="64.50" y1="233.40" x2="64.50" y2="235.80" stroke="#000" stroke-width="0.8" />
<text x="64.50" y="240.20" font-family="Liberation Sans" font-size="9.5" text-anchor="middle" dominant-baseline="central" fill="#000" >&#8722;0.5</text>
<line x1="86.50" y1="233.40" x2="86.50" y2="235.80" stroke="#000" stroke-width="0.8" />
<text x="86.50" y="240.20" font-family="Liberation Sans" font-size="9.5" text-anchor="middle" dominant-baseline="central" fill="#000" >0.0</text>
<line x1="108.50" y1="233.40" x2="108.50" y2="235.80" stroke="#000" stroke-width="0.8" />
<text x="108.50" y="240.20" font-family="Liberation Sans" font-size="9.5" text-anchor="middle" dominant-baseline="central" fill="#000" >0.5</text>
<line x1="130.50" y1="233.40" x2="130.50" y2="235.80" stroke="#000" stroke-width="0.8" />
<text x="130.50" y="240.20" font-family="Liberation Sans" font-size="9.5" text-anchor="middle" dominant-baseline="central" fill="#000" >1.0</text>
<text x="84.50" y="251.00" font-family="Liberation Sans" font-size="13" text-anchor="middle" dominant-baseline="central" fill="#000" >L4 (<tspan font-family="Liberation Serif">&#916;&#936;</tspan>)</text>
<text x="19.10" y="188.70" font-family="Liberation Sans" font-size="13.5" text-anchor="middle" dominant-baseline="central" fill="#000" transform="rotate(-90 19.10 188.70)" >&#8722;Log10(FDR)</text>
<path d="M79.5 345.6h0M92.0 348.6h0M60.4 352.4h0M66.0 344.8h0M105.9 351.0h0M81.3 352.9h0M73.8 347.4h0M72.7 353.8h0M84.9 346.1h0M91.2 348.9h0M95.2 351.1h0M95.5 351.4h0M84.3 354.0h0M85.0 347.0h0M110.0 351.5h0M102.6 352.9h0M90.9 348.0h0M57.7 353.6h0M94.8 349.2h0M56.3 355.0h0M115.2 354.9h0M90.1 350.7h0M89.5 346.0h0M66.1 351.2h0M103.2 349.4h0M89.5 352.0h0M71.7 345.2h0M99.3 352.2h0M90.1 346.1h0M91.3 351.4h0M74.5 350.3h0M96.5 348.4h0M60.3 352.8h0M61.8 350.4h0M106.3 355.7h0M90.2 344.9h0M108.2 348.5h0M83.5 348.5h0M109.7 352.6h0M92.4 355.5h0M83.1 351.3h0M88.6 352.1h0M91.9 347.2h0M96.3 352.1h0M109.3 347.9h0M69.4 352.0h0M79.4 351.8h0M97.4 348.3h0M75.6 351.7h0M78.3 350.6h0M64.6 354.1h0M99.5 353.0h0M78.2 351.9h0M77.2 346.5h0M75.8 346.7h0M100.9 349.7h0M96.0 350.3h0M92.5 355.3h0M106.4 353.8h0M58.2 351.6h0M82.1 355.4h0M99.1 349.7h0M106.5 349.4h0M67.1 345.0h0M63.6 354.2h0M60.6 354.8h0M66.7 353.6h0M87.9 349.5h0M83.1 345.3h0M79.9 346.1h0M97.3 346.6h0M80.2 349.5h0M78.2 353.6h0M111.5 354.4h0M100.4 355.1h0M87.9 349.7h0M65.4 350.2h0M70.0 355.2h0M65.9 354.9h0M82.2 349.9h0M92.7 353.8h0M73.3 349.0h0M105.0 352.5h0M94.7 355.8h0M91.1 346.8h0M70.1 348.3h0M92.1 348.5h0M74.7 351.3h0M98.8 347.2h0M107.9 350.3h0M75.1 353.1h0M89.6 350.7h0M93.1 354.1h0M72.8 345.8h0M93.3 354.2h0M63.7 350.1h0M96.7 348.1h0M94.1 349.0h0M83.4 350.2h0M85.4 354.6h0M81.7 348.2h0M89.1 346.3h0M83.2 355.5h0M73.0 345.2h0M112.9 354.3h0M66.7 345.4h0M70.7 349.4h0M80.9 353.5h0M76.3 350.4h0M88.1 345.4h0M107.9 345.1h0M87.8 350.9h0M69.4 349.1h0M97.5 353.8h0M94.5 354.5h0M92.8 345.6h0M112.9 354.4h0M70.9 349.0h0M114.4 350.7h0M99.3 348.9h0M97.5 352.5h0M95.9 353.3h0M88.9 346.1h0M104.8 344.8h0M90.7 349.1h0M76.4 350.1h0M76.7 347.5h0M74.3 350.3h0M69.4 347.0h0M72.5 345.1h0M88.2 352.6h0M76.4 348.6h0M76.9 346.1h0M94.4 353.5h0M85.3 354.6h0M94.0 355.3h0M107.3 355.8h0M98.5 351.8h0M97.9 349.0h0M88.6 351.1h0M96.5 348.2h0M78.0 350.6h0M116.8 352.2h0M108.0 352.2h0M115.7 353.2h0M63.7 351.4h0M81.6 349.2h0M64.1 350.1h0M72.6 348.3h0M57.8 355.0h0M100.9 350.8h0M104.8 348.3h0M113.6 353.9h0M83.2 347.2h0M95.1 351.2h0M77.0 355.3h0M88.1 351.5h0M113.2 350.3h0M68.7 354.3h0M110.8 350.8h0M82.3 350.8h0M96.6 346.6h0M79.1 351.0h0M81.5 349.4h0M77.0 352.7h0M91.9 355.4h0M116.0 353.0h0M110.7 348.6h0M105.3 355.4h0M72.6 347.5h0M66.5 352.9h0M70.4 349.7h0M95.9 353.1h0M112.4 355.3h0M68.7 348.6h0M66.2 355.5h0M68.6 355.6h0M88.3 351.9h0M90.4 346.2h0M78.6 347.6h0M97.8 355.0h0M86.0 350.6h0M79.0 355.2h0M85.4 346.3h0M73.0 354.9h0M98.3 353.2h0M93.3 347.2h0M103.4 350.6h0M106.9 351.4h0M101.8 350.5h0M96.4 355.8h0M80.1 352.6h0M98.0 353.3h0M73.1 355.5h0M108.9 354.6h0M88.2 350.0h0M77.9 351.9h0M73.4 347.8h0M85.8 350.0h0M81.9 352.8h0M96.5 348.6h0M89.1 345.6h0M81.7 344.9h0M99.3 346.9h0M106.8 355.4h0M89.1 348.5h0M89.8 350.6h0M81.5 348.9h0M68.3 355.6h0M72.3 350.1h0M68.0 353.3h0M114.1 353.5h0M91.4 352.1h0M89.1 354.6h0M93.9 349.8h0M101.8 349.5h0M98.9 347.4h0M109.5 351.1h0M102.7 347.8h0M93.8 352.5h0M61.2 348.2h0M88.8 355.2h0M85.3 350.3h0M83.0 351.9h0M64.2 350.9h0M108.6 344.8h0M72.6 345.2h0M79.5 351.7h0M92.4 348.3h0M82.2 347.9h0M78.5 344.9h0M82.8 352.9h0M82.5 350.8h0M106.5 346.9h0M65.7 355.3h0M81.9 348.9h0M76.2 354.7h0M110.2 354.0h0M104.2 347.2h0M105.7 347.0h0M100.3 346.4h0M91.7 349.5h0M97.0 352.1h0M80.8 347.2h0M95.9 350.8h0M78.0 351.6h0M79.7 351.7h0M98.2 351.9h0M81.9 347.5h0M104.5 350.8h0M78.4 345.7h0M113.3 350.9h0M83.6 352.2h0M83.4 347.6h0M93.8 349.9h0M83.4 347.3h0M91.0 350.0h0M72.3 347.3h0M108.0 354.0h0M92.4 354.8h0M71.5 350.1h0M93.8 346.0h0M102.5 345.3h0M93.3 349.6h0M67.5 352.3h0M110.2 353.8h0M88.2 349.7h0M73.7 349.5h0M72.6 345.2h0M78.8 350.3h0M112.2 353.9h0M85.3 345.7h0M74.1 348.8h0M75.1 348.1h0M91.3 350.8h0M89.6 355.3h0M83.0 345.6h0M62.5 351.1h0M94.8 349.4h0M92.2 350.1h0M85.6 345.8h0M109.3 347.1h0M92.2 351.3h0M84.5 354.0h0M80.5 350.9h0M99.0 352.6h0M91.8 345.1h0M78.9 355.3h0M91.5 346.2h0M106.4 355.4h0M77.5 350.0h0M93.2 352.5h0M112.1 352.3h0M110.8 353.5h0M93.8 346.5h0M101.0 355.2h0M75.0 351.9h0M91.5 350.8h0M89.1 344.9h0M85.0 347.4h0M84.9 348.5h0M57.6 345.5h0M68.1 350.3h0M92.1 352.9h0M84.8 353.9h0M79.9 351.0h0M70.5 354.0h0M77.2 352.0h0M67.1 346.0h0M77.6 353.1h0M84.8 350.6h0M74.0 354.1h0M85.2 352.2h0M107.6 354.8h0M59.6 355.8h0M75.0 351.5h0M89.1 354.4h0M111.8 350.4h0M91.9 349.2h0M100.1 353.9h0M90.7 346.4h0M85.6 347.3h0M73.6 352.1h0M74.4 354.1h0M60.0 351.4h0M78.3 354.2h0M91.6 344.8h0M112.8 355.1h0M91.7 351.8h0M78.2 351.3h0M103.6 348.9h0M106.1 352.3h0M109.3 355.0h0M84.6 348.4h0M101.2 350.6h0M104.0 349.6h0M81.1 344.9h0M92.5 350.8h0M87.9 355.0h0M115.7 354.4h0M99.5 346.1h0M98.3 355.7h0M102.7 351.3h0M85.6 349.0h0M86.1 355.0h0M86.0 354.0h0M82.1 353.3h0M70.7 349.5h0M111.5 347.8h0M80.9 350.6h0M84.1 353.0h0M76.6 353.4h0M78.3 348.9h0M62.0 353.2h0M74.9 350.2h0M72.4 350.6h0M99.2 350.6h0M70.4 346.0h0M67.0 350.5h0M89.6 350.1h0M88.5 348.5h0M79.9 350.8h0M74.2 345.9h0M63.7 355.4h0M80.5 352.9h0M90.5 346.5h0M96.8 348.2h0M82.4 345.7h0M74.1 349.0h0M97.9 347.1h0M76.5 350.5h0M100.9 350.0h0M69.7 353.5h0M79.1 345.6h0M90.6 346.3h0M89.3 349.9h0M91.5 345.9h0M84.9 353.0h0M101.9 352.7h0M100.3 347.5h0M83.1 349.2h0M70.3 350.1h0M81.3 348.7h0M64.4 351.1h0M104.8 350.5h0M74.0 354.8h0M107.3 352.5h0M88.9 347.9h0M72.6 350.1h0M99.0 344.8h0M88.1 350.8h0M78.7 349.0h0M81.2 352.1h0M79.3 346.1h0M90.8 351.6h0M83.0 348.6h0M107.1 352.3h0M99.0 344.8h0M101.6 349.3h0M94.9 350.8h0M98.0 347.8h0M92.3 347.7h0M100.0 347.5h0M81.8 349.5h0M92.8 349.1h0M71.7 347.6h0M90.4 348.2h0M77.5 354.5h0M59.5 352.9h0M72.2 350.1h0M89.1 353.1h0M74.6 350.2h0M96.3 348.0h0M99.1 349.2h0M80.5 352.6h0M97.4 347.5h0M67.2 347.3h0M72.6 344.9h0M100.8 347.2h0M84.0 355.2h0M89.9 351.3h0M105.4 347.3h0M103.4 352.2h0M89.9 349.0h0M89.8 350.7h0M83.0 353.1h0M85.0 346.3h0M88.6 349.2h0M108.7 353.2h0M78.6 354.8h0M88.3 349.4h0M77.6 352.6h0M64.2 355.6h0M64.2 351.6h0M108.5 350.5h0M78.9 347.8h0M65.7 350.8h0M76.5 355.4h0M94.8 355.2h0M73.9 351.1h0M109.6 352.0h0M76.7 346.8h0M89.6 351.1h0M96.2 351.9h0M66.8 352.2h0M80.4 350.9h0M90.4 349.8h0M103.9 348.2h0M70.5 352.0h0M84.0 353.5h0M94.5 345.5h0M86.1 350.6h0M79.6 353.0h0M104.6 354.2h0M112.1 349.0h0M74.9 355.7h0M91.4 349.8h0M91.3 345.7h0M79.1 346.6h0M98.1 352.1h0M91.8 349.2h0M99.9 345.1h0M69.1 352.8h0M71.3 347.3h0M81.9 348.1h0M81.6 350.0h0M102.9 350.8h0M101.5 350.3h0M80.6 351.9h0M88.6 350.2h0M99.2 353.2h0M71.7 345.2h0M107.7 347.2h0M105.5 344.8h0M73.2 348.7h0M76.3 348.3h0M96.3 352.6h0M100.2 350.7h0M80.7 351.4h0M103.4 352.4h0M68.0 354.0h0M85.7 350.9h0M82.4 348.8h0M102.1 349.9h0M89.7 348.7h0M104.7 347.6h0M72.9 353.3h0M78.0 347.0h0M85.1 354.2h0M74.4 346.2h0M91.8 350.6h0M73.6 348.6h0M106.8 351.9h0M91.3 349.4h0M88.0 351.9h0M89.4 353.3h0M78.7 345.9h0M67.6 351.7h0M62.1 354.2h0M81.0 347.5h0M77.3 349.8h0M92.2 353.9h0M97.8 346.6h0M82.6 352.2h0M100.9 345.1h0M69.7 354.3h0M97.5 352.7h0M88.9 345.3h0M73.9 350.4h0M77.8 354.4h0M108.2 347.6h0M86.1 349.1h0M78.4 353.6h0M92.7 351.8h0M78.5 347.0h0M74.9 352.2h0M95.1 350.5h0M96.8 355.9h0M86.0 351.3h0M92.8 353.3h0M116.2 353.8h0M91.7 351.8h0M89.8 354.8h0M88.2 353.4h0M81.2 347.4h0M95.5 352.0h0M115.3 347.3h0M78.9 344.9h0M66.5 350.4h0M103.3 346.8h0M101.2 349.4h0M58.8 354.7h0M84.0 354.7h0M94.4 355.4h0M70.8 354.2h0M81.2 351.8h0M88.5 347.1h0M65.4 346.2h0M82.0 354.1h0M107.1 350.5h0M91.6 347.5h0M94.8 346.2h0M109.9 353.1h0M99.5 352.8h0M91.3 347.3h0M72.9 352.2h0M80.2 352.1h0M101.2 351.0h0M102.2 348.6h0M74.7 345.3h0M96.1 349.6h0M100.6 349.7h0M99.4 347.0h0M66.6 346.6h0M99.6 351.1h0M82.7 354.1h0M98.8 355.9h0M66.8 352.8h0M78.0 352.2h0M77.5 355.9h0M108.2 352.1h0M68.0 346.9h0M75.0 348.6h0M103.6 350.2h0M68.7 351.4h0M78.7 351.6h0M78.8 351.8h0M70.8 346.2h0M68.5 349.5h0M83.5 347.3h0M80.5 349.2h0M74.3 351.6h0M95.1 350.7h0M91.7 355.0h0M106.5 347.8h0M57.1 351.8h0M88.9 345.1h0M84.7 350.9h0M61.8 349.5h0M106.2 355.2h0M96.6 345.7h0M91.1 346.0h0M65.4 351.5h0M76.1 347.3h0M97.3 348.7h0M75.9 351.4h0M85.8 352.5h0M77.4 349.2h0M112.7 350.6h0M90.9 345.9h0M86.0 352.6h0M102.9 347.2h0M99.9 354.4h0M95.7 346.5h0M89.4 347.8h0M116.2 349.8h0M74.9 352.3h0M101.8 345.9h0M89.1 347.9h0M97.4 348.3h0M80.1 352.9h0M96.2 350.5h0M78.9 349.2h0M85.3 348.2h0M90.0 346.8h0M90.7 352.0h0M100.5 352.6h0M73.2 346.7h0M90.4 352.6h0M64.0 354.0h0M111.6 355.8h0M101.5 346.0h0M94.5 351.1h0M90.7 346.6h0M100.7 346.2h0M102.6 345.0h0M79.4 347.5h0M102.3 349.4h0M74.4 347.2h0M78.7 349.1h0M90.8 354.8h0M82.6 353.9h0M82.1 351.5h0M80.3 353.6h0M94.6 351.9h0M88.7 346.9h0M89.1 354.6h0M79.1 349.3h0M101.1 353.5h0M60.4 355.3h0M96.3 352.8h0M87.7 352.4h0M78.0 352.1h0M94.9 345.9h0M74.9 350.5h0M68.6 346.0h0M76.2 346.0h0M69.9 349.3h0M99.2 350.6h0M92.5 352.9h0M106.9 347.4h0M82.5 353.0h0M101.4 346.1h0M97.4 355.5h0M95.9 350.8h0M79.0 354.6h0M95.0 352.8h0M110.4 352.7h0M81.8 346.8h0M92.2 345.3h0M90.6 355.3h0M85.9 352.3h0M91.2 348.5h0M90.9 352.7h0M71.8 346.3h0M94.6 351.9h0M111.2 351.5h0M81.3 349.0h0M91.7 348.1h0M56.9 349.0h0M112.1 353.4h0M109.0 347.4h0M81.1 353.8h0M85.1 350.4h0M105.4 348.9h0M88.5 352.1h0M105.6 349.6h0M112.2 352.9h0M73.0 354.8h0M96.6 350.3h0M78.7 344.7h0M100.0 346.1h0M66.1 346.1h0M89.9 350.6h0M76.1 347.4h0M93.1 354.0h0M74.9 347.6h0M68.2 348.7h0M90.1 346.1h0M89.5 355.8h0M96.1 350.5h0M75.9 353.6h0M108.5 354.3h0M115.2 347.9h0M105.5 348.6h0M90.8 346.3h0M91.3 350.0h0M79.5 344.9h0M63.5 346.4h0M62.2 354.5h0M101.3 355.8h0M75.2 345.8h0M80.5 350.6h0M76.4 354.9h0M86.1 347.9h0M90.6 350.5h0M67.3 351.7h0M100.8 351.2h0M106.9 353.6h0M97.1 354.5h0M76.5 350.5h0M94.9 354.6h0M74.3 350.2h0M100.5 349.9h0M100.5 354.9h0M72.4 349.2h0M116.4 353.1h0M76.1 346.4h0M67.7 347.8h0M79.1 351.9h0M66.1 354.8h0M84.3 346.9h0M89.0 355.2h0M102.0 349.5h0M88.1 347.0h0M116.9 355.3h0M72.9 347.8h0M102.8 349.2h0M95.8 347.7h0M94.0 354.3h0M103.4 348.1h0M90.2 355.0h0M91.8 355.8h0M75.4 353.5h0M108.1 352.0h0M102.5 347.8h0M97.8 350.7h0M83.4 344.9h0M75.6 352.6h0M76.0 350.0h0M102.5 346.2h0M91.5 347.4h0M71.5 354.3h0M103.2 353.9h0M76.5 346.2h0M88.5 350.7h0M72.8 351.1h0M73.4 352.4h0M100.1 353.8h0M112.0 354.0h0M83.4 350.8h0M106.9 349.7h0M100.0 352.8h0M90.0 349.8h0M65.0 353.1h0M60.7 351.3h0M76.0 347.3h0M101.0 345.2h0M82.9 351.6h0M86.0 352.0h0M67.7 355.4h0M110.0 355.2h0M115.8 354.7h0M91.7 352.4h0M72.7 345.3h0M93.9 353.2h0M96.8 355.0h0M69.0 350.7h0M90.1 347.8h0M89.9 348.5h0M69.8 346.4h0M97.2 352.7h0M87.8 351.6h0M68.5 347.1h0M87.9 351.5h0M88.2 355.6h0M89.4 354.6h0M95.4 354.4h0M72.2 351.6h0M82.6 348.7h0M79.1 349.3h0M104.7 346.2h0M111.9 348.6h0M99.5 346.1h0M95.1 347.9h0M76.1 352.3h0M97.7 347.5h0M101.2 347.8h0M76.3 354.7h0M71.6 347.4h0M94.6 351.5h0M103.4 353.8h0M67.0 355.1h0M77.8 349.6h0M99.5 355.8h0M79.7 349.1h0M95.5 352.1h0M90.7 351.0h0M114.4 353.0h0M98.0 353.4h0M82.2 354.1h0M75.5 347.0h0M92.7 348.2h0M69.3 354.2h0M88.6 347.8h0M89.1 345.8h0M68.9 344.8h0M107.4 354.1h0M102.8 345.3h0M76.1 347.1h0M109.0 353.2h0M74.2 349.0h0M88.7 345.4h0M58.3 348.6h0M75.1 350.2h0M72.9 350.5h0M73.1 346.6h0M81.3 346.1h0M99.9 351.0h0M82.3 352.7h0M99.1 354.3h0M92.1 346.5h0M75.8 346.3h0M91.7 346.1h0M74.1 349.6h0M62.2 351.1h0M96.1 349.5h0M81.3 347.9h0M89.0 346.2h0M103.7 346.2h0M105.9 354.8h0M105.4 351.2h0M68.4 347.2h0M91.7 355.2h0M61.5 354.9h0M95.0 349.4h0M106.1 350.7h0M104.4 348.9h0M58.3 354.2h0M108.4 352.2h0M85.6 350.6h0M61.6 351.3h0M94.9 354.5h0M105.5 346.7h0M112.8 347.9h0M94.7 347.6h0M106.4 355.7h0M80.5 352.8h0M101.6 350.5h0M70.5 352.0h0M95.9 345.7h0M103.0 346.6h0M86.1 348.8h0M89.2 347.7h0M100.8 346.7h0M84.8 352.8h0M63.1 349.5h0M68.0 347.3h0M76.8 350.2h0M81.9 349.8h0M69.8 346.3h0M76.0 349.6h0M70.6 344.8h0M70.4 352.4h0M83.0 353.9h0M102.1 348.1h0M112.3 352.2h0M111.0 355.5h0M85.2 346.2h0M90.7 346.6h0M85.2 353.5h0M95.7 350.1h0M89.6 354.2h0M74.3 353.6h0M82.9 348.9h0M101.5 351.1h0M73.4 350.2h0M85.8 344.8h0M93.7 347.0h0M98.0 351.3h0M84.1 354.7h0M76.0 345.8h0M88.5 345.5h0M73.6 349.2h0M98.5 345.1h0M93.2 351.4h0M76.5 347.6h0M88.5 349.2h0M113.0 353.7h0M79.1 351.6h0M64.2 355.6h0M69.9 354.1h0M104.8 353.6h0M73.5 347.2h0M78.4 352.4h0M104.1 349.2h0M74.8 347.9h0M99.4 350.4h0M65.6 352.0h0M67.7 353.5h0M77.6 349.9h0M90.7 347.3h0M77.9 352.9h0M96.8 349.0h0M81.9 352.9h0M93.6 355.5h0M75.2 352.3h0M106.0 345.8h0M89.3 351.3h0M90.3 351.0h0M62.3 352.6h0M73.0 354.9h0M105.5 345.0h0M57.6 354.0h0M91.6 355.5h0M97.4 352.0h0M74.6 353.9h0M92.4 350.6h0M95.7 349.9h0M78.5 353.6h0M96.4 351.5h0M107.7 350.5h0M102.9 348.2h0M91.2 350.2h0M90.0 351.1h0M69.8 347.4h0M56.7 353.5h0M89.9 353.9h0M73.9 347.2h0M92.6 347.0h0M100.9 354.9h0M65.4 351.9h0M98.1 346.8h0M115.0 353.1h0M83.3 346.0h0M85.2 353.7h0M110.6 352.2h0M59.7 354.6h0M100.7 347.6h0M94.8 345.9h0M66.6 352.2h0M93.0 349.6h0M112.9 350.0h0M78.2 354.7h0M106.9 345.6h0M92.2 352.6h0M96.0 355.5h0M76.1 352.7h0M112.8 353.8h0M97.5 354.6h0M90.1 348.5h0M79.9 352.9h0M84.0 351.5h0M85.3 351.9h0M81.2 352.1h0M76.1 351.3h0M73.4 345.2h0M71.8 345.2h0M65.9 349.4h0M73.8 350.0h0M84.8 354.5h0M95.5 350.6h0M81.9 348.1h0M84.2 351.3h0M88.3 347.3h0M89.4 345.9h0M104.2 346.2h0M74.7 348.2h0M100.3 347.9h0M63.0 350.9h0M85.3 348.1h0M99.4 351.4h0M94.7 349.2h0M64.5 353.4h0M108.4 345.1h0M88.6 352.1h0M99.5 353.7h0M97.5 345.4h0M102.4 351.4h0M94.0 355.8h0M79.7 348.8h0M68.3 355.6h0M74.9 354.2h0M105.8 349.0h0M72.5 345.9h0M68.2 348.1h0M72.9 348.9h0M74.4 353.6h0M114.9 347.9h0M84.5 354.2h0M70.6 352.2h0M96.3 344.9h0M90.5 345.1h0M100.5 354.3h0M58.0 355.3h0M83.0 348.0h0M69.7 351.3h0M92.2 355.3h0M83.7 346.1h0M103.0 346.1h0M72.8 354.8h0M94.8 353.1h0M94.8 346.6h0M73.9 347.6h0M71.7 354.3h0M95.1 353.9h0M112.8 354.0h0M110.3 351.7h0M90.0 347.0h0M99.5 352.5h0M107.0 350.5h0M76.6 352.6h0M92.8 347.4h0M97.7 350.4h0M77.8 348.4h0M85.4 345.9h0M67.4 351.6h0M77.8 348.0h0M77.2 353.5h0M66.4 347.9h0M82.5 349.5h0M75.7 354.4h0M67.5 351.9h0M115.6 352.8h0M97.4 353.4h0M105.3 347.6h0M84.2 351.0h0M65.2 352.5h0M97.1 346.0h0M108.6 345.1h0M103.6 350.4h0M99.3 348.9h0M78.1 351.4h0M81.9 347.8h0M69.7 352.1h0M85.9 354.6h0M91.6 349.8h0M97.9 350.6h0M78.7 346.4h0M61.9 353.4h0M84.1 350.7h0M109.6 353.6h0M81.9 351.1h0M109.5 354.7h0M95.8 349.5h0M92.7 349.3h0M77.8 345.7h0M93.2 345.6h0M62.0 349.5h0M91.3 350.9h0M75.7 355.8h0M84.0 346.6h0M71.2 348.7h0M75.8 345.3h0M85.4 350.7h0M96.8 345.0h0M69.5 354.3h0M88.4 349.9h0M59.3 351.7h0M82.9 355.9h0M82.1 346.1h0M70.4 348.4h0M95.6 354.2h0M93.6 350.2h0M84.9 351.9h0M70.1 348.6h0M110.0 354.7h0M112.1 354.1h0M93.4 345.2h0M63.9 352.1h0M71.4 355.4h0M70.4 353.2h0M62.7 353.2h0M84.0 348.5h0M94.2 350.5h0M91.6 348.3h0M104.3 345.5h0M89.2 346.5h0M81.0 347.3h0M83.9 346.3h0M75.3 346.7h0M97.6 344.7h0M73.6 355.2h0M60.6 354.4h0M101.4 350.7h0M60.1 347.8h0M103.6 351.9h0M78.8 347.0h0M96.8 354.6h0M103.7 353.6h0M102.4 352.2h0M65.4 351.8h0M92.3 350.0h0M80.1 351.7h0M70.2 353.1h0M109.2 353.2h0M76.0 350.3h0M79.2 346.8h0M81.4 346.5h0M80.2 346.0h0M98.5 351.6h0M113.9 354.7h0M76.6 351.0h0M90.2 354.1h0M89.9 352.7h0M78.1 355.0h0M77.3 348.7h0M85.5 351.8h0M105.2 354.2h0M94.9 347.0h0M103.2 347.7h0M72.3 349.4h0M80.1 350.2h0M82.0 347.2h0M102.2 349.3h0M93.5 352.6h0M89.1 352.7h0M84.7 349.2h0M59.5 354.9h0M92.7 355.0h0M68.8 345.9h0M89.7 347.9h0M102.0 350.8h0M102.3 354.5h0M92.3 353.5h0M94.3 354.1h0M77.5 353.9h0M77.6 347.3h0M71.0 349.9h0M77.8 346.3h0M89.0 352.4h0M92.2 347.2h0M94.6 352.6h0M79.2 352.3h0M98.9 347.0h0M71.9 352.0h0M81.8 354.0h0M93.5 347.5h0M88.1 351.1h0M94.4 347.3h0M96.5 353.0h0M91.7 355.2h0M95.0 353.5h0M59.4 351.8h0M89.1 346.6h0M81.2 354.8h0M113.1 353.9h0M97.5 345.9h0M75.8 352.0h0M102.7 347.7h0M85.1 348.3h0M116.8 352.4h0M80.2 349.1h0M96.4 353.1h0M110.7 355.7h0M94.3 348.8h0M74.8 351.7h0M100.2 354.1h0M71.2 352.1h0M94.9 351.4h0M94.8 349.4h0M64.7 354.8h0M84.8 345.4h0M76.5 351.2h0M79.2 352.6h0M67.3 354.8h0M89.9 354.2h0M91.1 352.0h0M72.4 347.0h0M58.4 352.9h0M90.3 349.4h0M97.0 347.6h0M91.3 353.9h0M116.8 355.8h0M94.7 350.9h0M78.3 351.9h0M78.5 347.9h0M66.5 353.0h0M85.1 346.6h0M107.2 345.9h0M96.7 350.1h0M100.6 346.4h0M59.2 354.5h0M105.7 350.3h0M88.7 352.5h0M73.6 345.4h0M73.3 349.4h0M84.6 354.6h0M77.7 352.6h0M74.4 348.7h0M73.5 347.0h0M83.7 353.3h0M109.5 348.7h0M81.2 350.9h0M80.6 352.6h0M83.8 346.0h0M112.4 354.7h0M65.6 351.6h0M109.5 354.9h0M95.9 352.2h0M79.5 355.7h0M94.1 351.8h0M79.6 350.8h0M72.2 346.7h0M69.4 347.1h0M83.4 346.2h0M57.7 355.6h0M94.0 351.5h0M74.2 349.3h0M84.7 352.8h0M70.1 346.1h0M79.5 352.3h0M98.8 345.7h0M101.3 353.6h0M95.6 347.7h0M83.7 354.8h0M70.6 352.2h0M76.8 354.6h0M81.2 355.1h0M96.6 353.8h0M75.9 349.4h0M93.3 347.1h0M93.5 352.7h0M90.8 353.3h0M62.8 352.0h0M84.1 347.8h0M95.3 355.4h0M88.4 353.9h0M90.7 350.9h0M100.2 345.9h0M98.0 347.5h0M96.6 346.2h0M94.8 346.9h0M91.7 346.7h0M67.0 348.7h0M110.6 355.1h0M89.3 351.8h0M73.1 349.2h0M83.6 348.7h0M88.7 349.5h0M90.8 346.5h0M70.5 349.6h0M92.6 345.0h0M68.7 349.9h0M81.0 349.5h0M73.6 355.7h0M91.8 351.0h0M65.8 346.6h0M68.5 355.2h0M74.5 347.0h0M107.1 350.7h0M115.6 351.3h0M88.7 355.5h0M82.4 346.2h0M94.7 352.2h0M100.7 346.8h0M64.1 352.4h0M65.5 347.1h0M109.4 347.8h0M107.4 351.2h0M63.1 350.4h0M104.6 352.2h0M68.2 347.0h0M98.2 352.2h0M73.9 349.6h0M67.1 352.2h0M74.7 349.9h0M72.9 352.3h0M92.2 348.1h0M110.7 354.2h0M101.7 350.7h0M62.8 347.5h0M106.5 354.5h0M102.1 345.9h0M57.4 354.7h0M65.6 351.4h0M73.3 344.9h0M63.8 353.6h0M73.0 355.2h0M77.9 347.8h0M89.2 352.0h0M98.2 344.9h0M59.7 346.6h0M97.7 355.7h0M78.5 345.3h0M84.2 349.3h0M79.2 349.7h0M87.9 346.6h0M103.3 352.9h0M75.6 349.5h0M99.5 353.8h0M81.8 348.1h0M90.0 347.3h0M83.1 355.2h0M77.9 347.7h0M103.5 348.1h0M108.6 345.2h0M90.6 345.5h0M116.1 352.8h0M105.7 350.4h0M80.6 349.6h0M102.2 352.1h0M63.7 353.0h0M117.4 355.1h0M113.4 354.1h0M90.4 346.3h0M64.0 352.7h0M82.0 352.5h0M73.2 347.7h0M100.0 354.1h0M92.4 345.9h0M88.1 349.5h0M98.1 351.8h0M105.4 355.7h0M106.4 344.9h0M75.9 355.5h0M62.2 352.3h0M88.8 354.4h0M84.6 351.6h0M75.4 352.6h0M96.6 349.8h0M106.9 350.0h0M99.0 345.3h0M87.8 348.5h0M75.0 352.3h0M81.1 345.2h0M67.4 346.1h0M111.7 355.2h0M99.7 345.4h0M105.6 349.1h0M77.6 348.9h0M101.4 347.7h0M83.0 353.1h0M75.4 355.7h0M72.2 346.3h0M82.0 348.5h0M102.0 345.1h0M58.1 348.2h0M94.7 345.6h0M95.0 346.5h0M99.8 347.0h0M78.6 354.3h0M95.0 354.6h0M95.9 352.2h0M77.1 352.5h0M100.5 346.5h0M82.9 346.9h0M103.1 350.8h0M95.6 355.8h0M65.3 355.3h0M84.5 353.8h0M85.7 349.6h0M98.2 353.6h0M85.9 350.6h0M98.6 345.3h0M81.4 350.8h0M89.2 346.1h0M58.4 353.5h0M60.9 349.8h0M91.2 347.8h0M86.1 352.5h0M81.7 348.2h0M92.6 346.4h0M73.1 355.7h0M68.4 352.1h0M96.8 353.2h0M100.7 345.5h0M107.0 353.7h0M62.1 353.6h0M99.9 345.4h0M92.4 348.2h0M113.5 354.0h0M85.3 350.3h0M85.8 345.8h0M109.7 355.6h0M62.5 347.1h0M63.4 351.2h0M111.9 352.9h0M86.0 345.1h0M78.7 350.2h0M78.1 348.5h0M75.9 351.2h0M76.7 345.8h0M68.0 353.9h0M79.2 346.5h0M74.8 354.2h0M83.5 352.0h0M109.7 354.2h0M84.6 349.4h0M102.2 347.6h0M68.5 354.4h0M93.5 348.1h0M74.4 346.0h0M77.1 353.4h0M72.3 345.6h0M96.8 348.4h0M76.9 348.8h0M96.3 349.5h0M78.6 354.1h0M87.8 345.1h0M96.8 351.7h0M95.9 346.8h0M92.4 349.2h0M80.7 347.6h0M100.5 347.6h0M68.6 346.0h0M91.3 352.3h0M82.7 346.7h0M71.4 352.6h0M97.1 350.6h0M112.4 353.4h0M73.8 345.1h0M82.1 354.3h0M110.8 354.7h0M78.4 346.7h0M88.0 350.1h0M70.3 353.4h0M88.3 352.0h0M65.8 352.6h0M85.9 347.2h0M85.1 351.8h0M101.1 353.7h0M93.2 349.2h0M65.6 346.3h0M78.2 346.8h0M102.3 352.3h0M65.4 345.1h0M88.0 353.3h0M76.7 345.1h0M67.6 354.9h0M79.2 353.4h0M94.4 350.3h0M72.2 350.5h0M104.3 352.5h0M95.9 346.8h0M85.1 344.9h0M81.6 345.9h0M89.1 347.3h0M82.6 347.1h0M75.2 354.8h0M74.5 350.0h0M88.8 353.3h0M69.3 351.3h0M103.6 345.6h0M80.9 345.0h0M72.2 352.1h0M104.8 351.0h0M96.4 349.0h0M83.2 348.1h0M90.3 345.4h0M82.6 345.9h0M95.3 345.1h0M92.3 346.9h0M74.5 354.1h0M83.7 346.5h0M94.4 347.1h0M103.2 345.6h0M58.9 355.3h0M86.0 352.1h0M88.1 353.9h0M111.3 347.7h0M100.0 347.9h0M102.5 348.9h0M69.0 351.0h0M82.3 355.0h0M99.0 350.0h0M107.4 351.4h0M104.9 346.4h0M96.3 354.4h0M103.8 350.9h0M62.9 347.9h0M85.4 346.1h0M90.9 350.8h0M72.4 351.1h0M81.4 351.6h0M69.2 346.5h0M77.0 347.6h0M79.8 345.0h0M101.5 349.7h0M88.6 350.1h0M83.7 354.9h0M57.0 353.9h0M95.0 353.6h0M69.1 349.0h0M67.2 352.4h0M77.3 345.4h0M103.2 351.9h0M83.4 352.7h0M79.6 352.3h0M68.2 350.7h0M100.8 350.0h0M76.7 355.5h0M65.1 354.6h0M86.0 354.1h0M77.4 347.7h0M89.2 354.5h0M88.9 351.3h0M88.3 353.1h0M74.0 349.4h0M94.3 351.4h0M98.5 346.1h0M71.6 345.7h0M93.7 354.2h0M96.3 349.2h0M78.5 350.6h0M71.4 347.4h0M90.5 351.9h0M91.4 355.2h0M94.7 348.8h0M91.4 347.3h0M101.6 354.4h0M71.5 348.1h0M89.9 345.2h0M84.0 347.9h0M102.2 345.1h0M105.3 345.8h0M77.0 349.2h0M63.4 355.7h0M89.0 347.9h0M76.9 353.5h0M65.5 352.2h0M102.7 347.8h0M103.4 351.8h0M83.4 355.1h0M70.1 348.7h0M73.8 352.4h0M101.0 352.2h0M62.9 354.7h0M84.9 353.5h0M106.5 353.8h0M67.3 353.9h0M77.9 355.1h0M68.7 350.6h0M71.9 350.5h0M103.7 350.8h0M96.0 346.8h0M85.2 348.3h0M112.0 353.1h0M96.2 352.0h0M65.0 355.2h0M100.5 354.3h0M67.6 345.0h0M95.3 349.9h0M90.8 348.4h0M107.0 346.3h0M80.2 355.5h0M80.9 347.4h0M88.5 345.0h0M83.8 347.3h0M72.1 350.9h0M69.5 346.8h0M67.6 355.0h0M80.2 345.7h0M76.2 353.5h0M76.3 353.8h0M77.0 352.1h0M112.5 348.0h0M70.7 348.2h0M112.3 347.2h0M98.0 355.9h0M72.6 346.6h0M88.2 352.1h0M89.9 350.0h0M98.2 354.6h0M82.0 354.8h0M69.0 353.5h0M91.3 352.2h0M85.6 355.1h0M97.0 347.3h0M105.0 345.6h0M70.1 350.8h0M100.1 346.1h0M76.1 355.1h0M96.9 355.5h0M105.6 349.4h0M95.5 348.6h0M87.9 349.3h0M105.0 351.2h0M87.8 353.6h0M88.3 344.9h0M89.6 349.9h0M102.0 346.0h0M98.7 348.8h0M75.8 349.5h0M72.7 347.5h0M105.9 353.8h0M78.8 354.8h0M93.8 351.6h0M63.5 355.2h0M92.9 345.5h0M103.1 347.9h0M79.4 347.0h0M76.1 355.7h0M91.0 348.9h0M102.3 345.3h0M92.0 354.9h0M85.2 354.6h0M101.4 350.9h0M88.1 349.5h0M88.4 350.8h0M59.7 351.8h0M112.3 353.3h0M77.9 351.0h0M102.8 352.4h0M97.3 355.1h0M65.1 348.6h0M81.7 348.5h0M72.3 353.0h0M98.4 353.9h0M80.9 346.9h0M94.4 345.7h0M90.1 352.3h0M85.4 355.8h0M93.2 348.3h0M88.1 348.0h0M92.7 346.6h0M72.2 352.9h0M77.3 354.0h0M66.5 345.5h0M71.3 346.5h0M104.0 355.5h0M108.3 348.1h0M105.7 353.6h0M96.2 352.9h0M73.7 345.1h0M72.1 345.0h0M100.1 346.1h0M62.2 351.4h0M74.3 348.1h0M107.4 352.9h0M77.9 345.4h0M108.0 345.6h0M89.5 353.4h0M74.5 354.8h0M88.4 347.0h0M78.8 346.1h0M77.4 352.3h0M77.9 355.6h0M93.3 351.8h0M93.5 344.9h0M106.9 351.3h0M101.3 346.4h0M62.8 353.6h0M80.5 346.5h0M101.6 345.1h0M89.5 351.1h0M85.5 347.9h0M81.4 354.3h0M79.9 346.3h0M74.0 344.9h0M102.5 353.8h0M99.3 353.1h0M77.1 344.8h0M82.5 354.0h0M86.1 346.0h0M85.9 348.4h0M97.6 354.3h0M97.0 346.0h0M70.4 352.8h0M96.1 346.2h0M65.7 349.2h0M88.6 345.7h0M88.1 345.3h0M104.9 355.1h0M88.5 350.8h0M69.4 347.5h0M62.6 347.9h0M74.7 349.4h0M108.3 352.1h0M78.2 353.4h0M83.9 351.8h0M83.9 354.1h0M74.0 346.8h0M100.1 345.0h0M82.5 345.9h0M91.7 351.3h0M93.1 349.9h0M95.5 352.8h0M99.5 348.6h0M82.8 347.4h0M115.4 354.8h0M85.3 346.4h0M94.7 354.2h0M98.4 347.4h0M77.9 353.2h0M67.2 351.6h0M77.7 353.6h0M61.8 348.9h0M108.8 348.0h0M101.8 355.4h0M75.8 345.4h0M102.1 348.7h0M89.1 350.3h0M99.2 347.2h0M101.2 346.7h0M79.7 347.1h0M73.9 351.8h0M94.3 349.5h0M83.2 351.4h0M75.9 350.1h0M80.5 346.6h0M80.8 352.6h0M111.3 354.1h0M105.0 351.6h0M98.7 347.5h0M82.3 349.8h0M98.1 349.9h0M74.7 353.5h0M77.7 345.4h0M98.0 354.1h0M117.4 355.1h0M78.4 346.2h0M102.1 353.3h0M88.4 355.0h0M97.5 353.3h0M73.7 349.6h0M92.7 354.4h0M83.6 348.5h0M98.3 346.7h0M68.3 347.7h0M82.8 348.1h0M76.9 350.1h0M82.7 346.3h0M97.4 351.9h0M92.3 346.4h0M73.4 350.8h0M75.0 352.3h0M88.2 349.6h0M99.9 353.6h0M98.3 349.9h0M88.1 346.9h0M105.7 347.4h0M106.4 346.7h0M105.9 354.9h0M73.7 346.7h0M89.9 355.8h0M82.1 346.7h0M82.1 345.4h0M77.1 349.0h0M75.9 345.2h0M70.3 350.6h0M94.9 351.1h0M64.9 353.3h0M99.7 351.8h0M102.9 346.8h0M68.0 347.7h0M95.5 349.6h0M72.4 345.0h0M81.2 348.6h0M105.7 350.4h0M94.5 345.0h0M69.2 346.0h0M104.5 350.5h0M80.4 345.6h0M83.4 345.6h0M66.7 345.0h0M59.6 354.0h0M97.4 347.6h0M89.9 347.0h0M111.4 354.8h0M78.1 355.7h0M84.7 353.2h0M104.1 351.3h0M96.7 351.3h0M88.5 345.5h0M66.7 351.1h0M94.7 347.9h0M110.4 352.5h0M57.3 354.1h0M111.0 352.4h0M115.1 355.3h0M95.4 350.5h0M94.6 352.5h0M64.0 350.3h0M80.7 352.3h0M80.3 349.5h0M59.7 353.5h0M80.2 353.3h0M80.4 352.0h0M95.4 347.9h0M79.4 350.7h0M92.0 351.4h0M80.9 350.8h0M72.5 353.1h0M100.5 353.6h0M93.9 348.5h0M110.2 354.3h0M82.3 347.9h0M83.5 347.0h0M92.7 350.1h0M89.2 355.3h0M65.9 345.5h0M90.3 348.6h0M95.4 346.8h0M99.9 350.3h0M62.7 348.2h0M80.2 345.2h0M94.4 355.5h0M61.3 353.6h0M85.6 349.2h0M99.2 346.0h0M74.5 354.4h0M77.5 344.8h0M82.0 355.9h0M96.0 346.6h0M98.9 345.9h0M78.6 345.2h0M77.2 346.8h0M72.0 346.8h0M100.4 351.7h0" stroke="#b0b0b0" stroke-width="1.2" stroke-linecap="square" fill="none"/>
<path d="M91.7 336.2h0M72.7 332.3h0M81.4 343.1h0M71.6 340.9h0M90.8 334.8h0M69.3 336.7h0M76.6 337.0h0M77.7 337.3h0M119.5 283.2h0M108.1 310.5h0M95.9 332.9h0M94.5 289.9h0M125.1 318.5h0M104.9 332.3h0M65.3 338.7h0M92.0 327.3h0M80.1 340.2h0M106.4 339.1h0M70.3 343.1h0M74.8 329.2h0M81.8 343.3h0M100.3 341.4h0M97.9 337.2h0M73.7 280.9h0M67.6 278.7h0M71.3 316.9h0M83.7 344.8h0M92.8 287.7h0M70.7 335.6h0M126.0 323.9h0M96.0 326.1h0M66.0 324.9h0M110.7 324.6h0M56.3 321.7h0M110.4 310.0h0M92.0 312.5h0M89.8 308.6h0M97.4 331.4h0M89.6 337.3h0M56.9 278.2h0M51.8 344.7h0M79.8 344.3h0M73.8 341.9h0M80.0 327.1h0M79.4 331.9h0M74.8 275.0h0M74.3 344.4h0M82.5 328.3h0M82.3 337.1h0M66.4 343.1h0M63.8 322.7h0M51.4 340.0h0M69.4 335.7h0M89.8 333.3h0M69.2 338.5h0M113.0 323.2h0M101.8 341.7h0M83.0 340.1h0M63.5 344.1h0M95.2 323.2h0M80.4 327.5h0M106.3 330.2h0M105.9 310.0h0M73.2 336.6h0M83.8 343.4h0M92.7 329.4h0M75.4 331.8h0M112.9 335.3h0M63.3 298.6h0M70.2 325.3h0M71.5 344.5h0M52.2 303.4h0M88.9 332.9h0M60.2 340.2h0M117.3 334.6h0M63.7 317.2h0M98.5 329.7h0M44.4 295.6h0M89.4 274.1h0M91.7 306.1h0M91.4 330.9h0M114.6 336.1h0M116.6 336.7h0M102.1 338.6h0M80.3 342.4h0M94.4 338.1h0M76.8 340.5h0M66.0 315.8h0M77.9 272.4h0M73.6 339.6h0M100.3 334.9h0M92.3 340.5h0M69.3 336.7h0M65.8 334.7h0M107.1 332.3h0M71.4 306.9h0M129.7 340.5h0M102.6 344.4h0M83.0 333.3h0M111.4 275.6h0M68.1 344.5h0M81.6 333.6h0M94.9 322.6h0M79.7 312.6h0M68.8 332.5h0M105.6 324.5h0M105.0 288.7h0M93.0 335.3h0M74.5 339.5h0M82.4 282.1h0M110.8 341.0h0M123.7 297.2h0M63.0 341.5h0M91.3 341.3h0M61.1 338.4h0M102.6 330.6h0M117.8 304.6h0M51.1 275.5h0M106.0 315.0h0M92.5 335.9h0M69.7 340.5h0M71.2 331.8h0M101.5 317.8h0M81.1 344.9h0M92.2 333.5h0M91.7 344.2h0M93.4 285.2h0M106.2 343.2h0M96.0 296.5h0M73.2 325.0h0M91.7 338.6h0M101.8 306.9h0M81.3 342.1h0M77.8 338.8h0M98.6 336.2h0M46.5 343.9h0M81.0 341.5h0M92.8 339.3h0M82.6 337.4h0M80.1 342.7h0M63.0 283.7h0M127.7 327.7h0M81.0 344.6h0M69.2 335.1h0M99.6 280.6h0M129.8 280.0h0M75.0 310.8h0M100.6 343.2h0M102.4 338.1h0M82.4 344.9h0M72.9 336.4h0M67.9 340.9h0M113.3 309.9h0M83.3 327.6h0M71.2 327.8h0M96.9 343.9h0M95.4 335.6h0M97.7 339.2h0M76.0 338.4h0M83.9 333.1h0M92.0 344.2h0M94.1 335.9h0M84.8 343.7h0M79.3 341.3h0M84.7 311.8h0M91.2 337.3h0M65.6 335.4h0M92.4 327.0h0M77.2 342.4h0M107.8 337.8h0M101.4 344.3h0M82.6 273.7h0M98.9 340.4h0M81.7 299.4h0M90.8 343.5h0M61.2 339.8h0M61.3 337.6h0M99.6 329.7h0M102.2 339.5h0M84.1 313.8h0M57.9 294.3h0M89.1 342.5h0M95.3 319.8h0M94.2 336.9h0M56.2 272.2h0M128.5 306.6h0M97.8 308.4h0M101.2 340.5h0M111.4 343.4h0M90.2 298.9h0M54.7 317.3h0M43.9 302.7h0M101.7 329.8h0M128.8 294.4h0M97.2 344.1h0M75.3 335.6h0M51.2 323.2h0M97.5 343.9h0M117.6 341.3h0M69.6 342.1h0M83.4 329.6h0M92.7 341.6h0M75.0 337.3h0M84.3 332.0h0M77.8 335.9h0M99.1 337.3h0M94.2 334.1h0M58.1 305.2h0M46.3 344.2h0M95.6 327.2h0M79.0 308.3h0M90.0 342.6h0M78.3 313.4h0M98.3 319.1h0M60.8 288.2h0M72.9 333.0h0M91.7 344.1h0M96.8 341.7h0M65.2 339.6h0M68.0 276.9h0M84.3 318.6h0M82.0 342.5h0M89.6 343.2h0M68.6 334.6h0M94.3 332.4h0M69.9 338.2h0M90.9 342.6h0M78.3 302.5h0M107.2 299.7h0M97.7 340.3h0M114.1 307.2h0M80.4 283.6h0M89.4 335.0h0M106.5 343.9h0M72.1 336.2h0M77.8 305.0h0M103.5 291.0h0M89.9 339.9h0M102.3 325.3h0M91.7 343.1h0M76.7 339.0h0M73.5 344.4h0M103.0 333.9h0M67.4 343.4h0M67.5 342.7h0M83.6 333.8h0M98.8 330.6h0M90.6 306.7h0M109.6 320.2h0M68.2 343.3h0M91.7 326.9h0M106.3 340.8h0M108.6 319.7h0M54.4 318.7h0M125.2 334.4h0M77.0 338.9h0M75.9 286.8h0M73.7 344.4h0M77.8 338.3h0M99.2 315.0h0M68.0 342.7h0M52.0 273.0h0M82.5 342.5h0M78.6 322.4h0M90.5 340.0h0M81.3 342.9h0M72.1 342.8h0M77.6 303.1h0M122.1 289.4h0M74.7 344.3h0M73.6 324.1h0M116.9 331.6h0M127.2 338.8h0M74.9 282.2h0M71.0 338.9h0M84.8 335.5h0M65.3 332.4h0M74.9 337.1h0M79.1 337.5h0M112.1 308.2h0M92.0 339.0h0M98.4 341.3h0M60.5 339.4h0M76.7 330.5h0M101.1 338.8h0M67.2 337.9h0M78.3 341.8h0M92.4 335.5h0M49.4 341.9h0M108.7 341.8h0M93.8 338.1h0M93.6 344.6h0M51.6 320.9h0M83.5 327.7h0M101.1 332.8h0M74.3 336.3h0M90.9 344.1h0M91.6 341.0h0M68.7 298.7h0M100.2 318.1h0M67.3 326.5h0M48.4 343.7h0M124.0 340.6h0M74.9 337.2h0M67.0 343.0h0M97.4 319.9h0M97.6 344.4h0M78.5 335.9h0M80.2 330.1h0M74.1 344.2h0M108.6 311.1h0M92.0 341.2h0M66.8 329.0h0M84.7 335.1h0M95.2 320.3h0M103.9 331.8h0M100.7 331.9h0M52.7 344.6h0M113.3 300.4h0M95.0 343.2h0M95.5 341.1h0M70.2 298.4h0M110.0 331.0h0M124.4 344.7h0M44.9 344.7h0M109.3 330.4h0M64.8 287.3h0M95.3 342.1h0M93.2 339.4h0M92.3 334.1h0M64.7 339.7h0M96.8 337.3h0M96.8 343.7h0M94.9 332.7h0M71.7 290.0h0M55.9 337.8h0M91.5 329.2h0M81.4 317.6h0M72.6 316.0h0M108.8 308.5h0M61.6 336.0h0M97.0 339.9h0M104.4 327.4h0M109.6 338.3h0M110.4 302.3h0M79.9 337.1h0M52.3 299.4h0M78.8 337.9h0M97.4 340.9h0M103.2 341.9h0M89.0 341.7h0M98.8 343.5h0M70.5 338.7h0M93.8 328.6h0M118.1 316.9h0M62.1 327.1h0M95.8 299.6h0M114.0 288.8h0M53.5 274.5h0M70.8 331.1h0M119.0 328.0h0M69.6 339.5h0M94.8 344.3h0M94.4 325.5h0M66.0 342.3h0M82.9 334.7h0M127.9 289.1h0M61.4 330.9h0M96.2 344.4h0M57.7 340.5h0M46.9 312.1h0M100.9 286.3h0M74.7 330.5h0M76.8 320.7h0M101.8 339.2h0M70.9 331.6h0M70.9 296.7h0M76.9 338.6h0M76.7 326.5h0M83.5 271.9h0M84.4 308.9h0M119.9 340.5h0M98.7 309.9h0M96.4 343.0h0M62.6 341.3h0M111.5 336.5h0M99.6 342.0h0M104.5 320.2h0M72.7 325.0h0M77.2 336.4h0M64.2 341.7h0M89.4 328.8h0M119.0 286.8h0M76.9 342.2h0M63.3 339.3h0M64.7 310.1h0M120.6 284.1h0M83.9 342.3h0M62.5 335.5h0M96.7 341.5h0M64.9 344.9h0M53.2 312.1h0M89.4 306.4h0M80.9 327.0h0M99.0 342.3h0M81.1 340.2h0M99.6 312.6h0M102.4 284.3h0M100.6 290.0h0M84.7 287.9h0M58.9 337.9h0M69.4 341.5h0M65.4 328.4h0M99.0 337.7h0M96.8 308.7h0M89.8 335.6h0M82.4 304.1h0M104.9 324.3h0M97.1 340.0h0M103.2 344.3h0M73.2 295.7h0M73.9 341.4h0M97.0 341.4h0M78.5 307.6h0M89.2 330.9h0M117.7 339.9h0M84.6 299.1h0M71.3 333.3h0M99.2 334.9h0M89.4 330.5h0M53.1 324.6h0M74.9 331.1h0M110.8 340.7h0M95.2 336.6h0M92.0 327.1h0M77.6 343.6h0M129.5 334.4h0M106.3 339.0h0M63.0 343.4h0M94.4 344.8h0M96.3 316.4h0M64.3 340.8h0M84.8 338.6h0M93.9 332.4h0M77.1 344.8h0M81.2 324.8h0M117.5 303.2h0M80.9 333.0h0M98.6 322.4h0M84.1 291.7h0M111.6 332.6h0M101.5 333.9h0M105.9 344.3h0M108.8 339.3h0M89.8 319.0h0M116.8 291.2h0M92.8 344.7h0M103.9 324.1h0M112.3 290.0h0M101.2 331.6h0M119.0 338.2h0M103.2 334.1h0M92.5 343.5h0M91.3 332.8h0M74.1 294.0h0M71.8 339.4h0M91.9 337.7h0M69.3 333.0h0M94.3 344.4h0M65.0 341.2h0M90.5 299.0h0M103.0 331.3h0M67.4 313.0h0M50.4 288.2h0M71.5 312.3h0M60.5 296.2h0M95.2 318.6h0M69.7 331.4h0M98.6 311.1h0M63.9 278.5h0M92.9 341.4h0M81.2 334.9h0M94.8 315.6h0M83.6 312.1h0M90.7 326.1h0M95.5 319.8h0M117.7 300.3h0M56.7 342.6h0M73.1 337.2h0M108.0 305.1h0M89.3 339.8h0M89.5 341.1h0M83.0 334.0h0M114.3 300.8h0M124.1 298.9h0M96.6 307.6h0M84.0 299.5h0M95.1 338.9h0M90.5 313.2h0M105.9 338.9h0M63.2 309.4h0M63.1 341.0h0M124.9 313.3h0M91.2 337.8h0M78.7 287.4h0M82.3 333.5h0M99.9 329.7h0M104.5 330.5h0M75.4 343.2h0M125.9 328.6h0M72.7 339.7h0M99.9 324.4h0M72.5 336.6h0M95.8 341.3h0M79.0 309.1h0M61.7 293.3h0M91.4 280.1h0M112.4 342.2h0M83.7 309.6h0M116.3 328.4h0M109.4 341.8h0M99.1 328.4h0M83.1 332.2h0M74.6 335.2h0M69.3 342.9h0M113.3 320.8h0M69.7 343.8h0M69.4 342.1h0M90.6 326.3h0M81.1 340.9h0M81.1 329.8h0M98.9 337.5h0M100.1 296.0h0M74.3 342.2h0M78.8 312.3h0M53.0 322.6h0M60.9 329.5h0M104.0 340.9h0M79.4 336.2h0M94.0 342.8h0M99.2 332.9h0M80.4 314.4h0M89.9 339.9h0M92.2 344.2h0M71.8 337.9h0M77.4 338.3h0M97.9 325.0h0M117.8 310.9h0M104.5 332.9h0M130.2 344.8h0M77.6 338.5h0M81.8 337.2h0M90.9 339.4h0M119.8 337.7h0M95.2 327.3h0M83.8 336.2h0M93.4 331.0h0M97.5 339.9h0M83.9 340.1h0M93.4 339.5h0M65.9 302.9h0M72.7 314.2h0M94.3 312.4h0M59.6 332.4h0M81.3 342.8h0M45.8 288.3h0M96.4 332.5h0M62.8 339.9h0M83.8 317.3h0M109.4 326.1h0M79.5 298.5h0M97.5 340.5h0M47.2 284.3h0M97.4 340.2h0M105.0 319.2h0M66.3 301.6h0M70.0 343.9h0M78.0 343.5h0M76.2 305.9h0M74.8 312.5h0M104.7 333.8h0M44.5 317.2h0M71.9 304.5h0M60.9 323.7h0M82.3 341.5h0M92.9 344.4h0M93.1 335.2h0M64.9 333.0h0M84.0 333.4h0M48.1 337.7h0M60.3 293.2h0M96.0 339.6h0M75.3 319.6h0M93.7 344.5h0M59.1 301.7h0M70.6 335.3h0M102.2 335.8h0M115.2 341.2h0M73.7 337.8h0M81.5 324.1h0M77.2 340.6h0M75.7 344.8h0M78.1 335.7h0M68.8 344.8h0M95.6 338.9h0M103.4 284.8h0M90.5 329.8h0M72.9 344.6h0M50.7 344.6h0M48.7 293.1h0M95.8 331.2h0M83.5 328.2h0M99.6 336.0h0M69.3 293.5h0M106.6 344.6h0M120.7 306.3h0M99.8 344.7h0M79.3 342.0h0M123.0 312.6h0M60.8 309.7h0M90.3 339.7h0M99.2 330.8h0M97.4 340.5h0M89.0 337.6h0M95.7 340.8h0M108.4 314.3h0M79.6 322.6h0M83.3 326.1h0M83.8 339.4h0M106.3 296.0h0M91.5 343.7h0M60.4 334.0h0M56.6 323.3h0M89.1 344.5h0M94.0 315.4h0M94.4 321.0h0M93.3 339.4h0M81.7 333.1h0M67.8 300.8h0M118.4 280.3h0M69.5 342.3h0M97.4 323.5h0M84.6 343.5h0M75.8 340.9h0M92.7 340.0h0M97.4 319.5h0M89.9 339.4h0M69.1 320.6h0M74.2 315.1h0M76.1 339.7h0M81.9 342.5h0M77.0 333.9h0M125.0 323.6h0M84.5 333.3h0M73.0 342.5h0M60.8 321.5h0M103.9 312.1h0M109.9 338.3h0M77.8 309.1h0M73.1 302.3h0M70.6 344.3h0M120.4 315.6h0M108.8 299.3h0M80.8 344.6h0M79.1 295.5h0M101.2 310.2h0M81.9 342.7h0M67.3 314.4h0M45.6 284.6h0M106.6 313.1h0M89.5 275.6h0M103.3 336.8h0M99.2 321.9h0M93.8 331.4h0M84.7 329.8h0M97.8 331.9h0M112.0 331.4h0M61.0 334.3h0M74.7 341.4h0M67.4 334.4h0M74.2 303.9h0M77.0 307.9h0M81.3 337.5h0M58.0 318.8h0M93.9 344.3h0M48.4 322.9h0M92.4 313.1h0M64.5 274.9h0M126.4 314.2h0M52.8 321.8h0M92.8 342.3h0M55.1 326.7h0M77.5 290.3h0M79.6 341.3h0M78.4 331.6h0M72.1 327.9h0M91.1 343.4h0M49.6 324.7h0M106.9 336.5h0M106.2 340.6h0M63.0 335.8h0M98.7 341.0h0M115.0 338.3h0M78.7 334.0h0M110.0 316.9h0M82.0 326.5h0M72.3 340.0h0M96.2 325.4h0M48.9 320.5h0M99.2 337.8h0M97.5 344.4h0M98.1 337.9h0M92.7 335.7h0M107.3 334.1h0M96.9 324.0h0M74.0 342.4h0M103.3 313.6h0M57.0 317.5h0M122.7 331.7h0M51.9 327.9h0M94.8 299.7h0M89.0 336.4h0M89.0 299.8h0M97.8 331.9h0M63.5 331.4h0M65.7 337.3h0M89.8 287.9h0M91.0 334.1h0M62.2 325.2h0M108.4 343.6h0M94.4 344.2h0M65.4 342.3h0M58.6 314.5h0M84.4 321.1h0M76.2 337.9h0M93.8 338.6h0M107.3 325.7h0M89.4 337.3h0M89.3 338.8h0M81.3 343.6h0M114.1 301.5h0M60.8 342.7h0M77.9 333.8h0M83.2 333.8h0M100.6 327.9h0M103.9 333.9h0M90.4 328.3h0M102.8 334.4h0M83.9 335.6h0M122.7 331.0h0M76.6 293.4h0M64.4 315.1h0M122.0 344.0h0M101.6 274.9h0M101.0 335.2h0M116.8 295.1h0M101.1 341.7h0M114.2 301.0h0M93.5 342.1h0M45.7 331.4h0M44.2 341.2h0M91.8 334.0h0M63.8 339.3h0M76.2 321.7h0M102.7 340.0h0M90.1 337.8h0M96.0 341.6h0M94.4 341.5h0M77.5 328.2h0M82.9 338.2h0M71.7 342.8h0M112.7 328.7h0M82.2 343.2h0M78.6 304.2h0M64.8 341.6h0M95.0 308.3h0M100.4 344.5h0M103.9 343.7h0M101.1 343.0h0M84.3 333.8h0M89.0 339.7h0M79.8 284.6h0M75.9 325.8h0M54.0 327.0h0M103.5 337.9h0M107.8 342.5h0M74.1 293.0h0M78.9 301.5h0M46.6 344.6h0M92.9 310.0h0M96.6 315.7h0M95.2 318.1h0M92.2 344.0h0M82.8 342.1h0M105.3 340.4h0M73.0 317.3h0M77.1 324.8h0M52.4 317.2h0M108.1 291.3h0M79.1 342.4h0M83.0 336.0h0M66.0 339.9h0M71.5 330.8h0M92.7 340.1h0M78.5 343.6h0M55.0 273.0h0M116.7 344.2h0M56.6 341.6h0M65.5 294.0h0M79.0 341.4h0M81.5 341.1h0M75.3 332.5h0M83.7 332.4h0M107.3 314.7h0M93.7 335.0h0M81.5 336.5h0M97.9 322.3h0M57.2 301.4h0M96.0 338.5h0M91.9 338.9h0M80.2 311.9h0M65.9 341.7h0M118.6 314.4h0M77.4 341.3h0M99.3 338.6h0M80.8 322.0h0M83.8 333.9h0M114.9 343.8h0M83.8 321.8h0M79.6 341.0h0M94.0 333.5h0M89.6 318.0h0M91.0 321.8h0M76.8 303.0h0M98.6 340.9h0M66.3 327.1h0M105.7 341.8h0M73.2 329.9h0M55.1 306.8h0M96.3 344.6h0M108.4 341.2h0M83.0 339.5h0M84.7 326.0h0M99.7 337.1h0M69.5 322.4h0M91.8 337.0h0M92.9 335.4h0M73.8 314.1h0M68.4 330.1h0M59.2 282.4h0M101.4 337.0h0M78.4 338.6h0M84.4 304.9h0M104.1 300.5h0M91.8 309.5h0M78.8 317.9h0M119.1 273.5h0M105.6 332.3h0M90.4 326.7h0M78.4 344.0h0M118.0 308.3h0M69.3 304.8h0M124.4 297.2h0M92.6 331.7h0M56.9 332.0h0M106.9 315.1h0M95.3 338.1h0M83.1 312.7h0M103.4 318.3h0M124.3 336.2h0M89.5 340.0h0M80.1 323.2h0M84.4 295.7h0M105.3 341.2h0M69.2 344.9h0M82.8 317.9h0M84.8 342.0h0M98.1 339.8h0M81.5 340.5h0M82.9 335.7h0M104.5 344.4h0M112.0 311.0h0M99.1 337.9h0M66.6 323.9h0M96.1 333.8h0M78.7 335.9h0M90.2 301.6h0M78.4 318.1h0M69.4 308.2h0M81.5 320.1h0M67.5 338.3h0M90.9 334.4h0M79.3 320.7h0M100.1 342.4h0M89.5 312.4h0M98.5 328.6h0M77.8 332.0h0M78.0 322.9h0M84.6 324.1h0M92.8 284.9h0M90.7 339.8h0M78.1 325.8h0M64.3 327.9h0M90.7 328.6h0M75.1 344.3h0M96.7 330.7h0M74.0 336.9h0M78.1 327.1h0M78.6 318.3h0M103.6 341.5h0M73.3 324.4h0M78.9 332.5h0M65.6 344.0h0M121.8 326.1h0M61.0 298.5h0M99.5 290.3h0M109.0 306.4h0M74.1 321.1h0M108.5 341.2h0M81.5 332.3h0M98.8 339.5h0M79.9 327.6h0M120.6 314.7h0M89.6 331.4h0M91.3 336.9h0M69.7 332.3h0M68.2 344.7h0M106.7 338.8h0M93.0 273.3h0M56.0 343.3h0M108.7 339.7h0M71.1 338.2h0M77.2 291.4h0M80.7 341.3h0M70.6 318.2h0M96.4 327.8h0M75.4 325.6h0M53.3 288.1h0M84.6 328.8h0M102.8 302.1h0M93.9 295.2h0M80.7 344.5h0M96.2 317.7h0M60.2 306.8h0M63.0 332.8h0M90.0 340.5h0M92.1 321.9h0M127.0 330.9h0M70.8 343.7h0M89.8 331.0h0M57.2 283.3h0M84.6 289.4h0M90.8 278.1h0M91.3 341.4h0M92.2 341.4h0M99.6 341.8h0M90.0 317.7h0M60.9 325.0h0M83.2 342.3h0M103.3 336.8h0M103.4 283.6h0M79.1 318.1h0M92.6 338.8h0M121.6 344.9h0M96.3 336.4h0M64.4 343.2h0M75.6 330.9h0M82.7 338.5h0M98.7 342.9h0M51.6 335.8h0M83.2 341.7h0M101.1 337.8h0M107.5 340.2h0M91.3 331.6h0M113.2 334.9h0M68.7 324.5h0M73.4 317.4h0M75.5 333.2h0M84.2 335.5h0M73.4 336.3h0M79.8 310.2h0M101.1 339.0h0M82.6 292.3h0M72.1 340.0h0M125.3 325.9h0M103.7 341.4h0M67.7 277.7h0M74.2 341.9h0M68.6 330.9h0M80.2 314.6h0M74.1 341.8h0M98.0 344.7h0M90.7 344.8h0M95.5 332.2h0M109.2 333.2h0M84.9 340.3h0M63.2 336.6h0M95.0 315.6h0M100.4 332.2h0M116.5 340.1h0M108.7 314.3h0M118.2 298.5h0M91.4 344.0h0M95.3 306.1h0M82.5 342.1h0M44.5 315.9h0M101.4 342.4h0M69.5 336.2h0M79.2 334.3h0M99.2 339.5h0M122.4 325.6h0M81.9 342.9h0M113.3 315.5h0M90.5 333.9h0M69.9 339.1h0M128.6 341.3h0M68.5 330.6h0M70.1 326.9h0M64.0 282.5h0M95.9 343.8h0M93.7 332.2h0M115.6 332.3h0M70.6 331.6h0M71.7 338.4h0M63.8 317.6h0M102.3 323.8h0M106.4 338.5h0M99.1 341.3h0M119.1 341.7h0M84.2 326.0h0M102.2 341.6h0M96.9 331.2h0M64.0 334.4h0M107.3 342.8h0M74.1 287.1h0M122.3 315.1h0M90.8 330.8h0M78.6 334.8h0M79.1 290.2h0M99.6 328.2h0M81.4 344.4h0M84.6 300.9h0M93.0 341.9h0M65.4 324.4h0M100.0 331.6h0M80.8 334.6h0M82.4 325.6h0M100.3 340.1h0M107.4 344.0h0M68.9 341.4h0M92.9 328.3h0M102.5 333.0h0M82.4 305.4h0M68.2 342.3h0M104.0 339.8h0M68.8 327.1h0M66.8 335.8h0M49.3 315.2h0M74.9 342.7h0M74.3 331.8h0M90.0 339.9h0M76.8 306.1h0M66.5 335.2h0M76.9 320.5h0M94.3 333.6h0M89.0 326.8h0M89.7 312.1h0M117.5 291.6h0M74.0 317.8h0M82.8 344.1h0M128.9 283.3h0M69.7 331.6h0M67.5 337.8h0M112.7 302.6h0M72.0 340.7h0M74.1 334.3h0M81.5 305.9h0M96.7 339.5h0M67.1 331.8h0M117.4 275.2h0M91.1 344.2h0M127.7 309.8h0M99.5 316.7h0M100.1 344.5h0M50.3 326.6h0M53.4 313.8h0M111.4 339.9h0M93.9 296.3h0M103.1 326.3h0M103.4 340.8h0M92.7 285.3h0M72.2 324.5h0M90.6 344.4h0M103.2 316.2h0M103.6 344.5h0M81.3 325.9h0M71.8 327.9h0M101.9 337.7h0M104.9 283.7h0M100.9 343.9h0M99.0 342.2h0M89.9 344.9h0M71.3 317.9h0M49.1 321.4h0M78.4 333.1h0M63.7 325.3h0M107.4 328.3h0M89.2 321.6h0M93.6 332.9h0M62.8 301.9h0M92.3 344.7h0M90.5 338.0h0M83.2 344.9h0M83.0 330.1h0M67.5 283.1h0M55.3 317.5h0M89.8 321.2h0M78.7 321.6h0M50.5 337.0h0M57.0 325.3h0M97.7 332.6h0M66.8 344.7h0M72.7 323.9h0M90.3 292.7h0M62.0 336.6h0M79.3 315.9h0M43.3 344.5h0M63.4 276.9h0M95.1 336.9h0M108.0 335.2h0M78.7 336.4h0M89.0 337.4h0M82.9 341.9h0M75.0 340.5h0M91.2 332.5h0M97.5 343.6h0M101.6 344.6h0M91.1 322.6h0M89.2 301.4h0M105.4 317.7h0M75.9 332.7h0M97.3 335.5h0M89.3 342.7h0M72.9 332.0h0M78.0 332.4h0M81.8 341.0h0M105.8 344.8h0M115.7 337.4h0M102.5 328.1h0M121.8 302.0h0M90.6 338.1h0M75.1 320.6h0M96.2 342.7h0M93.9 295.6h0M110.3 333.4h0M82.6 326.5h0M79.1 313.2h0M63.0 319.5h0M65.8 335.5h0M98.6 327.5h0M110.7 333.5h0M97.3 331.3h0M91.9 316.3h0M99.0 334.8h0M90.0 339.9h0M121.0 339.8h0M98.1 338.2h0M81.3 335.1h0M78.8 338.7h0M110.1 328.0h0M84.5 332.7h0M69.8 331.5h0M81.0 330.3h0M109.5 321.4h0M89.1 341.0h0M98.0 328.0h0M78.9 337.7h0M107.5 290.6h0M54.3 274.0h0M75.8 338.4h0M72.8 328.4h0M77.0 313.8h0M74.3 315.9h0M128.9 342.4h0M124.1 283.1h0M112.3 313.7h0M74.3 337.4h0M48.2 325.5h0M81.4 323.8h0M80.3 320.7h0M63.0 336.9h0M79.9 337.0h0M84.5 338.9h0M95.1 344.9h0M84.5 328.7h0M53.1 329.1h0M69.4 344.0h0M67.9 323.0h0M109.5 287.8h0M115.1 339.5h0M92.6 320.1h0M66.8 330.3h0M69.9 334.0h0M70.9 339.6h0M95.4 330.7h0M98.3 322.9h0M77.8 343.4h0M78.6 334.2h0M89.1 324.8h0M60.0 335.0h0M65.9 320.4h0M91.6 340.8h0M109.4 343.5h0M99.7 343.6h0M125.6 338.8h0M69.6 337.9h0M113.3 288.3h0M97.6 340.5h0M63.5 342.6h0M98.6 324.1h0M117.0 344.8h0M99.4 317.4h0M116.1 328.5h0M82.5 281.7h0M83.2 339.1h0M83.1 341.2h0M78.9 341.6h0M91.1 332.6h0M105.5 315.8h0M72.5 273.5h0M103.9 286.5h0M83.9 319.6h0M51.9 335.6h0M98.0 315.1h0M83.6 320.6h0M111.5 326.4h0M92.2 342.8h0M51.8 344.8h0M84.7 342.6h0M57.6 288.5h0M80.0 335.3h0M54.0 304.3h0M108.1 339.8h0M101.3 339.7h0M75.2 310.0h0M110.7 308.7h0M82.3 333.0h0M116.0 312.0h0M126.1 272.6h0M105.0 319.7h0M128.5 319.8h0M66.6 343.9h0M109.3 337.5h0M82.2 337.7h0M99.1 316.6h0M91.3 325.9h0M67.2 336.8h0M102.1 338.1h0M51.0 284.6h0M92.5 333.8h0M115.2 289.1h0M100.0 332.0h0M75.5 341.0h0M83.9 337.9h0M79.4 335.1h0M76.8 339.8h0M93.7 342.8h0M75.4 339.4h0M67.9 303.3h0M76.8 308.8h0M94.6 330.0h0M90.1 337.9h0M66.6 330.6h0M98.9 314.8h0M96.1 335.0h0M61.6 329.3h0M72.0 319.9h0M60.4 303.0h0M108.6 324.2h0M91.8 344.3h0M103.3 318.8h0M68.8 318.6h0M89.4 337.4h0M89.6 343.4h0M68.3 339.2h0M83.6 315.4h0M46.1 326.3h0M68.2 337.5h0M109.4 304.3h0M94.9 300.7h0M101.3 330.7h0M78.1 327.7h0M96.3 293.3h0M116.9 332.3h0M92.2 314.9h0M46.0 287.2h0M84.0 286.2h0M117.4 310.1h0M81.2 338.8h0M91.2 333.3h0M90.9 340.0h0M79.5 316.7h0M129.8 340.8h0M99.8 341.0h0M90.7 276.5h0M83.4 329.8h0M57.9 344.9h0M83.8 325.4h0M57.2 327.3h0M96.7 343.7h0M93.2 317.6h0M96.9 344.5h0M91.9 344.3h0M78.7 329.0h0M93.5 339.2h0M124.5 318.6h0M81.2 340.7h0M83.8 338.4h0M92.9 339.0h0M107.1 331.3h0M103.3 304.7h0M113.4 306.8h0M80.7 333.6h0M76.4 326.3h0M83.8 284.3h0M68.0 338.5h0M106.5 337.9h0M93.0 335.0h0M121.8 321.5h0M105.6 333.3h0M107.8 343.5h0M50.9 343.0h0M81.3 337.2h0M120.3 318.7h0M80.4 344.0h0M70.4 316.1h0M69.9 342.5h0M125.6 337.8h0M89.4 287.1h0M108.9 339.0h0M79.3 343.2h0M77.2 323.7h0M100.2 342.4h0M83.2 297.0h0M96.5 344.7h0M71.3 314.0h0M90.2 330.8h0M94.8 344.1h0M75.2 321.2h0M62.0 336.6h0M66.4 324.5h0M115.6 278.8h0M74.4 325.4h0M78.6 344.5h0M107.6 343.8h0M74.6 317.7h0M83.1 315.8h0M75.3 340.1h0M83.9 339.3h0M84.1 339.3h0M90.8 310.3h0M72.6 326.9h0M105.5 344.7h0M89.6 339.0h0M84.4 333.6h0M68.3 290.1h0M74.1 318.1h0M93.2 333.1h0M90.4 330.3h0M97.2 280.8h0M71.8 343.7h0M101.1 340.1h0M66.9 306.8h0M54.9 318.2h0M68.2 320.8h0M96.8 332.5h0M94.2 341.5h0M96.9 326.8h0M69.7 335.4h0M91.9 333.4h0M74.1 333.7h0M81.6 316.7h0M83.2 343.2h0M66.5 343.7h0M91.1 316.9h0M78.1 330.7h0M94.9 315.3h0M91.8 330.4h0M80.7 343.8h0M74.6 335.4h0M69.6 337.1h0M91.2 339.6h0M94.3 341.6h0M82.9 340.2h0M114.2 333.2h0M83.2 319.9h0M118.4 322.2h0M94.8 330.3h0M99.3 284.8h0M99.1 342.7h0M78.9 327.2h0M76.1 336.8h0M94.5 343.8h0M63.8 332.0h0M93.3 330.3h0M76.2 326.9h0M89.5 318.1h0M83.5 283.4h0M70.5 330.4h0M96.5 342.4h0M79.7 333.5h0M99.0 342.3h0M78.2 342.3h0M67.4 283.9h0M84.7 334.5h0M84.5 341.2h0M66.8 286.0h0M92.0 316.4h0M98.5 339.9h0M112.6 305.2h0M78.8 342.1h0M92.3 341.1h0M65.7 337.8h0M72.7 344.6h0M96.8 278.7h0M78.5 336.1h0M68.7 297.3h0M98.7 328.7h0M73.8 328.1h0M105.5 342.5h0M69.1 338.0h0M73.5 336.9h0M101.6 343.3h0M93.7 323.4h0M75.3 322.9h0M78.1 344.1h0M82.8 342.2h0M90.9 339.6h0M115.7 305.8h0M75.5 320.0h0M115.3 337.1h0M54.8 335.8h0M96.5 340.0h0M90.0 316.2h0M97.0 275.0h0M101.9 314.3h0M65.3 344.3h0M91.9 310.1h0M53.1 281.7h0M77.0 313.6h0M89.2 341.9h0M92.8 332.7h0M56.5 302.9h0M44.3 344.7h0M67.8 297.6h0M55.8 293.2h0M80.7 320.3h0M106.0 342.8h0M103.9 293.4h0M99.8 319.1h0M124.5 330.1h0M82.5 343.2h0M71.0 335.6h0M69.8 341.8h0M79.6 309.9h0M94.9 340.4h0M63.1 344.3h0M83.2 342.2h0M99.0 309.8h0M56.2 344.9h0M82.2 326.1h0M109.3 325.3h0M61.1 331.1h0M78.2 342.9h0M103.2 301.0h0M75.4 339.0h0M90.1 341.1h0M81.0 317.8h0M102.9 333.1h0M71.6 343.3h0M104.1 317.7h0M110.2 339.4h0M97.0 337.8h0M83.5 319.7h0M54.7 293.4h0M110.9 330.0h0M101.4 331.7h0M77.4 341.9h0M96.4 329.5h0M82.5 343.1h0M80.7 335.0h0M119.3 300.5h0M72.6 325.0h0M56.4 274.5h0M83.3 295.3h0M90.7 325.7h0M79.9 296.5h0M74.3 333.0h0M79.6 341.3h0M82.4 344.7h0M91.4 343.8h0M124.7 344.8h0M72.3 332.1h0M65.6 282.2h0M62.9 330.8h0M55.6 326.6h0M104.1 342.7h0M103.5 343.9h0M93.8 305.4h0M72.2 329.9h0M73.9 279.4h0M73.6 321.4h0M89.8 292.9h0M81.7 339.4h0M108.2 343.3h0M69.0 309.7h0M115.8 302.2h0M107.9 319.9h0M104.7 341.4h0M74.1 324.3h0M80.5 341.9h0M79.3 335.6h0M125.5 291.9h0M105.3 329.2h0M56.5 342.1h0M94.1 303.9h0M91.8 340.7h0M69.3 323.2h0M72.2 324.0h0M90.9 316.1h0M120.9 319.7h0M64.2 344.9h0M97.3 323.9h0M79.9 311.9h0M117.2 301.1h0M92.7 323.9h0M118.7 325.9h0M83.0 340.0h0M109.2 329.8h0M107.6 314.9h0M82.8 334.7h0M79.3 333.5h0M83.8 335.5h0M97.4 301.7h0M84.0 344.2h0M107.5 319.7h0M84.1 330.4h0M93.8 330.6h0M99.7 336.5h0M80.8 332.6h0M78.3 320.7h0M80.4 314.1h0M81.0 278.4h0M43.1 333.4h0M81.9 341.2h0M102.8 341.4h0M114.9 282.3h0M94.6 343.0h0M90.5 318.2h0M83.7 338.7h0M90.5 335.1h0M70.6 336.8h0M61.9 317.0h0M76.7 306.6h0M72.6 333.3h0M94.6 328.6h0M66.0 334.9h0M98.1 330.5h0M79.1 339.2h0M81.6 332.4h0M54.8 323.4h0M109.3 341.0h0M48.4 344.8h0M71.6 299.5h0M96.4 289.1h0M111.1 322.5h0M60.9 328.0h0M60.0 316.7h0M72.7 282.7h0M93.2 339.1h0M80.9 333.9h0M109.6 328.1h0M95.4 341.0h0M98.0 328.4h0M79.7 338.1h0M73.3 340.1h0M81.8 309.5h0M63.2 281.7h0M99.7 325.1h0M129.9 312.6h0M90.2 328.9h0M99.9 313.1h0M121.0 273.3h0M105.7 343.0h0M83.8 325.0h0M104.6 322.1h0M102.3 337.5h0M77.8 340.9h0M89.0 342.3h0M90.8 340.5h0M80.8 326.7h0M82.5 341.5h0M48.3 342.0h0M113.0 314.4h0M50.5 343.4h0M46.7 321.2h0M53.9 313.8h0M76.9 327.5h0M106.1 343.0h0M108.4 337.4h0M99.2 335.1h0M106.9 305.2h0M90.6 344.9h0M70.0 338.9h0M59.1 304.5h0M94.7 344.6h0M76.3 329.7h0M107.0 342.1h0M94.3 343.8h0M124.3 323.2h0M109.7 331.3h0M104.7 301.6h0M83.0 338.5h0M79.9 329.5h0M67.6 335.7h0M82.0 340.8h0M94.5 335.7h0M91.5 342.6h0M75.6 305.3h0M121.9 299.8h0M106.8 310.9h0M105.5 338.9h0M53.6 340.2h0M70.8 337.3h0M129.5 324.3h0M78.8 330.2h0M74.8 329.6h0M96.0 281.3h0M91.4 313.6h0M109.6 329.5h0M98.0 316.1h0M58.4 271.3h0M113.0 344.8h0M123.1 336.1h0M107.7 285.3h0M76.2 326.2h0M99.0 329.6h0M93.7 292.5h0M97.6 323.3h0M59.2 296.8h0M124.4 280.7h0M56.1 341.8h0M77.6 333.0h0M99.2 344.3h0M83.0 329.2h0M77.1 342.6h0M74.9 298.9h0M67.1 341.9h0M91.0 325.5h0M126.5 344.8h0M92.4 338.1h0M100.6 344.8h0M99.6 338.3h0M79.2 340.4h0M103.4 319.9h0M84.4 339.4h0M71.7 335.7h0M73.8 339.0h0M81.0 313.2h0M80.0 322.3h0M72.2 321.1h0M80.9 336.0h0M62.8 292.3h0M72.4 336.5h0M96.4 336.6h0M74.3 341.3h0M75.3 336.9h0M105.3 337.6h0M100.2 281.4h0M98.6 326.4h0M110.0 274.2h0M109.0 308.1h0M104.0 342.0h0M94.6 335.8h0M89.5 341.1h0M120.0 299.3h0M97.5 341.5h0M94.8 295.7h0M66.2 282.5h0M122.9 318.2h0M68.0 320.0h0M107.8 337.9h0M83.1 287.0h0M80.8 334.4h0M61.8 343.5h0M101.6 343.6h0M98.5 332.9h0M66.0 341.3h0M109.5 290.4h0M94.2 343.1h0M69.7 326.2h0M90.7 318.7h0M101.0 296.3h0M107.4 326.5h0M105.4 318.9h0M69.5 321.0h0M83.6 331.5h0M78.0 340.8h0M82.6 343.9h0M101.8 293.8h0M73.2 325.5h0M77.2 292.7h0M71.5 325.1h0M94.0 339.4h0M68.7 290.7h0M103.5 343.7h0M66.7 333.6h0M107.2 276.0h0M72.7 337.1h0M75.0 309.9h0M113.9 330.5h0M100.5 336.4h0M120.6 300.3h0M110.5 340.5h0M71.6 325.4h0M70.3 335.8h0M82.3 305.8h0M58.2 323.4h0M111.7 303.7h0M75.3 342.7h0M72.9 308.9h0M74.9 342.6h0M101.4 330.2h0M66.8 343.8h0M111.2 295.9h0M54.2 285.7h0M126.5 344.6h0M90.6 344.6h0M67.5 282.4h0M81.9 342.7h0M54.6 287.0h0M126.7 298.7h0M102.0 331.9h0M92.3 338.3h0M69.2 340.2h0M80.3 339.3h0M76.9 327.0h0M73.9 311.8h0M105.7 343.5h0M78.6 288.2h0M81.9 328.5h0M95.0 340.6h0M98.8 318.3h0M93.8 342.8h0M84.7 327.4h0M94.9 335.6h0M78.7 322.9h0M102.2 344.8h0M71.1 329.5h0M81.8 339.2h0M91.2 317.5h0M76.3 288.5h0M79.8 331.4h0M76.3 302.7h0M89.7 344.6h0M101.7 323.6h0M79.2 339.2h0M68.3 311.0h0M114.3 340.3h0M77.6 334.0h0M79.7 337.7h0M108.5 336.1h0M119.0 293.5h0M102.8 341.9h0M96.2 338.5h0M51.3 344.4h0M92.6 281.3h0M97.0 337.2h0M68.9 340.1h0M83.8 339.0h0M90.1 324.1h0M45.6 278.8h0M103.0 339.1h0M75.1 341.2h0M83.9 275.7h0M93.9 328.9h0M52.4 279.0h0M67.2 334.5h0M89.1 309.4h0M90.8 337.2h0M65.2 342.8h0M83.1 328.4h0M100.6 337.6h0M74.9 340.0h0M62.5 335.9h0M91.3 315.5h0M70.8 323.4h0M123.9 331.7h0M74.5 331.4h0M90.5 333.4h0M75.5 271.1h0M56.8 271.5h0M114.7 271.4h0M62.7 271.4h0M77.7 271.1h0M66.4 271.4h0M114.5 271.3h0M101.0 271.2h0M121.0 271.1h0M70.7 271.3h0M89.8 271.1h0M82.1 271.3h0M67.8 271.2h0M54.6 271.2h0M45.2 271.1h0M102.6 271.4h0M110.8 271.4h0M56.9 271.4h0M47.8 271.1h0M76.7 271.6h0M59.7 271.3h0M120.1 271.2h0M54.2 271.2h0M125.3 271.5h0M56.4 271.3h0M112.5 271.6h0M66.6 271.0h0M127.6 271.4h0M77.0 271.2h0M110.7 271.2h0M92.1 271.1h0M82.3 271.0h0M66.6 271.3h0M116.9 271.4h0M52.5 271.1h0M107.7 271.0h0M105.2 271.4h0M66.9 271.5h0M60.1 271.6h0M94.2 271.4h0M89.3 271.3h0M79.2 271.5h0M68.3 271.5h0M62.3 271.0h0M65.2 271.4h0M104.5 271.6h0M74.9 271.5h0M49.8 271.2h0M59.8 271.2h0M81.9 271.4h0M93.5 271.4h0M106.8 271.1h0M48.3 271.3h0M67.0 271.1h0M122.8 271.3h0M57.6 271.5h0M53.1 271.3h0M77.3 271.4h0M105.2 271.3h0M113.7 271.3h0M105.7 271.5h0M62.5 271.1h0M111.5 271.0h0M76.1 271.6h0M55.8 271.1h0M67.1 271.4h0M122.9 271.4h0M60.0 271.3h0M56.7 271.1h0M107.9 271.2h0M63.5 271.0h0M74.3 271.2h0M119.5 271.1h0M103.5 271.2h0M83.3 271.2h0M104.5 271.5h0M46.2 271.6h0M91.6 271.6h0M118.2 271.2h0M97.8 271.1h0M123.5 271.1h0M81.1 271.3h0M58.9 271.4h0M106.3 271.4h0M55.1 271.4h0M93.1 271.2h0M116.3 271.0h0M78.7 271.1h0M81.1 271.6h0M97.4 271.1h0M60.4 271.4h0M100.8 271.2h0M53.0 271.5h0M111.8 271.4h0M48.4 271.4h0M49.3 271.2h0M102.5 271.4h0M78.3 271.4h0M64.0 271.2h0M120.7 271.3h0M121.6 271.1h0M46.9 271.1h0M66.8 271.2h0M46.3 271.3h0M50.6 271.6h0M117.9 271.5h0M92.4 271.3h0M81.0 271.1h0M106.0 271.5h0M52.2 271.1h0" stroke="#a9d5f2" stroke-width="1.2" stroke-linecap="square" fill="none"/>
<line x1="38.40" y1="268.30" x2="38.40" y2="358.90" stroke="#000" stroke-width="0.8" />
<line x1="38.40" y1="358.90" x2="134.30" y2="358.90" stroke="#000" stroke-width="0.8" />
<line x1="36.00" y1="355.90" x2="38.40" y2="355.90" stroke="#000" stroke-width="0.8" />
<text x="31.90" y="355.90" font-family="Liberation Sans" font-size="9.5" text-anchor="middle" dominant-baseline="central" fill="#000" transform="rotate(-90 31.90 355.90)" >0</text>
<line x1="36.00" y1="338.98" x2="38.40" y2="338.98" stroke="#000" stroke-width="0.8" />
<text x="31.90" y="338.98" font-family="Liberation Sans" font-size="9.5" text-anchor="middle" dominant-baseline="central" fill="#000" transform="rotate(-90 31.90 338.98)" >2</text>
<line x1="36.00" y1="322.06" x2="38.40" y2="322.06" stroke="#000" stroke-width="0.8" />
<text x="31.90" y="322.06" font-family="Liberation Sans" font-size="9.5" text-anchor="middle" dominant-baseline="central" fill="#000" transform="rotate(-90 31.90 322.06)" >4</text>
<line x1="36.00" y1="305.14" x2="38.40" y2="305.14" stroke="#000" stroke-width="0.8" />
<text x="31.90" y="305.14" font-family="Liberation Sans" font-size="9.5" text-anchor="middle" dominant-baseline="central" fill="#000" transform="rotate(-90 31.90 305.14)" >6</text>
<line x1="36.00" y1="288.22" x2="38.40" y2="288.22" stroke="#000" stroke-width="0.8" />
<text x="31.90" y="288.22" font-family="Liberation Sans" font-size="9.5" text-anchor="middle" dominant-baseline="central" fill="#000" transform="rotate(-90 31.90 288.22)" >8</text>
<line x1="36.00" y1="271.30" x2="38.40" y2="271.30" stroke="#000" stroke-width="0.8" />
<text x="31.90" y="271.30" font-family="Liberation Sans" font-size="9.5" text-anchor="middle" dominant-baseline="central" fill="#000" transform="rotate(-90 31.90 271.30)" >10</text>
<line x1="43.00" y1="358.90" x2="43.00" y2="361.30" stroke="#000" stroke-width="0.8" />
<text x="43.00" y="365.70" font-family="Liberation Sans" font-size="9.5" text-anchor="middle" dominant-baseline="central" fill="#000" >&#8722;1.0</text>
<line x1="64.95" y1="358.90" x2="64.95" y2="361.30" stroke="#000" stroke-width="0.8" />
<text x="64.95" y="365.70" font-family="Liberation Sans" font-size="9.5" text-anchor="middle" dominant-baseline="central" fill="#000" >&#8722;0.5</text>
<line x1="86.90" y1="358.90" x2="86.90" y2="361.30" stroke="#000" stroke-width="0.8" />
<text x="86.90" y="365.70" font-family="Liberation Sans" font-size="9.5" text-anchor="middle" dominant-baseline="central" fill="#000" >0.0</text>
<line x1="108.85" y1="358.90" x2="108.85" y2="361.30" stroke="#000" stroke-width="0.8" />
<text x="108.85" y="365.70" font-family="Liberation Sans" font-size="9.5" text-anchor="middle" dominant-baseline="central" fill="#000" >0.5</text>
<line x1="130.80" y1="358.90" x2="130.80" y2="361.30" stroke="#000" stroke-width="0.8" />
<text x="130.80" y="365.70" font-family="Liberation Sans" font-size="9.5" text-anchor="middle" dominant-baseline="central" fill="#000" >1.0</text>
<text x="89.50" y="376.50" font-family="Liberation Sans" font-size="13" text-anchor="middle" dominant-baseline="central" fill="#000" >L5&#8722;6 (<tspan font-family="Liberation Serif">&#916;&#936;</tspan>)</text>
<text x="19.90" y="313.60" font-family="Liberation Sans" font-size="13.5" text-anchor="middle" dominant-baseline="central" fill="#000" transform="rotate(-90 19.90 313.60)" >&#8722;Log10(FDR)</text>
<text x="9.90" y="19.60" font-family="Liberation Sans" font-size="25.2" text-anchor="start" dominant-baseline="alphabetic" fill="#000" >a</text>
<text x="8.20" y="142.30" font-family="Liberation Sans" font-size="27.8" text-anchor="start" dominant-baseline="alphabetic" fill="#000" >b</text>
<text x="12.30" y="266.40" font-family="Liberation Sans" font-size="26" text-anchor="start" dominant-baseline="alphabetic" fill="#000" >c</text>
<rect x="194.80" y="52.43" width="25.30" height="58.57" fill="#2b2c7c" stroke="#111" stroke-width="0.7" />
<rect x="225.40" y="41.74" width="25.60" height="69.26" fill="#4a80c2" stroke="#8a5a6a" stroke-width="0.6" />
<rect x="256.50" y="56.71" width="25.30" height="54.29" fill="#acd8f3" stroke="#b08080" stroke-width="0.6" />
<line x1="188.40" y1="111.00" x2="188.40" y2="25.50" stroke="#000" stroke-width="0.8" />
<line x1="186.00" y1="111.00" x2="188.40" y2="111.00" stroke="#000" stroke-width="0.8" />
<text x="182.00" y="111.00" font-family="Liberation Sans" font-size="9.5" text-anchor="middle" dominant-baseline="central" fill="#000" transform="rotate(-90 182.00 111.00)" >0</text>
<line x1="186.00" y1="89.62" x2="188.40" y2="89.62" stroke="#000" stroke-width="0.8" />
<text x="182.00" y="89.62" font-family="Liberation Sans" font-size="9.5" text-anchor="middle" dominant-baseline="central" fill="#000" transform="rotate(-90 182.00 89.62)" >5</text>
<line x1="186.00" y1="68.25" x2="188.40" y2="68.25" stroke="#000" stroke-width="0.8" />
<text x="182.00" y="68.25" font-family="Liberation Sans" font-size="9.5" text-anchor="middle" dominant-baseline="central" fill="#000" transform="rotate(-90 182.00 68.25)" >10</text>
<line x1="186.00" y1="46.88" x2="188.40" y2="46.88" stroke="#000" stroke-width="0.8" />
<text x="182.00" y="46.88" font-family="Liberation Sans" font-size="9.5" text-anchor="middle" dominant-baseline="central" fill="#000" transform="rotate(-90 182.00 46.88)" >15</text>
<line x1="186.00" y1="25.50" x2="188.40" y2="25.50" stroke="#000" stroke-width="0.8" />
<text x="182.00" y="25.50" font-family="Liberation Sans" font-size="9.5" text-anchor="middle" dominant-baseline="central" fill="#000" transform="rotate(-90 182.00 25.50)" >20</text>
<line x1="207.40" y1="114.00" x2="269.20" y2="114.00" stroke="#000" stroke-width="0.8" />
<line x1="207.40" y1="114.00" x2="207.40" y2="116.40" stroke="#000" stroke-width="0.8" />
<text x="207.40" y="122.20" font-family="Liberation Sans" font-size="11.7" text-anchor="middle" dominant-baseline="central" fill="#000" >L1&#8722;3</text>
<line x1="238.30" y1="114.00" x2="238.30" y2="116.40" stroke="#000" stroke-width="0.8" />
<text x="238.30" y="122.20" font-family="Liberation Sans" font-size="11.7" text-anchor="middle" dominant-baseline="central" fill="#000" >L4</text>
<line x1="269.20" y1="114.00" x2="269.20" y2="116.40" stroke="#000" stroke-width="0.8" />
<text x="269.20" y="122.20" font-family="Liberation Sans" font-size="11.7" text-anchor="middle" dominant-baseline="central" fill="#000" >L5&#8722;6</text>
<text x="170.00" y="71.50" font-family="Liberation Sans" font-size="12.3" text-anchor="middle" dominant-baseline="central" fill="#000" transform="rotate(-90 170.00 71.50)" >% Significant Exons</text>
<text x="151.70" y="19.20" font-family="Liberation Sans" font-size="25" text-anchor="start" dominant-baseline="alphabetic" fill="#000" >d</text>
<line x1="190.90" y1="144.50" x2="190.90" y2="227.00" stroke="#8c8c8c" stroke-width="0.9" stroke-dasharray="1.3 3.4"/>
<line x1="195.74" y1="144.50" x2="195.74" y2="227.00" stroke="#8c8c8c" stroke-width="0.9" stroke-dasharray="1.3 3.4"/>
<line x1="200.57" y1="144.50" x2="200.57" y2="227.00" stroke="#8c8c8c" stroke-width="0.9" stroke-dasharray="1.3 3.4"/>
<line x1="205.41" y1="144.50" x2="205.41" y2="227.00" stroke="#8c8c8c" stroke-width="0.9" stroke-dasharray="1.3 3.4"/>
<line x1="210.24" y1="144.50" x2="210.24" y2="227.00" stroke="#8c8c8c" stroke-width="0.9" stroke-dasharray="1.3 3.4"/>
<line x1="215.07" y1="144.50" x2="215.07" y2="227.00" stroke="#8c8c8c" stroke-width="0.9" stroke-dasharray="1.3 3.4"/>
<line x1="219.91" y1="144.50" x2="219.91" y2="227.00" stroke="#8c8c8c" stroke-width="0.9" stroke-dasharray="1.3 3.4"/>
<line x1="224.75" y1="144.50" x2="224.75" y2="227.00" stroke="#8c8c8c" stroke-width="0.9" stroke-dasharray="1.3 3.4"/>
<line x1="229.58" y1="144.50" x2="229.58" y2="227.00" stroke="#8c8c8c" stroke-width="0.9" stroke-dasharray="1.3 3.4"/>
<line x1="234.41" y1="144.50" x2="234.41" y2="227.00" stroke="#8c8c8c" stroke-width="0.9" stroke-dasharray="1.3 3.4"/>
<line x1="239.25" y1="144.50" x2="239.25" y2="227.00" stroke="#8c8c8c" stroke-width="0.9" stroke-dasharray="1.3 3.4"/>
<line x1="244.09" y1="144.50" x2="244.09" y2="227.00" stroke="#8c8c8c" stroke-width="0.9" stroke-dasharray="1.3 3.4"/>
<line x1="248.92" y1="144.50" x2="248.92" y2="227.00" stroke="#8c8c8c" stroke-width="0.9" stroke-dasharray="1.3 3.4"/>
<line x1="253.75" y1="144.50" x2="253.75" y2="227.00" stroke="#8c8c8c" stroke-width="0.9" stroke-dasharray="1.3 3.4"/>
<line x1="258.59" y1="144.50" x2="258.59" y2="227.00" stroke="#8c8c8c" stroke-width="0.9" stroke-dasharray="1.3 3.4"/>
<line x1="263.43" y1="144.50" x2="263.43" y2="227.00" stroke="#8c8c8c" stroke-width="0.9" stroke-dasharray="1.3 3.4"/>
<line x1="268.26" y1="144.50" x2="268.26" y2="227.00" stroke="#8c8c8c" stroke-width="0.9" stroke-dasharray="1.3 3.4"/>
<line x1="273.10" y1="144.50" x2="273.10" y2="227.00" stroke="#8c8c8c" stroke-width="0.9" stroke-dasharray="1.3 3.4"/>
<line x1="277.93" y1="144.50" x2="277.93" y2="227.00" stroke="#8c8c8c" stroke-width="0.9" stroke-dasharray="1.3 3.4"/>
<line x1="282.76" y1="144.50" x2="282.76" y2="227.00" stroke="#8c8c8c" stroke-width="0.9" stroke-dasharray="1.3 3.4"/>
<line x1="287.60" y1="144.50" x2="287.60" y2="227.00" stroke="#8c8c8c" stroke-width="0.9" stroke-dasharray="1.3 3.4"/>
<path d="M188.00 224.96C190.17 223.04 197.35 217.15 201.05 213.42C204.76 209.69 207.34 206.86 210.24 202.56C213.14 198.26 216.04 193.96 218.46 187.62C220.88 181.28 223.05 170.13 224.75 164.53C226.44 158.93 227.32 154.69 228.61 154.01C229.90 153.33 231.27 156.21 232.48 160.46C233.69 164.70 234.74 174.04 235.87 179.47C236.99 184.90 238.20 191.13 239.25 193.05C240.30 194.97 241.10 192.14 242.15 191.01C243.20 189.88 244.41 187.67 245.54 186.26C246.66 184.85 247.55 182.53 248.92 182.53C250.29 182.53 252.14 184.73 253.75 186.26C255.37 187.79 256.98 189.99 258.59 191.69C260.20 193.39 261.81 194.86 263.43 196.44C265.04 198.03 266.25 199.27 268.26 201.20C270.27 203.12 273.26 205.72 275.51 207.99C277.77 210.25 279.78 212.74 281.80 214.78C283.81 216.81 285.42 218.29 287.60 220.21C289.78 222.13 293.64 225.30 294.85 226.32" stroke="#a7d4f2" stroke-width="1.2" fill="none" />
<path d="M188.00 225.64C190.17 223.83 197.35 218.06 201.05 214.78C204.76 211.50 207.34 209.23 210.24 205.95C213.14 202.67 215.88 200.18 218.46 195.09C221.04 189.99 223.86 180.43 225.71 175.40C227.57 170.36 228.45 165.89 229.58 164.87C230.71 163.85 231.43 165.95 232.48 169.28C233.53 172.62 234.74 181.28 235.87 184.90C236.99 188.52 238.20 190.79 239.25 191.01C240.30 191.24 241.10 189.99 242.15 186.26C243.20 182.53 244.33 173.13 245.54 168.61C246.74 164.08 248.03 159.55 249.40 159.10C250.77 158.65 252.30 162.49 253.75 165.89C255.21 169.28 256.49 174.60 258.11 179.47C259.72 184.34 261.73 191.24 263.43 195.09C265.12 198.93 266.41 200.52 268.26 202.56C270.11 204.59 272.29 205.16 274.55 207.31C276.80 209.46 279.46 212.74 281.80 215.46C284.13 218.17 286.39 221.68 288.57 223.60C290.74 225.53 293.80 226.43 294.85 227.00" stroke="#3f7fc8" stroke-width="1.4" fill="none" />
<path d="M188.00 226.12C190.17 224.34 197.35 218.70 201.05 215.46C204.76 212.21 207.34 209.80 210.24 206.63C213.14 203.46 215.88 201.08 218.46 196.44C221.04 191.81 223.86 183.49 225.71 178.79C227.57 174.09 228.45 169.40 229.58 168.27C230.71 167.13 231.43 169.34 232.48 172.00C233.53 174.66 234.74 181.62 235.87 184.22C236.99 186.83 238.20 187.39 239.25 187.62C240.30 187.84 241.10 188.18 242.15 185.58C243.20 182.98 244.25 175.34 245.54 172.00C246.82 168.66 248.52 166.00 249.89 165.55C251.26 165.10 252.39 166.85 253.75 169.28C255.12 171.72 256.49 175.74 258.11 180.15C259.72 184.56 261.73 192.26 263.43 195.77C265.12 199.27 266.41 199.61 268.26 201.20C270.11 202.78 272.29 203.07 274.55 205.27C276.80 207.48 279.46 211.38 281.80 214.44C284.13 217.49 286.39 221.51 288.57 223.60C290.74 225.70 293.80 226.43 294.85 227.00" stroke="#283487" stroke-width="1.4" fill="none" />
<line x1="187.40" y1="142.90" x2="187.40" y2="229.80" stroke="#000" stroke-width="0.8" />
<line x1="187.40" y1="229.80" x2="295.30" y2="229.80" stroke="#000" stroke-width="0.8" />
<line x1="185.00" y1="227.00" x2="187.40" y2="227.00" stroke="#000" stroke-width="0.8" />
<text x="181.00" y="227.00" font-family="Liberation Sans" font-size="9.5" text-anchor="middle" dominant-baseline="central" fill="#000" transform="rotate(-90 181.00 227.00)" >0.0</text>
<line x1="185.00" y1="199.84" x2="187.40" y2="199.84" stroke="#000" stroke-width="0.8" />
<text x="181.00" y="199.84" font-family="Liberation Sans" font-size="9.5" text-anchor="middle" dominant-baseline="central" fill="#000" transform="rotate(-90 181.00 199.84)" >0.4</text>
<line x1="185.00" y1="172.68" x2="187.40" y2="172.68" stroke="#000" stroke-width="0.8" />
<text x="181.00" y="172.68" font-family="Liberation Sans" font-size="9.5" text-anchor="middle" dominant-baseline="central" fill="#000" transform="rotate(-90 181.00 172.68)" >0.8</text>
<line x1="185.00" y1="145.52" x2="187.40" y2="145.52" stroke="#000" stroke-width="0.8" />
<text x="181.00" y="145.52" font-family="Liberation Sans" font-size="9.5" text-anchor="middle" dominant-baseline="central" fill="#000" transform="rotate(-90 181.00 145.52)" >1.2</text>
<line x1="190.90" y1="229.80" x2="190.90" y2="232.20" stroke="#000" stroke-width="0.8" />
<text x="190.90" y="236.30" font-family="Liberation Sans" font-size="9.5" text-anchor="middle" dominant-baseline="central" fill="#000" >&#8722;1.0</text>
<line x1="215.07" y1="229.80" x2="215.07" y2="232.20" stroke="#000" stroke-width="0.8" />
<text x="215.07" y="236.30" font-family="Liberation Sans" font-size="9.5" text-anchor="middle" dominant-baseline="central" fill="#000" >&#8722;0.5</text>
<line x1="239.25" y1="229.80" x2="239.25" y2="232.20" stroke="#000" stroke-width="0.8" />
<text x="239.25" y="236.30" font-family="Liberation Sans" font-size="9.5" text-anchor="middle" dominant-baseline="central" fill="#000" >0.0</text>
<line x1="263.43" y1="229.80" x2="263.43" y2="232.20" stroke="#000" stroke-width="0.8" />
<text x="263.43" y="236.30" font-family="Liberation Sans" font-size="9.5" text-anchor="middle" dominant-baseline="central" fill="#000" >0.5</text>
<line x1="287.60" y1="229.80" x2="287.60" y2="232.20" stroke="#000" stroke-width="0.8" />
<text x="287.60" y="236.30" font-family="Liberation Sans" font-size="9.5" text-anchor="middle" dominant-baseline="central" fill="#000" >1.0</text>
<rect x="267.60" y="158.10" width="23.60" height="22.10" fill="#fff" stroke="#444" stroke-width="0.8" />
<text x="271.30" y="162.40" font-family="Liberation Sans" font-size="8.2" text-anchor="start" dominant-baseline="central" fill="#283487" font-weight="bold">L1&#8722;3</text>
<line x1="269.00" y1="162.40" x2="270.60" y2="162.40" stroke="#283487" stroke-width="1" />
<text x="271.30" y="169.70" font-family="Liberation Sans" font-size="8.2" text-anchor="start" dominant-baseline="central" fill="#3f7fc8" font-weight="bold">L4</text>
<line x1="269.00" y1="169.70" x2="270.60" y2="169.70" stroke="#3f7fc8" stroke-width="1" />
<text x="271.30" y="176.40" font-family="Liberation Sans" font-size="8.2" text-anchor="start" dominant-baseline="central" fill="#a7d4f2" font-weight="bold">L5&#8722;6</text>
<line x1="269.00" y1="176.40" x2="270.60" y2="176.40" stroke="#a7d4f2" stroke-width="1" />
<text x="168.40" y="187.20" font-family="Liberation Sans" font-size="14.4" text-anchor="middle" dominant-baseline="central" fill="#000" transform="rotate(-90 168.40 187.20)" >Density</text>
<text x="200.10" y="243.20" font-family="Liberation Sans" font-size="10.5" text-anchor="middle" dominant-baseline="central" fill="#000"  textLength="24.5" lengthAdjust="spacingAndGlyphs">Child</text>
<line x1="212.00" y1="242.90" x2="265.00" y2="242.90" stroke="#000" stroke-width="1.0" />
<path d="M261.3 239.6L270.6 242.9L261.3 246.8L264 242.9Z" stroke="none" stroke-width="0" fill="#222" />
<text x="283.80" y="243.20" font-family="Liberation Sans" font-size="10.5" text-anchor="middle" dominant-baseline="central" fill="#000"  textLength="25.4" lengthAdjust="spacingAndGlyphs">Adult</text>
<text x="241.70" y="252.40" font-family="Liberation Sans" font-size="16.5" text-anchor="middle" dominant-baseline="central" fill="#000" ><tspan font-family="Liberation Serif">&#916;&#936;</tspan></text>
<text x="153.50" y="142.80" font-family="Liberation Sans" font-size="24" text-anchor="start" dominant-baseline="alphabetic" fill="#000" >e</text>
<line x1="210.00" y1="323.94" x2="210.00" y2="286.38" stroke="#000" stroke-width="1.05" stroke-dasharray="3 2.4"/>
<line x1="203.00" y1="286.38" x2="217.00" y2="286.38" stroke="#000" stroke-width="1.1" />
<rect x="195.40" y="323.94" width="29.20" height="37.56" fill="#2b2c7c" stroke="#111" stroke-width="0.6" />
<line x1="195.40" y1="361.50" x2="224.60" y2="361.50" stroke="#000" stroke-width="1.8" />
<line x1="245.95" y1="323.94" x2="245.95" y2="286.38" stroke="#000" stroke-width="1.05" stroke-dasharray="3 2.4"/>
<line x1="238.95" y1="286.38" x2="252.95" y2="286.38" stroke="#000" stroke-width="1.1" />
<rect x="231.10" y="323.94" width="29.70" height="37.56" fill="#4a80c2" stroke="#7a5060" stroke-width="0.6" />
<line x1="231.10" y1="342.72" x2="260.80" y2="342.72" stroke="#000" stroke-width="1.8" />
<line x1="281.90" y1="323.94" x2="281.90" y2="286.38" stroke="#000" stroke-width="1.05" stroke-dasharray="3 2.4"/>
<line x1="274.90" y1="286.38" x2="288.90" y2="286.38" stroke="#000" stroke-width="1.1" />
<rect x="267.30" y="323.94" width="29.20" height="37.56" fill="#acd8f3" stroke="#7a5060" stroke-width="0.6" />
<line x1="267.30" y1="361.50" x2="296.50" y2="361.50" stroke="#000" stroke-width="1.8" />
<line x1="210.00" y1="274.60" x2="281.90" y2="274.60" stroke="#333" stroke-width="0.7" />
<line x1="210.00" y1="274.60" x2="210.00" y2="276.50" stroke="#333" stroke-width="0.7" />
<line x1="245.95" y1="274.60" x2="245.95" y2="276.50" stroke="#333" stroke-width="0.7" />
<line x1="281.90" y1="274.60" x2="281.90" y2="276.50" stroke="#333" stroke-width="0.7" />
<text x="228.00" y="273.60" font-family="Liberation Sans" font-size="12.5" text-anchor="middle" dominant-baseline="central" fill="#000" >**</text>
<text x="264.20" y="273.60" font-family="Liberation Sans" font-size="12.5" text-anchor="middle" dominant-baseline="central" fill="#000" >**</text>
<line x1="188.30" y1="361.50" x2="188.30" y2="267.60" stroke="#666" stroke-width="0.8" />
<line x1="186.30" y1="361.50" x2="188.30" y2="361.50" stroke="#666" stroke-width="0.8" />
<text x="180.60" y="361.50" font-family="Liberation Sans" font-size="10.5" text-anchor="middle" dominant-baseline="central" fill="#000" transform="rotate(-90 180.60 361.50)" >0.0</text>
<line x1="186.30" y1="342.72" x2="188.30" y2="342.72" stroke="#666" stroke-width="0.8" />
<text x="180.60" y="342.72" font-family="Liberation Sans" font-size="10.5" text-anchor="middle" dominant-baseline="central" fill="#000" transform="rotate(-90 180.60 342.72)" >0.5</text>
<line x1="186.30" y1="323.94" x2="188.30" y2="323.94" stroke="#666" stroke-width="0.8" />
<text x="180.60" y="323.94" font-family="Liberation Sans" font-size="10.5" text-anchor="middle" dominant-baseline="central" fill="#000" transform="rotate(-90 180.60 323.94)" >1.0</text>
<line x1="186.30" y1="305.16" x2="188.30" y2="305.16" stroke="#666" stroke-width="0.8" />
<text x="180.60" y="305.16" font-family="Liberation Sans" font-size="10.5" text-anchor="middle" dominant-baseline="central" fill="#000" transform="rotate(-90 180.60 305.16)" >1.5</text>
<line x1="186.30" y1="286.38" x2="188.30" y2="286.38" stroke="#666" stroke-width="0.8" />
<text x="180.60" y="286.38" font-family="Liberation Sans" font-size="10.5" text-anchor="middle" dominant-baseline="central" fill="#000" transform="rotate(-90 180.60 286.38)" >2.0</text>
<line x1="186.30" y1="267.60" x2="188.30" y2="267.60" stroke="#666" stroke-width="0.8" />
<text x="180.60" y="267.60" font-family="Liberation Sans" font-size="10.5" text-anchor="middle" dominant-baseline="central" fill="#000" transform="rotate(-90 180.60 267.60)" >2.5</text>
<line x1="210.00" y1="366.00" x2="281.90" y2="366.00" stroke="#666" stroke-width="0.8" />
<line x1="210.00" y1="366.00" x2="210.00" y2="368.40" stroke="#666" stroke-width="0.8" />
<text x="210.00" y="374.30" font-family="Liberation Sans" font-size="13" text-anchor="middle" dominant-baseline="central" fill="#000" >L1&#8722;3</text>
<line x1="245.95" y1="366.00" x2="245.95" y2="368.40" stroke="#666" stroke-width="0.8" />
<text x="245.95" y="374.30" font-family="Liberation Sans" font-size="13" text-anchor="middle" dominant-baseline="central" fill="#000" >L4</text>
<line x1="281.90" y1="366.00" x2="281.90" y2="368.40" stroke="#666" stroke-width="0.8" />
<text x="281.90" y="374.30" font-family="Liberation Sans" font-size="13" text-anchor="middle" dominant-baseline="central" fill="#000" >L5&#8722;6</text>
<text x="150.00" y="318.00" font-family="Liberation Sans" font-size="13.2" text-anchor="middle" dominant-baseline="central" fill="#000" transform="rotate(-90 150.00 318.00)" >Downsampling</text>
<text x="166.80" y="320.00" font-family="Liberation Sans" font-size="13.2" text-anchor="middle" dominant-baseline="central" fill="#000" transform="rotate(-90 166.80 320.00)" >% Significant Exon</text>
<text x="164.00" y="263.10" font-family="Liberation Sans" font-size="27.5" text-anchor="start" dominant-baseline="alphabetic" fill="#000" >f</text>
<rect x="197.90" y="429.38" width="29.90" height="71.42" fill="#2b2c7c" stroke="#6a7a9a" stroke-width="0.5" />
<line x1="212.85" y1="410.55" x2="212.85" y2="445.08" stroke="#333" stroke-width="0.7" stroke-dasharray="2 1.5"/>
<line x1="203.55" y1="410.55" x2="222.15" y2="410.55" stroke="#555" stroke-width="0.9" />
<line x1="203.55" y1="445.08" x2="222.15" y2="445.08" stroke="#333" stroke-width="0.9" />
<rect x="234.10" y="450.18" width="30.50" height="50.62" fill="#4a80c2" stroke="#6a7a9a" stroke-width="0.5" />
<line x1="249.35" y1="438.80" x2="249.35" y2="459.60" stroke="#333" stroke-width="0.7" stroke-dasharray="2 1.5"/>
<line x1="240.05" y1="438.80" x2="258.65" y2="438.80" stroke="#555" stroke-width="0.9" />
<line x1="240.05" y1="459.60" x2="258.65" y2="459.60" stroke="#333" stroke-width="0.9" />
<rect x="271.00" y="463.13" width="30.00" height="37.67" fill="#acd8f3" stroke="#6a7a9a" stroke-width="0.5" />
<line x1="286.00" y1="453.71" x2="286.00" y2="470.19" stroke="#333" stroke-width="0.7" stroke-dasharray="2 1.5"/>
<line x1="276.70" y1="453.71" x2="295.30" y2="453.71" stroke="#555" stroke-width="0.9" />
<line x1="276.70" y1="470.19" x2="295.30" y2="470.19" stroke="#333" stroke-width="0.9" />
<line x1="189.50" y1="500.80" x2="189.50" y2="402.70" stroke="#777" stroke-width="0.8" />
<line x1="187.10" y1="500.80" x2="189.50" y2="500.80" stroke="#777" stroke-width="0.8" />
<text x="183.10" y="500.80" font-family="Liberation Sans" font-size="9" text-anchor="middle" dominant-baseline="central" fill="#000" transform="rotate(-90 183.10 500.80)" >0.0</text>
<line x1="187.10" y1="481.18" x2="189.50" y2="481.18" stroke="#777" stroke-width="0.8" />
<text x="183.10" y="481.18" font-family="Liberation Sans" font-size="9" text-anchor="middle" dominant-baseline="central" fill="#000" transform="rotate(-90 183.10 481.18)" >0.5</text>
<line x1="187.10" y1="461.56" x2="189.50" y2="461.56" stroke="#777" stroke-width="0.8" />
<text x="183.10" y="461.56" font-family="Liberation Sans" font-size="9" text-anchor="middle" dominant-baseline="central" fill="#000" transform="rotate(-90 183.10 461.56)" >1.0</text>
<line x1="187.10" y1="441.94" x2="189.50" y2="441.94" stroke="#777" stroke-width="0.8" />
<text x="183.10" y="441.94" font-family="Liberation Sans" font-size="9" text-anchor="middle" dominant-baseline="central" fill="#000" transform="rotate(-90 183.10 441.94)" >1.5</text>
<line x1="187.10" y1="422.32" x2="189.50" y2="422.32" stroke="#777" stroke-width="0.8" />
<text x="183.10" y="422.32" font-family="Liberation Sans" font-size="9" text-anchor="middle" dominant-baseline="central" fill="#000" transform="rotate(-90 183.10 422.32)" >2.0</text>
<line x1="187.10" y1="402.70" x2="189.50" y2="402.70" stroke="#777" stroke-width="0.8" />
<text x="183.10" y="402.70" font-family="Liberation Sans" font-size="9" text-anchor="middle" dominant-baseline="central" fill="#000" transform="rotate(-90 183.10 402.70)" >2.5</text>
<line x1="212.85" y1="504.80" x2="286.00" y2="504.80" stroke="#888" stroke-width="0.8" />
<line x1="212.85" y1="504.80" x2="212.85" y2="507.20" stroke="#888" stroke-width="0.8" />
<text x="212.85" y="513.80" font-family="Liberation Sans" font-size="12.5" text-anchor="middle" dominant-baseline="central" fill="#000" ></text>
<line x1="249.35" y1="504.80" x2="249.35" y2="507.20" stroke="#888" stroke-width="0.8" />
<text x="249.35" y="513.80" font-family="Liberation Sans" font-size="12.5" text-anchor="middle" dominant-baseline="central" fill="#000" ></text>
<line x1="286.00" y1="504.80" x2="286.00" y2="507.20" stroke="#888" stroke-width="0.8" />
<text x="286.00" y="513.80" font-family="Liberation Sans" font-size="12.5" text-anchor="middle" dominant-baseline="central" fill="#000" ></text>
<text x="211.40" y="513.60" font-family="Liberation Sans" font-size="12.5" text-anchor="middle" dominant-baseline="central" fill="#000"  textLength="26" lengthAdjust="spacingAndGlyphs">L1-3</text>
<text x="250.50" y="513.60" font-family="Liberation Sans" font-size="12.5" text-anchor="middle" dominant-baseline="central" fill="#000"  textLength="13.4" lengthAdjust="spacingAndGlyphs">L4</text>
<text x="292.00" y="513.60" font-family="Liberation Sans" font-size="12.5" text-anchor="middle" dominant-baseline="central" fill="#000"  textLength="26" lengthAdjust="spacingAndGlyphs">L5-6</text>
<text x="250.30" y="400.20" font-family="Liberation Sans" font-size="11" text-anchor="middle" dominant-baseline="central" fill="#000"  textLength="33.9" lengthAdjust="spacingAndGlyphs">Autism</text>
<text x="166.00" y="451.80" font-family="Liberation Sans" font-size="14" text-anchor="middle" dominant-baseline="central" fill="#000" transform="rotate(-90 166.00 451.80)" >Odds Ratio</text>
<text x="166.00" y="399.20" font-family="Liberation Sans" font-size="25.8" text-anchor="start" dominant-baseline="alphabetic" fill="#000" >l</text>
<rect x="201.60" y="531.00" width="40.70" height="90.10" fill="#4a86c8" />
<rect x="246.70" y="556.60" width="40.20" height="64.50" fill="#575757" />
<line x1="194.60" y1="526.80" x2="194.60" y2="624.80" stroke="#333" stroke-width="0.8" />
<line x1="194.60" y1="624.80" x2="292.60" y2="624.80" stroke="#333" stroke-width="0.8" />
<text x="192.50" y="528.50" font-family="Liberation Sans" font-size="7" text-anchor="end" dominant-baseline="central" fill="#444" >0.20</text>
<text x="192.50" y="574.50" font-family="Liberation Sans" font-size="7" text-anchor="end" dominant-baseline="central" fill="#444" >0.10</text>
<text x="192.50" y="620.40" font-family="Liberation Sans" font-size="7" text-anchor="end" dominant-baseline="central" fill="#444" >0</text>
<line x1="221.40" y1="525.60" x2="266.10" y2="525.60" stroke="#333" stroke-width="0.7" />
<line x1="221.40" y1="525.60" x2="221.40" y2="527.50" stroke="#333" stroke-width="0.7" />
<line x1="266.10" y1="525.60" x2="266.10" y2="527.50" stroke="#333" stroke-width="0.7" />
<text x="244.20" y="525.00" font-family="Liberation Sans" font-size="13" text-anchor="middle" dominant-baseline="central" fill="#000" >**</text>
<text x="219.45" y="631.60" font-family="Liberation Sans" font-size="10.6" text-anchor="middle" dominant-baseline="central" fill="#000"  textLength="52.1" lengthAdjust="spacingAndGlyphs">Downstream</text>
<text x="219.75" y="643.00" font-family="Liberation Sans" font-size="10.6" text-anchor="middle" dominant-baseline="central" fill="#000"  textLength="41.5" lengthAdjust="spacingAndGlyphs">Sig. Exons</text>
<text x="274.75" y="631.60" font-family="Liberation Sans" font-size="10.6" text-anchor="middle" dominant-baseline="central" fill="#000"  textLength="52.1" lengthAdjust="spacingAndGlyphs">Downstream</text>
<text x="274.40" y="643.00" font-family="Liberation Sans" font-size="10.6" text-anchor="middle" dominant-baseline="central" fill="#000"  textLength="38" lengthAdjust="spacingAndGlyphs">BG Exons</text>
<text x="163.60" y="579.30" font-family="Liberation Sans" font-size="10" text-anchor="middle" dominant-baseline="central" fill="#000" transform="rotate(-90 163.60 579.30)" >Downstream repeats/</text>
<text x="176.00" y="578.80" font-family="Liberation Sans" font-size="10" text-anchor="middle" dominant-baseline="central" fill="#000" transform="rotate(-90 176.00 578.80)" >Downstream total</text>
<text x="152.90" y="518.60" font-family="Liberation Sans" font-size="25.3" text-anchor="start" dominant-baseline="alphabetic" fill="#000" >m</text>
<rect x="197.10" y="732.30" width="11.20" height="25.60" fill="#4a86c8" />
<rect x="223.60" y="711.20" width="11.70" height="46.70" fill="#4a86c8" />
<rect x="250.20" y="669.00" width="11.90" height="88.90" fill="#4a86c8" />
<rect x="276.80" y="664.30" width="11.60" height="93.60" fill="#4a86c8" />
<rect x="210.00" y="752.90" width="11.90" height="5.00" fill="#575757" />
<rect x="236.80" y="731.10" width="11.90" height="26.80" fill="#575757" />
<rect x="263.60" y="677.70" width="11.70" height="80.20" fill="#575757" />
<rect x="289.90" y="690.90" width="11.90" height="67.00" fill="#575757" />
<line x1="195.10" y1="659.90" x2="195.10" y2="762.10" stroke="#333" stroke-width="0.8" />
<line x1="193.30" y1="757.60" x2="195.10" y2="757.60" stroke="#333" stroke-width="0.7" />
<line x1="193.30" y1="738.75" x2="195.10" y2="738.75" stroke="#333" stroke-width="0.7" />
<line x1="193.30" y1="719.90" x2="195.10" y2="719.90" stroke="#333" stroke-width="0.7" />
<line x1="193.30" y1="701.05" x2="195.10" y2="701.05" stroke="#333" stroke-width="0.7" />
<line x1="193.30" y1="682.20" x2="195.10" y2="682.20" stroke="#333" stroke-width="0.7" />
<line x1="193.30" y1="663.35" x2="195.10" y2="663.35" stroke="#333" stroke-width="0.7" />
<line x1="195.10" y1="762.10" x2="303.30" y2="762.10" stroke="#333" stroke-width="0.8" />
<text x="193.80" y="682.20" font-family="Liberation Sans" font-size="9.2" text-anchor="end" dominant-baseline="central" fill="#333"  textLength="18.4" lengthAdjust="spacingAndGlyphs">0.04</text>
<text x="193.80" y="719.90" font-family="Liberation Sans" font-size="9.2" text-anchor="end" dominant-baseline="central" fill="#333"  textLength="18.4" lengthAdjust="spacingAndGlyphs">0.02</text>
<text x="193.80" y="757.60" font-family="Liberation Sans" font-size="9.2" text-anchor="end" dominant-baseline="central" fill="#333"  textLength="18.4" lengthAdjust="spacingAndGlyphs">0.00</text>
<line x1="203.30" y1="728.40" x2="218.20" y2="728.40" stroke="#333" stroke-width="0.8" />
<line x1="203.30" y1="727.30" x2="203.30" y2="729.90" stroke="#333" stroke-width="0.8" />
<line x1="218.20" y1="727.30" x2="218.20" y2="729.90" stroke="#333" stroke-width="0.8" />
<line x1="206.30" y1="723.50" x2="206.30" y2="728.90" stroke="#222" stroke-width="1.15" />
<line x1="203.96" y1="724.85" x2="208.64" y2="727.55" stroke="#222" stroke-width="1.15" />
<line x1="208.64" y1="724.85" x2="203.96" y2="727.55" stroke="#222" stroke-width="1.15" />
<line x1="214.60" y1="723.50" x2="214.60" y2="728.90" stroke="#222" stroke-width="1.15" />
<line x1="212.26" y1="724.85" x2="216.94" y2="727.55" stroke="#222" stroke-width="1.15" />
<line x1="216.94" y1="724.85" x2="212.26" y2="727.55" stroke="#222" stroke-width="1.15" />
<line x1="229.20" y1="706.50" x2="244.40" y2="706.50" stroke="#333" stroke-width="0.8" />
<line x1="229.20" y1="705.40" x2="229.20" y2="708.00" stroke="#333" stroke-width="0.8" />
<line x1="244.40" y1="705.40" x2="244.40" y2="708.00" stroke="#333" stroke-width="0.8" />
<text x="237.20" y="703.10" font-family="Liberation Sans" font-size="7.7" text-anchor="middle" dominant-baseline="central" fill="#000"  textLength="13.1" lengthAdjust="spacingAndGlyphs">N.S.</text>
<line x1="255.00" y1="662.40" x2="269.80" y2="662.40" stroke="#333" stroke-width="0.8" />
<line x1="255.00" y1="661.30" x2="255.00" y2="663.90" stroke="#333" stroke-width="0.8" />
<line x1="269.80" y1="661.30" x2="269.80" y2="663.90" stroke="#333" stroke-width="0.8" />
<text x="262.80" y="659.00" font-family="Liberation Sans" font-size="7.7" text-anchor="middle" dominant-baseline="central" fill="#000"  textLength="13.1" lengthAdjust="spacingAndGlyphs">N.S.</text>
<line x1="281.10" y1="662.40" x2="296.20" y2="662.40" stroke="#333" stroke-width="0.8" />
<line x1="281.10" y1="661.30" x2="281.10" y2="663.90" stroke="#333" stroke-width="0.8" />
<line x1="296.20" y1="661.30" x2="296.20" y2="663.90" stroke="#333" stroke-width="0.8" />
<text x="289.05" y="659.00" font-family="Liberation Sans" font-size="7.7" text-anchor="middle" dominant-baseline="central" fill="#000"  textLength="13.1" lengthAdjust="spacingAndGlyphs">N.S.</text>
<text x="216.50" y="761.30" font-family="Liberation Sans" font-size="10.5" text-anchor="end" dominant-baseline="hanging" fill="#000" transform="rotate(-45 216.50 761.30)" >LTR/ERV1</text>
<text x="241.50" y="761.50" font-family="Liberation Sans" font-size="10.5" text-anchor="end" dominant-baseline="hanging" fill="#000" transform="rotate(-45 241.50 761.50)" >LINE/L1</text>
<text x="261.50" y="762.50" font-family="Liberation Sans" font-size="10.5" text-anchor="end" dominant-baseline="hanging" fill="#000" transform="rotate(-45 261.50 762.50)" >Simple</text>
<text x="270.50" y="765.80" font-family="Liberation Sans" font-size="10.5" text-anchor="end" dominant-baseline="hanging" fill="#000" transform="rotate(-45 270.50 765.80)" >Repeats</text>
<text x="295.50" y="762.00" font-family="Liberation Sans" font-size="10.5" text-anchor="end" dominant-baseline="hanging" fill="#000" transform="rotate(-45 295.50 762.00)" >SINE/ALU</text>
<text x="159.90" y="712.60" font-family="Liberation Sans" font-size="10" text-anchor="middle" dominant-baseline="central" fill="#000" transform="rotate(-90 159.90 712.60)" >Downstream repeats/</text>
<text x="172.50" y="708.20" font-family="Liberation Sans" font-size="10" text-anchor="middle" dominant-baseline="central" fill="#000" transform="rotate(-90 172.50 708.20)" >Downstream total</text>
<text x="160.30" y="656.10" font-family="Liberation Sans" font-size="24" text-anchor="start" dominant-baseline="alphabetic" fill="#000" >n</text>
<rect x="42.70" y="552.49" width="26.30" height="72.31" fill="#2b2c7c" stroke="#111" stroke-width="0.7" />
<rect x="75.10" y="544.37" width="26.30" height="80.43" fill="#4a80c2" stroke="#444" stroke-width="0.6" />
<rect x="107.30" y="564.28" width="26.30" height="60.52" fill="#acd8f3" stroke="#555" stroke-width="0.6" />
<line x1="35.50" y1="624.80" x2="35.50" y2="533.10" stroke="#000" stroke-width="0.8" />
<line x1="33.10" y1="624.80" x2="35.50" y2="624.80" stroke="#000" stroke-width="0.8" />
<text x="29.50" y="624.80" font-family="Liberation Sans" font-size="10" text-anchor="middle" dominant-baseline="central" fill="#000" transform="rotate(-90 29.50 624.80)" >0</text>
<line x1="33.10" y1="611.70" x2="35.50" y2="611.70" stroke="#000" stroke-width="0.8" />
<text x="29.50" y="611.70" font-family="Liberation Sans" font-size="10" text-anchor="middle" dominant-baseline="central" fill="#000" transform="rotate(-90 29.50 611.70)" >5</text>
<line x1="33.10" y1="598.60" x2="35.50" y2="598.60" stroke="#000" stroke-width="0.8" />
<text x="29.50" y="598.60" font-family="Liberation Sans" font-size="10" text-anchor="middle" dominant-baseline="central" fill="#000" transform="rotate(-90 29.50 598.60)" >10</text>
<line x1="33.10" y1="585.50" x2="35.50" y2="585.50" stroke="#000" stroke-width="0.8" />
<text x="29.50" y="585.50" font-family="Liberation Sans" font-size="10" text-anchor="middle" dominant-baseline="central" fill="#000" transform="rotate(-90 29.50 585.50)" >15</text>
<line x1="33.10" y1="572.40" x2="35.50" y2="572.40" stroke="#000" stroke-width="0.8" />
<text x="29.50" y="572.40" font-family="Liberation Sans" font-size="10" text-anchor="middle" dominant-baseline="central" fill="#000" transform="rotate(-90 29.50 572.40)" >20</text>
<line x1="33.10" y1="559.30" x2="35.50" y2="559.30" stroke="#000" stroke-width="0.8" />
<text x="29.50" y="559.30" font-family="Liberation Sans" font-size="10" text-anchor="middle" dominant-baseline="central" fill="#000" transform="rotate(-90 29.50 559.30)" >25</text>
<line x1="33.10" y1="546.20" x2="35.50" y2="546.20" stroke="#000" stroke-width="0.8" />
<text x="29.50" y="546.20" font-family="Liberation Sans" font-size="10" text-anchor="middle" dominant-baseline="central" fill="#000" transform="rotate(-90 29.50 546.20)" >30</text>
<line x1="33.10" y1="533.10" x2="35.50" y2="533.10" stroke="#000" stroke-width="0.8" />
<text x="29.50" y="533.10" font-family="Liberation Sans" font-size="10" text-anchor="middle" dominant-baseline="central" fill="#000" transform="rotate(-90 29.50 533.10)" >35</text>
<line x1="55.85" y1="628.20" x2="120.45" y2="628.20" stroke="#000" stroke-width="0.8" />
<line x1="55.85" y1="628.20" x2="55.85" y2="630.60" stroke="#000" stroke-width="0.8" />
<text x="55.85" y="637.50" font-family="Liberation Sans" font-size="12" text-anchor="middle" dominant-baseline="central" fill="#000" >L1&#8722;3</text>
<line x1="88.25" y1="628.20" x2="88.25" y2="630.60" stroke="#000" stroke-width="0.8" />
<text x="88.25" y="637.50" font-family="Liberation Sans" font-size="12" text-anchor="middle" dominant-baseline="central" fill="#000" >L4</text>
<line x1="120.45" y1="628.20" x2="120.45" y2="630.60" stroke="#000" stroke-width="0.8" />
<text x="120.45" y="637.50" font-family="Liberation Sans" font-size="12" text-anchor="middle" dominant-baseline="central" fill="#000" >L5&#8722;6</text>
<text x="14.60" y="578.40" font-family="Liberation Sans" font-size="12" text-anchor="middle" dominant-baseline="central" fill="#000" transform="rotate(-90 14.60 578.40)" >% Significant Genes</text>
<text x="15.40" y="515.70" font-family="Liberation Sans" font-size="26.5" text-anchor="start" dominant-baseline="alphabetic" fill="#000" >j</text>
<rect x="77.30" y="669.10" width="25.60" height="85.90" fill="#4a80c2" stroke="#222" stroke-width="0.7" />
<line x1="77.30" y1="755.00" x2="102.90" y2="755.00" stroke="#000" stroke-width="1.6" />
<line x1="46.00" y1="755.00" x2="71.20" y2="755.00" stroke="#000" stroke-width="2.6" />
<line x1="109.00" y1="755.00" x2="134.00" y2="755.00" stroke="#000" stroke-width="2.6" />
<line x1="58.00" y1="667.40" x2="122.20" y2="667.40" stroke="#333" stroke-width="0.7" />
<line x1="58.00" y1="667.40" x2="58.00" y2="669.60" stroke="#333" stroke-width="0.7" />
<line x1="122.20" y1="667.40" x2="122.20" y2="669.60" stroke="#333" stroke-width="0.7" />
<line x1="90.10" y1="667.40" x2="90.10" y2="669.30" stroke="#333" stroke-width="0.7" />
<text x="72.80" y="665.50" font-family="Liberation Sans" font-size="11" text-anchor="middle" dominant-baseline="central" fill="#000" >****</text>
<text x="105.10" y="665.50" font-family="Liberation Sans" font-size="11" text-anchor="middle" dominant-baseline="central" fill="#000" >****</text>
<line x1="39.40" y1="755.00" x2="39.40" y2="669.10" stroke="#000" stroke-width="0.8" />
<line x1="37.00" y1="755.00" x2="39.40" y2="755.00" stroke="#000" stroke-width="0.8" />
<text x="32.20" y="755.00" font-family="Liberation Sans" font-size="10.5" text-anchor="middle" dominant-baseline="central" fill="#000" transform="rotate(-90 32.20 755.00)" >0.0</text>
<line x1="37.00" y1="737.82" x2="39.40" y2="737.82" stroke="#000" stroke-width="0.8" />
<text x="32.20" y="737.82" font-family="Liberation Sans" font-size="10.5" text-anchor="middle" dominant-baseline="central" fill="#000" transform="rotate(-90 32.20 737.82)" >0.2</text>
<line x1="37.00" y1="720.64" x2="39.40" y2="720.64" stroke="#000" stroke-width="0.8" />
<text x="32.20" y="720.64" font-family="Liberation Sans" font-size="10.5" text-anchor="middle" dominant-baseline="central" fill="#000" transform="rotate(-90 32.20 720.64)" >0.4</text>
<line x1="37.00" y1="703.46" x2="39.40" y2="703.46" stroke="#000" stroke-width="0.8" />
<text x="32.20" y="703.46" font-family="Liberation Sans" font-size="10.5" text-anchor="middle" dominant-baseline="central" fill="#000" transform="rotate(-90 32.20 703.46)" >0.6</text>
<line x1="37.00" y1="686.28" x2="39.40" y2="686.28" stroke="#000" stroke-width="0.8" />
<text x="32.20" y="686.28" font-family="Liberation Sans" font-size="10.5" text-anchor="middle" dominant-baseline="central" fill="#000" transform="rotate(-90 32.20 686.28)" >0.8</text>
<line x1="37.00" y1="669.10" x2="39.40" y2="669.10" stroke="#000" stroke-width="0.8" />
<text x="32.20" y="669.10" font-family="Liberation Sans" font-size="10.5" text-anchor="middle" dominant-baseline="central" fill="#000" transform="rotate(-90 32.20 669.10)" >1.0</text>
<line x1="58.00" y1="758.20" x2="122.20" y2="758.20" stroke="#000" stroke-width="0.8" />
<line x1="58.00" y1="758.20" x2="58.00" y2="760.60" stroke="#000" stroke-width="0.8" />
<text x="58.00" y="766.20" font-family="Liberation Sans" font-size="11.5" text-anchor="middle" dominant-baseline="central" fill="#000" >L1&#8722;3</text>
<line x1="90.10" y1="758.20" x2="90.10" y2="760.60" stroke="#000" stroke-width="0.8" />
<text x="90.10" y="766.20" font-family="Liberation Sans" font-size="11.5" text-anchor="middle" dominant-baseline="central" fill="#000" >L4</text>
<line x1="122.20" y1="758.20" x2="122.20" y2="760.60" stroke="#000" stroke-width="0.8" />
<text x="122.20" y="766.20" font-family="Liberation Sans" font-size="11.5" text-anchor="middle" dominant-baseline="central" fill="#000" >L5&#8722;6</text>
<text x="5.50" y="711.70" font-family="Liberation Sans" font-size="12" text-anchor="middle" dominant-baseline="central" fill="#000" transform="rotate(-90 5.50 711.70)" >Downsampling</text>
<text x="19.30" y="712.30" font-family="Liberation Sans" font-size="12" text-anchor="middle" dominant-baseline="central" fill="#000" transform="rotate(-90 19.30 712.30)" >% Significant Exon</text>
<text x="10.00" y="660.80" font-family="Liberation Sans" font-size="25.7" text-anchor="start" dominant-baseline="alphabetic" fill="#000" >k</text>
<circle cx="72.00" cy="461.30" r="11.5" fill="#7672ae" stroke="#fff" stroke-width="0.8"/>
<path d="M72.00 439.30A22 22 0 0 1 72.00 483.30L72.00 472.80A11.5 11.5 0 0 0 72.00 449.80Z" fill="#6e5b9f" stroke="#fff" stroke-width="0.7"/>
<path d="M72.00 483.30A22 22 0 0 1 63.76 440.90L67.69 450.64A11.5 11.5 0 0 0 72.00 472.80Z" fill="#7b7b7b" stroke="#fff" stroke-width="0.7"/>
<path d="M63.76 440.90A22 22 0 0 1 66.31 440.05L69.02 450.19A11.5 11.5 0 0 0 67.69 450.64Z" fill="#d2d2d2" stroke="#fff" stroke-width="0.7"/>
<path d="M66.31 440.05A22 22 0 0 1 68.94 439.51L70.40 449.91A11.5 11.5 0 0 0 69.02 450.19Z" fill="#d2d2d2" stroke="#fff" stroke-width="0.7"/>
<path d="M68.94 439.51A22 22 0 0 1 72.00 439.30L72.00 449.80A11.5 11.5 0 0 0 70.40 449.91Z" fill="#d2d2d2" stroke="#fff" stroke-width="0.7"/>
<path d="M72.00 428.30A33 33 0 0 1 98.70 441.90L89.80 448.37A22 22 0 0 0 72.00 439.30Z" fill="#7b7b7b" stroke="#fff" stroke-width="0.7"/>
<path d="M98.70 441.90A33 33 0 0 1 104.82 457.85L93.88 459.00A22 22 0 0 0 89.80 448.37Z" fill="#7b7b7b" stroke="#fff" stroke-width="0.7"/>
<path d="M104.82 457.85A33 33 0 0 1 103.01 472.59L92.67 468.82A22 22 0 0 0 93.88 459.00Z" fill="#7b7b7b" stroke="#fff" stroke-width="0.7"/>
<path d="M103.01 472.59A33 33 0 0 1 98.35 481.16L89.57 474.54A22 22 0 0 0 92.67 468.82Z" fill="#7b7b7b" stroke="#fff" stroke-width="0.7"/>
<path d="M98.35 481.16A33 33 0 0 1 89.49 489.29L83.66 479.96A22 22 0 0 0 89.57 474.54Z" fill="#d2d2d2" stroke="#fff" stroke-width="0.7"/>
<path d="M89.49 489.29A33 33 0 0 1 84.89 491.68L80.60 481.55A22 22 0 0 0 83.66 479.96Z" fill="#7b7b7b" stroke="#fff" stroke-width="0.7"/>
<path d="M84.89 491.68A33 33 0 0 1 80.54 493.18L77.69 482.55A22 22 0 0 0 80.60 481.55Z" fill="#d2d2d2" stroke="#fff" stroke-width="0.7"/>
<path d="M80.54 493.18A33 33 0 0 1 77.16 493.89L75.44 483.03A22 22 0 0 0 77.69 482.55Z" fill="#9fbfe0" stroke="#fff" stroke-width="0.7"/>
<path d="M77.16 493.89A33 33 0 0 1 72.00 494.30L72.00 483.30A22 22 0 0 0 75.44 483.03Z" fill="#d2d2d2" stroke="#fff" stroke-width="0.7"/>
<path d="M72.00 494.30A33 33 0 0 1 55.50 489.88L61.00 480.35A22 22 0 0 0 72.00 483.30Z" fill="#7b7b7b" stroke="#fff" stroke-width="0.7"/>
<path d="M55.50 489.88A33 33 0 0 1 42.09 475.25L52.06 470.60A22 22 0 0 0 61.00 480.35Z" fill="#7b7b7b" stroke="#fff" stroke-width="0.7"/>
<path d="M42.09 475.25A33 33 0 0 1 39.02 460.15L50.01 460.53A22 22 0 0 0 52.06 470.60Z" fill="#7b7b7b" stroke="#fff" stroke-width="0.7"/>
<path d="M39.02 460.15A33 33 0 0 1 46.35 440.53L54.90 447.45A22 22 0 0 0 50.01 460.53Z" fill="#7b7b7b" stroke="#fff" stroke-width="0.7"/>
<path d="M46.35 440.53A33 33 0 0 1 49.49 437.17L57.00 445.21A22 22 0 0 0 54.90 447.45Z" fill="#9fbfe0" stroke="#fff" stroke-width="0.7"/>
<path d="M49.49 437.17A33 33 0 0 1 51.68 435.30L58.46 443.96A22 22 0 0 0 57.00 445.21Z" fill="#7b7b7b" stroke="#fff" stroke-width="0.7"/>
<path d="M51.68 435.30A33 33 0 0 1 54.51 433.31L60.34 442.64A22 22 0 0 0 58.46 443.96Z" fill="#d2d2d2" stroke="#fff" stroke-width="0.7"/>
<path d="M54.51 433.31A33 33 0 0 1 57.53 431.64L62.36 441.53A22 22 0 0 0 60.34 442.64Z" fill="#d2d2d2" stroke="#fff" stroke-width="0.7"/>
<path d="M57.53 431.64A33 33 0 0 1 60.71 430.29L64.48 440.63A22 22 0 0 0 62.36 441.53Z" fill="#d2d2d2" stroke="#fff" stroke-width="0.7"/>
<path d="M60.71 430.29A33 33 0 0 1 64.02 429.28L66.68 439.95A22 22 0 0 0 64.48 440.63Z" fill="#d2d2d2" stroke="#fff" stroke-width="0.7"/>
<path d="M64.02 429.28A33 33 0 0 1 67.41 428.62L68.94 439.51A22 22 0 0 0 66.68 439.95Z" fill="#d2d2d2" stroke="#fff" stroke-width="0.7"/>
<path d="M67.41 428.62A33 33 0 0 1 69.70 428.38L70.47 439.35A22 22 0 0 0 68.94 439.51Z" fill="#d2d2d2" stroke="#fff" stroke-width="0.7"/>
<path d="M69.70 428.38A33 33 0 0 1 72.00 428.30L72.00 439.30A22 22 0 0 0 70.47 439.35Z" fill="#d2d2d2" stroke="#fff" stroke-width="0.7"/>
<path d="M72.00 417.30A44 44 0 0 1 93.33 422.82L88.00 432.44A33 33 0 0 0 72.00 428.30Z" fill="#7b7b7b" stroke="#fff" stroke-width="0.7"/>
<path d="M93.33 422.82A44 44 0 0 1 100.28 427.59L93.21 436.02A33 33 0 0 0 88.00 432.44Z" fill="#d2d2d2" stroke="#fff" stroke-width="0.7"/>
<path d="M100.28 427.59A44 44 0 0 1 105.71 433.02L97.28 440.09A33 33 0 0 0 93.21 436.02Z" fill="#d2d2d2" stroke="#fff" stroke-width="0.7"/>
<path d="M105.71 433.02A44 44 0 0 1 110.11 439.30L100.58 444.80A33 33 0 0 0 97.28 440.09Z" fill="#d2d2d2" stroke="#fff" stroke-width="0.7"/>
<path d="M110.11 439.30A44 44 0 0 1 112.80 444.82L102.60 448.94A33 33 0 0 0 100.58 444.80Z" fill="#7b7b7b" stroke="#fff" stroke-width="0.7"/>
<path d="M112.80 444.82A44 44 0 0 1 114.69 450.66L104.02 453.32A33 33 0 0 0 102.60 448.94Z" fill="#d2d2d2" stroke="#fff" stroke-width="0.7"/>
<path d="M114.69 450.66A44 44 0 0 1 115.97 459.76L104.98 460.15A33 33 0 0 0 104.02 453.32Z" fill="#d2d2d2" stroke="#fff" stroke-width="0.7"/>
<path d="M115.97 459.76A44 44 0 0 1 115.33 468.94L104.50 467.03A33 33 0 0 0 104.98 460.15Z" fill="#d2d2d2" stroke="#fff" stroke-width="0.7"/>
<path d="M115.33 468.94A44 44 0 0 1 112.80 477.78L102.60 473.66A33 33 0 0 0 104.50 467.03Z" fill="#7b7b7b" stroke="#fff" stroke-width="0.7"/>
<path d="M112.80 477.78A44 44 0 0 1 107.60 487.16L98.70 480.70A33 33 0 0 0 102.60 473.66Z" fill="#d2d2d2" stroke="#fff" stroke-width="0.7"/>
<path d="M107.60 487.16A44 44 0 0 1 100.28 495.01L93.21 486.58A33 33 0 0 0 98.70 480.70Z" fill="#d2d2d2" stroke="#fff" stroke-width="0.7"/>
<path d="M100.28 495.01A44 44 0 0 1 92.66 500.15L87.49 490.44A33 33 0 0 0 93.21 486.58Z" fill="#d2d2d2" stroke="#fff" stroke-width="0.7"/>
<path d="M92.66 500.15A44 44 0 0 1 85.60 503.15L82.20 492.68A33 33 0 0 0 87.49 490.44Z" fill="#d2d2d2" stroke="#fff" stroke-width="0.7"/>
<path d="M85.60 503.15A44 44 0 0 1 79.64 504.63L77.73 493.80A33 33 0 0 0 82.20 492.68Z" fill="#d2d2d2" stroke="#fff" stroke-width="0.7"/>
<path d="M72.00 505.30A44 44 0 0 1 58.40 503.15L61.80 492.68A33 33 0 0 0 72.00 494.30Z" fill="#7b7b7b" stroke="#fff" stroke-width="0.7"/>
<path d="M58.40 503.15A44 44 0 0 1 44.91 495.97L51.68 487.30A33 33 0 0 0 61.80 492.68Z" fill="#7b7b7b" stroke="#fff" stroke-width="0.7"/>
<path d="M44.91 495.97A44 44 0 0 1 37.33 488.39L46.00 481.62A33 33 0 0 0 51.68 487.30Z" fill="#7b7b7b" stroke="#fff" stroke-width="0.7"/>
<path d="M37.33 488.39A44 44 0 0 1 31.50 478.49L41.62 474.19A33 33 0 0 0 46.00 481.62Z" fill="#d2d2d2" stroke="#fff" stroke-width="0.7"/>
<path d="M31.50 478.49A44 44 0 0 1 28.43 467.42L39.32 465.89A33 33 0 0 0 41.62 474.19Z" fill="#d2d2d2" stroke="#fff" stroke-width="0.7"/>
<path d="M28.43 467.42A44 44 0 0 1 28.00 461.30L39.00 461.30A33 33 0 0 0 39.32 465.89Z" fill="#7b7b7b" stroke="#fff" stroke-width="0.7"/>
<path d="M28.00 461.30A44 44 0 0 1 28.43 455.18L39.32 456.71A33 33 0 0 0 39.00 461.30Z" fill="#7b7b7b" stroke="#fff" stroke-width="0.7"/>
<path d="M28.43 455.18A44 44 0 0 1 30.65 446.25L40.99 450.01A33 33 0 0 0 39.32 456.71Z" fill="#d2d2d2" stroke="#fff" stroke-width="0.7"/>
<path d="M30.65 446.25A44 44 0 0 1 33.89 439.30L43.42 444.80A33 33 0 0 0 40.99 450.01Z" fill="#d2d2d2" stroke="#fff" stroke-width="0.7"/>
<path d="M33.89 439.30A44 44 0 0 1 37.81 433.61L46.35 440.53A33 33 0 0 0 43.42 444.80Z" fill="#d2d2d2" stroke="#fff" stroke-width="0.7"/>
<path d="M37.81 433.61A44 44 0 0 1 41.99 429.12L49.49 437.17A33 33 0 0 0 46.35 440.53Z" fill="#9fbfe0" stroke="#fff" stroke-width="0.7"/>
<path d="M41.99 429.12A44 44 0 0 1 44.91 426.63L51.68 435.30A33 33 0 0 0 49.49 437.17Z" fill="#7b7b7b" stroke="#fff" stroke-width="0.7"/>
<path d="M45.52 426.16A44 44 0 0 1 49.34 423.58L55.00 433.01A33 33 0 0 0 52.14 434.95Z" fill="#d2d2d2" stroke="#fff" stroke-width="0.7"/>
<path d="M49.34 423.58A44 44 0 0 1 53.40 421.42L58.05 431.39A33 33 0 0 0 55.00 433.01Z" fill="#d2d2d2" stroke="#fff" stroke-width="0.7"/>
<path d="M53.40 421.42A44 44 0 0 1 57.68 419.70L61.26 430.10A33 33 0 0 0 58.05 431.39Z" fill="#d2d2d2" stroke="#fff" stroke-width="0.7"/>
<path d="M57.68 419.70A44 44 0 0 1 62.10 418.43L64.58 429.15A33 33 0 0 0 61.26 430.10Z" fill="#d2d2d2" stroke="#fff" stroke-width="0.7"/>
<path d="M62.10 418.43A44 44 0 0 1 66.64 417.63L67.98 428.55A33 33 0 0 0 64.58 429.15Z" fill="#d2d2d2" stroke="#fff" stroke-width="0.7"/>
<path d="M66.64 417.63A44 44 0 0 1 72.00 417.30L72.00 428.30A33 33 0 0 0 67.98 428.55Z" fill="#d2d2d2" stroke="#fff" stroke-width="0.7"/>
<path d="M72.00 406.30A55 55 0 0 1 94.37 411.05L89.90 421.10A44 44 0 0 0 72.00 417.30Z" fill="#7b7b7b" stroke="#fff" stroke-width="0.7"/>
<path d="M94.37 411.05A55 55 0 0 1 101.96 415.17L95.96 424.40A44 44 0 0 0 89.90 421.10Z" fill="#7b7b7b" stroke="#fff" stroke-width="0.7"/>
<path d="M101.96 415.17A55 55 0 0 1 108.80 420.43L101.44 428.60A44 44 0 0 0 95.96 424.40Z" fill="#d2d2d2" stroke="#fff" stroke-width="0.7"/>
<path d="M108.80 420.43A55 55 0 0 1 115.34 427.44L106.67 434.21A44 44 0 0 0 101.44 428.60Z" fill="#d2d2d2" stroke="#fff" stroke-width="0.7"/>
<path d="M117.60 430.54A55 55 0 0 1 121.43 437.19L111.55 442.01A44 44 0 0 0 108.48 436.70Z" fill="#d2d2d2" stroke="#fff" stroke-width="0.7"/>
<path d="M121.43 437.19A55 55 0 0 1 124.31 444.30L113.85 447.70A44 44 0 0 0 111.55 442.01Z" fill="#d2d2d2" stroke="#fff" stroke-width="0.7"/>
<path d="M124.31 444.30A55 55 0 0 1 126.16 451.75L115.33 453.66A44 44 0 0 0 113.85 447.70Z" fill="#7b7b7b" stroke="#fff" stroke-width="0.7"/>
<path d="M126.16 451.75A55 55 0 0 1 127.00 461.30L116.00 461.30A44 44 0 0 0 115.33 453.66Z" fill="#d2d2d2" stroke="#fff" stroke-width="0.7"/>
<path d="M127.00 461.30A55 55 0 0 1 126.16 470.85L115.33 468.94A44 44 0 0 0 116.00 461.30Z" fill="#d2d2d2" stroke="#fff" stroke-width="0.7"/>
<path d="M126.16 470.85A55 55 0 0 1 123.00 481.90L112.80 477.78A44 44 0 0 0 115.33 468.94Z" fill="#d2d2d2" stroke="#fff" stroke-width="0.7"/>
<path d="M118.64 490.45A55 55 0 0 1 111.56 499.51L103.65 491.86A44 44 0 0 0 109.31 484.62Z" fill="#d2d2d2" stroke="#fff" stroke-width="0.7"/>
<path d="M111.56 499.51A55 55 0 0 1 102.76 506.90L96.60 497.78A44 44 0 0 0 103.65 491.86Z" fill="#d2d2d2" stroke="#fff" stroke-width="0.7"/>
<path d="M102.76 506.90A55 55 0 0 1 92.60 512.30L88.48 502.10A44 44 0 0 0 96.60 497.78Z" fill="#d2d2d2" stroke="#fff" stroke-width="0.7"/>
<path d="M90.81 512.98A55 55 0 0 1 81.55 515.46L79.64 504.63A44 44 0 0 0 87.05 502.65Z" fill="#d2d2d2" stroke="#fff" stroke-width="0.7"/>
<path d="M72.00 516.30A55 55 0 0 1 62.45 515.46L64.36 504.63A44 44 0 0 0 72.00 505.30Z" fill="#d2d2d2" stroke="#fff" stroke-width="0.7"/>
<path d="M62.45 515.46A55 55 0 0 1 53.19 512.98L56.95 502.65A44 44 0 0 0 64.36 504.63Z" fill="#d2d2d2" stroke="#fff" stroke-width="0.7"/>
<path d="M53.19 512.98A55 55 0 0 1 44.50 508.93L50.00 499.41A44 44 0 0 0 56.95 502.65Z" fill="#d2d2d2" stroke="#fff" stroke-width="0.7"/>
<path d="M42.85 507.94A55 55 0 0 1 32.44 499.51L40.35 491.86A44 44 0 0 0 48.68 498.61Z" fill="#7b7b7b" stroke="#fff" stroke-width="0.7"/>
<path d="M32.44 499.51A55 55 0 0 1 26.40 492.06L35.52 485.90A44 44 0 0 0 40.35 491.86Z" fill="#d2d2d2" stroke="#fff" stroke-width="0.7"/>
<path d="M26.40 492.06A55 55 0 0 1 20.32 480.11L30.65 476.35A44 44 0 0 0 35.52 485.90Z" fill="#d2d2d2" stroke="#fff" stroke-width="0.7"/>
<path d="M17.54 468.95A55 55 0 0 1 17.03 463.22L28.03 462.84A44 44 0 0 0 28.43 467.42Z" fill="#7b7b7b" stroke="#fff" stroke-width="0.7"/>
<path d="M17.03 463.22A55 55 0 0 1 17.13 457.46L28.11 458.23A44 44 0 0 0 28.03 462.84Z" fill="#7b7b7b" stroke="#fff" stroke-width="0.7"/>
<path d="M17.30 455.55A55 55 0 0 1 19.69 444.30L30.15 447.70A44 44 0 0 0 28.24 456.70Z" fill="#d2d2d2" stroke="#fff" stroke-width="0.7"/>
<path d="M19.69 444.30A55 55 0 0 1 24.37 433.80L33.89 439.30A44 44 0 0 0 30.15 447.70Z" fill="#d2d2d2" stroke="#fff" stroke-width="0.7"/>
<path d="M24.37 433.80A55 55 0 0 1 29.26 426.69L37.81 433.61A44 44 0 0 0 33.89 439.30Z" fill="#d2d2d2" stroke="#fff" stroke-width="0.7"/>
<path d="M29.26 426.69A55 55 0 0 1 34.49 421.08L41.99 429.12A44 44 0 0 0 37.81 433.61Z" fill="#7b7b7b" stroke="#fff" stroke-width="0.7"/>
<path d="M44.50 413.67A55 55 0 0 1 51.40 410.30L55.52 420.50A44 44 0 0 0 50.00 423.19Z" fill="#d2d2d2" stroke="#fff" stroke-width="0.7"/>
<path d="M51.40 410.30A55 55 0 0 1 57.76 408.17L60.61 418.80A44 44 0 0 0 55.52 420.50Z" fill="#d2d2d2" stroke="#fff" stroke-width="0.7"/>
<path d="M72.00 395.30A66 66 0 0 1 81.19 395.94L79.65 406.84A55 55 0 0 0 72.00 406.30Z" fill="#d2d2d2" stroke="#fff" stroke-width="0.7"/>
<path d="M81.19 395.94A66 66 0 0 1 91.30 398.18L88.08 408.70A55 55 0 0 0 79.65 406.84Z" fill="#7b7b7b" stroke="#fff" stroke-width="0.7"/>
<path d="M91.30 398.18A66 66 0 0 1 100.93 401.98L96.11 411.87A55 55 0 0 0 88.08 408.70Z" fill="#d2d2d2" stroke="#fff" stroke-width="0.7"/>
<path d="M121.05 417.14A66 66 0 0 1 126.72 424.39L117.60 430.54A55 55 0 0 0 112.87 424.50Z" fill="#d2d2d2" stroke="#fff" stroke-width="0.7"/>
<path d="M137.00 449.84A66 66 0 0 1 137.96 463.60L126.97 463.22A55 55 0 0 0 126.16 451.75Z" fill="#d2d2d2" stroke="#fff" stroke-width="0.7"/>
<path d="M137.96 463.60A66 66 0 0 1 136.04 477.27L125.37 474.61A55 55 0 0 0 126.97 463.22Z" fill="#d2d2d2" stroke="#fff" stroke-width="0.7"/>
<path d="M136.04 477.27A66 66 0 0 1 132.29 488.14L122.25 483.67A55 55 0 0 0 125.37 474.61Z" fill="#d2d2d2" stroke="#fff" stroke-width="0.7"/>
<path d="M121.05 505.46A66 66 0 0 1 110.79 514.70L104.33 505.80A55 55 0 0 0 112.87 498.10Z" fill="#d2d2d2" stroke="#fff" stroke-width="0.7"/>
<path d="M105.00 518.46A66 66 0 0 1 94.57 523.32L90.81 512.98A55 55 0 0 0 99.50 508.93Z" fill="#d2d2d2" stroke="#fff" stroke-width="0.7"/>
<path d="M7.44 447.58A66 66 0 0 1 10.81 436.58L21.00 440.70A55 55 0 0 0 18.20 449.86Z" fill="#d2d2d2" stroke="#fff" stroke-width="0.7"/>
<path d="M10.81 436.58A66 66 0 0 1 14.84 428.30L24.37 433.80A55 55 0 0 0 21.00 440.70Z" fill="#d2d2d2" stroke="#fff" stroke-width="0.7"/>
<path d="M14.84 428.30A66 66 0 0 1 19.99 420.67L28.66 427.44A55 55 0 0 0 24.37 433.80Z" fill="#d2d2d2" stroke="#fff" stroke-width="0.7"/>
<path d="M20.71 419.76A66 66 0 0 1 26.99 413.03L34.49 421.08A55 55 0 0 0 29.26 426.69Z" fill="#7b7b7b" stroke="#fff" stroke-width="0.7"/>
<path d="M15.27 415.36A73 73 0 0 1 22.21 407.91L26.99 413.03A66 66 0 0 0 20.71 419.76Z" fill="#d2d2d2" stroke="#fff" stroke-width="0.7"/>
<text x="72.00" y="459.50" font-family="Liberation Sans" font-size="7.2" text-anchor="middle" dominant-baseline="central" fill="#000" >synapse</text>
<text x="103.00" y="464.50" font-family="Liberation Sans" font-size="7.2" text-anchor="middle" dominant-baseline="central" fill="#000" transform="rotate(2 103.00 464.50)" >postsynapse</text>
<text x="42.50" y="469.50" font-family="Liberation Sans" font-size="7.2" text-anchor="middle" dominant-baseline="central" fill="#000" transform="rotate(-15 42.50 469.50)" >presynapse</text>
<text x="38.00" y="420.00" font-family="Liberation Sans" font-size="7" text-anchor="middle" dominant-baseline="central" fill="#000" transform="rotate(38 38.00 420.00)" >presynaptic active</text>
<text x="55.50" y="450.00" font-family="Liberation Sans" font-size="7" text-anchor="middle" dominant-baseline="central" fill="#000" transform="rotate(50 55.50 450.00)" >zone</text>
<text x="76.50" y="498.00" font-family="Liberation Sans" font-size="6.6" text-anchor="middle" dominant-baseline="central" fill="#000" transform="rotate(80 76.50 498.00)" >postsynaptic</text>
<text x="69.50" y="500.00" font-family="Liberation Sans" font-size="6.6" text-anchor="middle" dominant-baseline="central" fill="#000" transform="rotate(95 69.50 500.00)" >endocytic zone</text>
<text x="116.20" y="398.30" font-family="Liberation Sans" font-size="9.3" text-anchor="start" dominant-baseline="central" fill="#222"  textLength="37.5" lengthAdjust="spacingAndGlyphs">-log10 Q</text>
<rect x="132.00" y="407.20" width="10.80" height="10.40" fill="#9bbcd9" />
<text x="145.20" y="412.70" font-family="Liberation Sans" font-size="9.5" text-anchor="start" dominant-baseline="central" fill="#222" >2</text>
<rect x="132.00" y="419.90" width="10.80" height="9.90" fill="#8489bc" />
<text x="145.20" y="425.15" font-family="Liberation Sans" font-size="9.5" text-anchor="start" dominant-baseline="central" fill="#222" >3</text>
<rect x="132.00" y="432.20" width="10.80" height="9.80" fill="#6a5f9f" />
<text x="145.20" y="437.40" font-family="Liberation Sans" font-size="9.5" text-anchor="start" dominant-baseline="central" fill="#222" >4</text>
<text x="15.00" y="400.80" font-family="Liberation Sans" font-size="27" text-anchor="start" dominant-baseline="alphabetic" fill="#000" >i</text>
<defs>
<filter id="tg1" x="0" y="0" width="1" height="1" color-interpolation-filters="sRGB"><feTurbulence type="fractalNoise" baseFrequency="0.5 0.35" numOctaves="3" seed="4"/><feColorMatrix type="matrix" values="1 0 0 0 0  1 0 0 0 0  1 0 0 0 0  0 0 0 0 1"/><feComponentTransfer><feFuncR type="table" tableValues="0.620 0.621 0.622 0.625 0.630 0.643 0.668 0.714 0.780 0.851 0.906 0.939 0.956 0.964 0.967 0.969 0.969 0.970 0.970 0.970 0.970"/><feFuncG type="table" tableValues="0.620 0.621 0.622 0.625 0.630 0.643 0.668 0.714 0.780 0.851 0.906 0.939 0.956 0.964 0.967 0.969 0.969 0.970 0.970 0.970 0.970"/><feFuncB type="table" tableValues="0.620 0.621 0.622 0.625 0.630 0.643 0.668 0.714 0.780 0.851 0.906 0.939 0.956 0.964 0.967 0.969 0.969 0.970 0.970 0.970 0.970"/></feComponentTransfer></filter>
<filter id="tg2" x="0" y="0" width="1" height="1" color-interpolation-filters="sRGB"><feTurbulence type="fractalNoise" baseFrequency="0.9" numOctaves="2" seed="9"/><feColorMatrix type="matrix" values="1 0 0 0 0  1 0 0 0 0  1 0 0 0 0  0 0 0 0 1"/><feComponentTransfer><feFuncR type="table" tableValues="0.600 0.600 0.601 0.603 0.612 0.638 0.708 0.825 0.927 0.976 0.993 0.998 0.999 1.000 1.000 1.000 1.000 1.000 1.000 1.000 1.000"/><feFuncG type="table" tableValues="0.600 0.600 0.601 0.603 0.612 0.638 0.708 0.825 0.927 0.976 0.993 0.998 0.999 1.000 1.000 1.000 1.000 1.000 1.000 1.000 1.000"/><feFuncB type="table" tableValues="0.600 0.600 0.601 0.603 0.612 0.638 0.708 0.825 0.927 0.976 0.993 0.998 0.999 1.000 1.000 1.000 1.000 1.000 1.000 1.000 1.000"/></feComponentTransfer></filter>
<filter id="tg3" x="0" y="0" width="1" height="1" color-interpolation-filters="sRGB"><feTurbulence type="fractalNoise" baseFrequency="0.6 0.4" numOctaves="3" seed="12"/><feColorMatrix type="matrix" values="1 0 0 0 0  1 0 0 0 0  1 0 0 0 0  0 0 0 0 1"/><feComponentTransfer><feFuncR type="table" tableValues="0.620 0.621 0.622 0.627 0.640 0.675 0.749 0.852 0.934 0.975 0.992 0.997 0.999 1.000 1.000 1.000 1.000 1.000 1.000 1.000 1.000"/><feFuncG type="table" tableValues="0.620 0.621 0.622 0.627 0.640 0.675 0.749 0.852 0.934 0.975 0.992 0.997 0.999 1.000 1.000 1.000 1.000 1.000 1.000 1.000 1.000"/><feFuncB type="table" tableValues="0.620 0.621 0.622 0.627 0.640 0.675 0.749 0.852 0.934 0.975 0.992 0.997 0.999 1.000 1.000 1.000 1.000 1.000 1.000 1.000 1.000"/></feComponentTransfer></filter>
<filter id="th1" x="0" y="0" width="1" height="1" color-interpolation-filters="sRGB"><feTurbulence type="fractalNoise" baseFrequency="0.5 0.35" numOctaves="3" seed="17"/><feColorMatrix type="matrix" values="1 0 0 0 0  1 0 0 0 0  1 0 0 0 0  0 0 0 0 1"/><feComponentTransfer><feFuncR type="table" tableValues="0.650 0.650 0.651 0.654 0.663 0.692 0.762 0.868 0.948 0.983 0.995 0.999 1.000 1.000 1.000 1.000 1.000 1.000 1.000 1.000 1.000"/><feFuncG type="table" tableValues="0.650 0.650 0.651 0.654 0.663 0.692 0.762 0.868 0.948 0.983 0.995 0.999 1.000 1.000 1.000 1.000 1.000 1.000 1.000 1.000 1.000"/><feFuncB type="table" tableValues="0.650 0.650 0.651 0.654 0.663 0.692 0.762 0.868 0.948 0.983 0.995 0.999 1.000 1.000 1.000 1.000 1.000 1.000 1.000 1.000 1.000"/></feComponentTransfer></filter>
<filter id="th2" x="0" y="0" width="1" height="1" color-interpolation-filters="sRGB"><feTurbulence type="fractalNoise" baseFrequency="0.35 0.6" numOctaves="3" seed="21"/><feColorMatrix type="matrix" values="1 0 0 0 0  1 0 0 0 0  1 0 0 0 0  0 0 0 0 1"/><feComponentTransfer><feFuncR type="table" tableValues="0.600 0.601 0.602 0.606 0.616 0.640 0.693 0.780 0.876 0.943 0.977 0.991 0.997 0.999 1.000 1.000 1.000 1.000 1.000 1.000 1.000"/><feFuncG type="table" tableValues="0.600 0.601 0.602 0.606 0.616 0.640 0.693 0.780 0.876 0.943 0.977 0.991 0.997 0.999 1.000 1.000 1.000 1.000 1.000 1.000 1.000"/><feFuncB type="table" tableValues="0.600 0.601 0.602 0.606 0.616 0.640 0.693 0.780 0.876 0.943 0.977 0.991 0.997 0.999 1.000 1.000 1.000 1.000 1.000 1.000 1.000"/></feComponentTransfer></filter>
<filter id="th3" x="0" y="0" width="1" height="1" color-interpolation-filters="sRGB"><feTurbulence type="fractalNoise" baseFrequency="0.55 0.4" numOctaves="3" seed="25"/><feColorMatrix type="matrix" values="1 0 0 0 0  1 0 0 0 0  1 0 0 0 0  0 0 0 0 1"/><feComponentTransfer><feFuncR type="table" tableValues="0.750 0.750 0.751 0.752 0.755 0.762 0.776 0.802 0.842 0.887 0.924 0.947 0.960 0.965 0.968 0.969 0.970 0.970 0.970 0.970 0.970"/><feFuncG type="table" tableValues="0.750 0.750 0.751 0.752 0.755 0.762 0.776 0.802 0.842 0.887 0.924 0.947 0.960 0.965 0.968 0.969 0.970 0.970 0.970 0.970 0.970"/><feFuncB type="table" tableValues="0.750 0.750 0.751 0.752 0.755 0.762 0.776 0.802 0.842 0.887 0.924 0.947 0.960 0.965 0.968 0.969 0.970 0.970 0.970 0.970 0.970"/></feComponentTransfer></filter>
<filter id="bl3"><feGaussianBlur stdDeviation="3"/></filter>
<filter id="bl6"><feGaussianBlur stdDeviation="6"/></filter>
<linearGradient id="psi" x1="0" y1="1" x2="0" y2="0">
 <stop offset="0" stop-color="#3a58a4"/>
 <stop offset="0.25" stop-color="#7a3a8c"/>
 <stop offset="0.5" stop-color="#c10a72"/>
 <stop offset="0.75" stop-color="#dc1250"/>
 <stop offset="1" stop-color="#e21d32"/>
</linearGradient>
<clipPath id="cg1"><rect x="335.2" y="37.4" width="134.3" height="126.1"/></clipPath>
<clipPath id="cg2"><rect x="336.8" y="171.2" width="133.2" height="112.6"/></clipPath>
<clipPath id="cg3"><rect x="332.8" y="291.7" width="136.7" height="108.6"/></clipPath>
<clipPath id="ch1"><rect x="479.3" y="38.5" width="136.7" height="125"/></clipPath>
<clipPath id="ch2"><rect x="475.1" y="171.2" width="144.4" height="113.1"/></clipPath>
<clipPath id="ch3"><rect x="475.8" y="291.7" width="145.6" height="96.9"/></clipPath>
</defs>
<g clip-path="url(#cg1)">
<rect x="335.20" y="37.40" width="134.30" height="126.10" fill="#e6e6e6" />
<rect x="335.2" y="37.4" width="134.3" height="126.1" filter="url(#tg1)" opacity="1.0"/>
<path d="M338.20 147.60C341.00 141.68 349.47 123.85 355.00 112.10C360.53 100.35 365.95 87.22 371.40 77.10C376.85 66.98 382.25 56.85 387.70 51.40C393.15 45.95 399.03 45.65 404.10 44.40C409.17 43.15 413.43 43.52 418.10 43.90C422.77 44.28 428.20 44.67 432.10 46.70C436.00 48.73 439.17 52.20 441.50 56.10C443.83 60.00 445.13 63.88 446.10 70.10C447.07 76.32 446.98 86.40 447.30 93.40C447.62 100.40 447.03 105.87 448.00 112.10C448.97 118.33 450.68 125.15 453.10 130.80C455.52 136.45 460.93 143.47 462.50 146.00L443.80 153.00C442.63 150.87 438.75 144.28 436.80 140.20C434.85 136.12 433.47 133.57 432.10 128.50C430.73 123.43 429.30 115.65 428.60 109.80C427.90 103.95 427.90 99.23 427.90 93.40C427.90 87.57 429.07 79.08 428.60 74.80C428.13 70.52 427.63 69.07 425.10 67.70C422.57 66.33 417.28 66.20 413.40 66.60C409.52 67.00 405.68 67.18 401.80 70.10C397.92 73.02 394.00 77.48 390.10 84.10C386.20 90.72 381.72 101.23 378.40 109.80C375.08 118.37 372.35 127.92 370.20 135.50C368.05 143.08 366.28 152.00 365.50 155.30Z" fill="#fff" opacity="0.22" filter="url(#bl3)"/>
<path d="M365.50 155.30C366.28 152.00 368.05 143.08 370.20 135.50C372.35 127.92 375.08 118.37 378.40 109.80C381.72 101.23 386.20 90.72 390.10 84.10C394.00 77.48 397.92 73.02 401.80 70.10C405.68 67.18 409.52 67.00 413.40 66.60C417.28 66.20 422.57 66.33 425.10 67.70C427.63 69.07 428.13 70.52 428.60 74.80C429.07 79.08 427.90 87.57 427.90 93.40C427.90 99.23 427.90 103.95 428.60 109.80C429.30 115.65 430.73 123.43 432.10 128.50C433.47 133.57 434.85 136.12 436.80 140.20C438.75 144.28 442.63 150.87 443.80 153.00L443.8 164L365.5 164Z" fill="#fff" opacity="0.3" filter="url(#bl3)"/>
<path d="M384 164L392 110L402 85L414 80L420 95L419 164Z" fill="#fff" opacity="0.45" filter="url(#bl6)"/>
<path d="M448 120L470 112L470 130L455 128Z" fill="#fff" opacity="0.85" filter="url(#bl3)"/>
<path d="M455 150L470 140L470 165L450 165Z" fill="#fff" opacity="0.9" filter="url(#bl3)"/>
<path d="M335 37L367 37L350 70L338 100L335 100Z" fill="#fff"/>
</g>
<path d="M338.20 147.60C341.00 141.68 349.47 123.85 355.00 112.10C360.53 100.35 365.95 87.22 371.40 77.10C376.85 66.98 382.25 56.85 387.70 51.40C393.15 45.95 399.03 45.65 404.10 44.40C409.17 43.15 413.43 43.52 418.10 43.90C422.77 44.28 428.20 44.67 432.10 46.70C436.00 48.73 439.17 52.20 441.50 56.10C443.83 60.00 445.13 63.88 446.10 70.10C447.07 76.32 446.98 86.40 447.30 93.40C447.62 100.40 447.03 105.87 448.00 112.10C448.97 118.33 450.68 125.15 453.10 130.80C455.52 136.45 460.93 143.47 462.50 146.00" stroke="#1a1a1a" stroke-width="0.9" fill="none" />
<path d="M365.50 155.30C366.28 152.00 368.05 143.08 370.20 135.50C372.35 127.92 375.08 118.37 378.40 109.80C381.72 101.23 386.20 90.72 390.10 84.10C394.00 77.48 397.92 73.02 401.80 70.10C405.68 67.18 409.52 67.00 413.40 66.60C417.28 66.20 422.57 66.33 425.10 67.70C427.63 69.07 428.13 70.52 428.60 74.80C429.07 79.08 427.90 87.57 427.90 93.40C427.90 99.23 427.90 103.95 428.60 109.80C429.30 115.65 430.73 123.43 432.10 128.50C433.47 133.57 434.85 136.12 436.80 140.20C438.75 144.28 442.63 150.87 443.80 153.00" stroke="#1a1a1a" stroke-width="0.9" fill="none" />
<circle cx="383.10" cy="75.20" r="2.6" fill="#e8342b" />
<circle cx="388.40" cy="78.30" r="2.6" fill="#e8342b" />
<circle cx="386.60" cy="84.10" r="2.6" fill="#e8342b" />
<circle cx="380.70" cy="86.40" r="2.6" fill="#e8342b" />
<circle cx="380.30" cy="89.90" r="2.6" fill="#e8342b" />
<circle cx="377.20" cy="93.40" r="2.6" fill="#e8342b" />
<circle cx="371.40" cy="91.60" r="2.6" fill="#e8342b" />
<circle cx="372.60" cy="95.80" r="2.6" fill="#e8342b" />
<circle cx="380.70" cy="91.10" r="2.6" fill="#e8342b" />
<circle cx="364.40" cy="100.40" r="2.6" fill="#e8342b" />
<circle cx="367.90" cy="101.60" r="2.6" fill="#e8342b" />
<circle cx="371.40" cy="102.30" r="2.6" fill="#e8342b" />
<circle cx="366.70" cy="103.90" r="2.6" fill="#e8342b" />
<circle cx="376.10" cy="106.30" r="2.6" fill="#e8342b" />
<circle cx="378.40" cy="105.10" r="2.6" fill="#e8342b" />
<circle cx="365.50" cy="109.80" r="2.6" fill="#e8342b" />
<circle cx="374.20" cy="114.90" r="2.6" fill="#e8342b" />
<circle cx="363.20" cy="119.10" r="2.6" fill="#e8342b" />
<circle cx="366.70" cy="121.50" r="2.6" fill="#e8342b" />
<circle cx="371.40" cy="121.50" r="2.6" fill="#e8342b" />
<circle cx="362.00" cy="122.60" r="2.6" fill="#e8342b" />
<circle cx="358.50" cy="126.10" r="2.6" fill="#e8342b" />
<circle cx="353.90" cy="134.30" r="2.6" fill="#e8342b" />
<circle cx="360.90" cy="134.30" r="2.6" fill="#e8342b" />
<circle cx="365.50" cy="134.80" r="2.6" fill="#e8342b" />
<circle cx="360.40" cy="146.50" r="2.6" fill="#e8342b" />
<circle cx="364.40" cy="118.00" r="2.6" fill="#e8342b" />
<circle cx="367.90" cy="119.10" r="2.6" fill="#e8342b" />
<circle cx="369.00" cy="98.00" r="2.6" fill="#e8342b" />
<circle cx="375.00" cy="88.00" r="2.6" fill="#e8342b" />
<circle cx="443.10" cy="118.00" r="2.6" fill="#e8342b" />
<circle cx="439.10" cy="125.00" r="2.6" fill="#e8342b" />
<circle cx="441.50" cy="127.30" r="2.6" fill="#e8342b" />
<circle cx="438.00" cy="127.30" r="2.6" fill="#e8342b" />
<circle cx="435.60" cy="130.80" r="2.6" fill="#e8342b" />
<circle cx="433.30" cy="132.00" r="2.6" fill="#e8342b" />
<circle cx="358.50" cy="115.60" r="2.6" fill="#3b52a3" />
<circle cx="359.70" cy="157.00" r="2.6" fill="#3b52a3" />
<g clip-path="url(#cg2)">
<rect x="336.80" y="171.20" width="133.20" height="112.60" fill="#f4f4f4" />
<rect x="336.8" y="171.2" width="133.2" height="112.6" filter="url(#tg2)" opacity="1.0"/>
</g>
<path d="M352.70 196.90C357.25 196.67 370.45 195.48 380.00 195.50C389.55 195.52 400.00 196.00 410.00 197.00C420.00 198.00 430.47 199.30 440.00 201.50C449.53 203.70 462.67 208.75 467.20 210.20" stroke="#5b6f8c" stroke-width="0.7" fill="none" />
<path d="M374.90 268.60C377.42 265.83 384.98 256.27 390.00 252.00C395.02 247.73 400.32 245.28 405.00 243.00C409.68 240.72 412.27 238.97 418.10 238.30C423.93 237.63 432.22 238.03 440.00 239.00C447.78 239.97 460.67 243.25 464.80 244.10" stroke="#5b6f8c" stroke-width="0.7" fill="none" />
<circle cx="366.62" cy="249.55" r="1.95" fill="#e8342b" />
<circle cx="440.79" cy="231.97" r="1.95" fill="#e8342b" />
<circle cx="450.19" cy="227.69" r="1.95" fill="#e8342b" />
<circle cx="352.96" cy="264.69" r="1.95" fill="#e8342b" />
<circle cx="354.62" cy="255.38" r="1.95" fill="#e8342b" />
<circle cx="431.24" cy="208.68" r="1.95" fill="#e8342b" />
<circle cx="427.58" cy="205.20" r="1.95" fill="#e8342b" />
<circle cx="354.26" cy="247.31" r="1.95" fill="#e8342b" />
<circle cx="430.37" cy="209.29" r="1.95" fill="#e8342b" />
<circle cx="364.40" cy="218.49" r="1.95" fill="#e8342b" />
<circle cx="355.88" cy="201.65" r="1.95" fill="#e8342b" />
<circle cx="450.75" cy="221.22" r="1.95" fill="#e8342b" />
<circle cx="452.77" cy="224.26" r="1.95" fill="#e8342b" />
<circle cx="455.38" cy="229.43" r="1.95" fill="#e8342b" />
<circle cx="455.80" cy="224.96" r="1.95" fill="#e8342b" />
<circle cx="353.37" cy="213.96" r="1.95" fill="#e8342b" />
<circle cx="383.24" cy="260.80" r="1.95" fill="#e8342b" />
<circle cx="368.76" cy="254.40" r="1.95" fill="#e8342b" />
<circle cx="366.55" cy="253.56" r="1.95" fill="#e8342b" />
<circle cx="369.82" cy="259.04" r="1.95" fill="#e8342b" />
<circle cx="347.93" cy="236.92" r="1.95" fill="#e8342b" />
<circle cx="350.81" cy="237.15" r="1.95" fill="#e8342b" />
<circle cx="399.76" cy="206.73" r="1.95" fill="#e8342b" />
<circle cx="396.13" cy="207.13" r="1.95" fill="#e8342b" />
<circle cx="371.00" cy="203.11" r="1.95" fill="#e8342b" />
<circle cx="352.30" cy="246.29" r="1.95" fill="#e8342b" />
<circle cx="351.30" cy="246.82" r="1.95" fill="#e8342b" />
<circle cx="432.58" cy="204.84" r="1.95" fill="#e8342b" />
<circle cx="350.88" cy="225.73" r="1.95" fill="#e8342b" />
<circle cx="354.61" cy="224.82" r="1.95" fill="#e8342b" />
<circle cx="455.41" cy="216.60" r="1.95" fill="#e8342b" />
<circle cx="388.04" cy="218.01" r="1.95" fill="#e8342b" />
<circle cx="418.33" cy="227.83" r="1.95" fill="#e8342b" />
<circle cx="354.23" cy="222.31" r="1.95" fill="#e8342b" />
<circle cx="350.68" cy="226.63" r="1.95" fill="#e8342b" />
<circle cx="393.11" cy="231.54" r="1.95" fill="#e8342b" />
<circle cx="386.42" cy="230.23" r="1.95" fill="#e8342b" />
<circle cx="394.04" cy="227.15" r="1.95" fill="#e8342b" />
<circle cx="387.49" cy="226.89" r="1.95" fill="#e8342b" />
<circle cx="377.75" cy="255.87" r="1.95" fill="#e8342b" />
<circle cx="375.01" cy="261.81" r="1.95" fill="#e8342b" />
<circle cx="381.33" cy="216.72" r="1.95" fill="#e8342b" />
<circle cx="425.70" cy="207.39" r="1.95" fill="#e8342b" />
<circle cx="428.73" cy="208.54" r="1.95" fill="#e8342b" />
<circle cx="376.82" cy="259.89" r="1.95" fill="#e8342b" />
<circle cx="375.29" cy="259.06" r="1.95" fill="#e8342b" />
<circle cx="452.99" cy="230.14" r="1.95" fill="#e8342b" />
<circle cx="451.75" cy="229.93" r="1.95" fill="#e8342b" />
<circle cx="353.93" cy="254.34" r="1.95" fill="#e8342b" />
<circle cx="354.33" cy="254.84" r="1.95" fill="#e8342b" />
<circle cx="363.85" cy="253.10" r="1.95" fill="#e8342b" />
<circle cx="395.82" cy="229.91" r="1.95" fill="#e8342b" />
<circle cx="392.90" cy="234.51" r="1.95" fill="#e8342b" />
<circle cx="417.22" cy="201.70" r="1.95" fill="#e8342b" />
<circle cx="381.38" cy="210.05" r="1.95" fill="#e8342b" />
<circle cx="355.79" cy="200.92" r="1.95" fill="#e8342b" />
<circle cx="355.69" cy="199.26" r="1.95" fill="#e8342b" />
<circle cx="406.82" cy="224.06" r="1.95" fill="#e8342b" />
<circle cx="408.70" cy="222.63" r="1.95" fill="#e8342b" />
<circle cx="353.45" cy="223.70" r="1.95" fill="#e8342b" />
<circle cx="350.03" cy="220.13" r="1.95" fill="#e8342b" />
<circle cx="377.34" cy="247.80" r="1.95" fill="#e8342b" />
<circle cx="348.40" cy="216.29" r="1.95" fill="#e8342b" />
<circle cx="351.44" cy="225.15" r="1.95" fill="#e8342b" />
<circle cx="383.32" cy="198.95" r="1.95" fill="#e8342b" />
<circle cx="453.21" cy="234.05" r="1.95" fill="#e8342b" />
<circle cx="393.78" cy="239.81" r="1.95" fill="#e8342b" />
<circle cx="392.65" cy="242.50" r="1.95" fill="#e8342b" />
<circle cx="407.04" cy="214.72" r="1.95" fill="#e8342b" />
<circle cx="457.50" cy="218.94" r="1.95" fill="#e8342b" />
<circle cx="368.38" cy="210.91" r="1.95" fill="#e8342b" />
<circle cx="365.91" cy="214.36" r="1.95" fill="#e8342b" />
<circle cx="366.36" cy="210.82" r="1.95" fill="#e8342b" />
<circle cx="393.88" cy="237.26" r="1.95" fill="#e8342b" />
<circle cx="389.61" cy="241.90" r="1.95" fill="#e8342b" />
<circle cx="453.85" cy="209.75" r="1.95" fill="#e8342b" />
<circle cx="450.91" cy="207.62" r="1.95" fill="#e8342b" />
<circle cx="452.88" cy="206.93" r="1.95" fill="#e8342b" />
<circle cx="369.47" cy="228.66" r="1.95" fill="#e8342b" />
<circle cx="366.77" cy="202.02" r="1.95" fill="#e8342b" />
<circle cx="394.72" cy="228.26" r="1.95" fill="#e8342b" />
<circle cx="385.32" cy="220.47" r="1.95" fill="#e8342b" />
<circle cx="389.09" cy="224.16" r="1.95" fill="#e8342b" />
<circle cx="355.73" cy="232.32" r="1.95" fill="#e8342b" />
<circle cx="356.98" cy="231.07" r="1.95" fill="#e8342b" />
<circle cx="368.32" cy="206.47" r="1.95" fill="#e8342b" />
<circle cx="366.83" cy="204.95" r="1.95" fill="#e8342b" />
<circle cx="364.45" cy="207.69" r="1.95" fill="#e8342b" />
<circle cx="370.12" cy="249.29" r="1.95" fill="#e8342b" />
<circle cx="354.07" cy="208.58" r="1.95" fill="#e8342b" />
<circle cx="360.08" cy="209.20" r="1.95" fill="#e8342b" />
<circle cx="355.49" cy="214.30" r="1.95" fill="#e8342b" />
<circle cx="368.26" cy="258.45" r="1.95" fill="#e8342b" />
<circle cx="366.05" cy="262.24" r="1.95" fill="#e8342b" />
<circle cx="366.14" cy="260.40" r="1.95" fill="#e8342b" />
<circle cx="367.85" cy="261.72" r="1.95" fill="#e8342b" />
<circle cx="379.49" cy="199.21" r="1.95" fill="#e8342b" />
<circle cx="379.01" cy="201.88" r="1.95" fill="#e8342b" />
<circle cx="392.72" cy="244.26" r="1.95" fill="#e8342b" />
<circle cx="371.65" cy="235.89" r="1.95" fill="#e8342b" />
<circle cx="371.67" cy="262.01" r="1.95" fill="#e8342b" />
<circle cx="367.17" cy="259.57" r="1.95" fill="#e8342b" />
<circle cx="408.68" cy="218.31" r="1.95" fill="#e8342b" />
<circle cx="404.41" cy="222.07" r="1.95" fill="#e8342b" />
<circle cx="368.69" cy="243.08" r="1.95" fill="#e8342b" />
<circle cx="363.69" cy="253.06" r="1.95" fill="#e8342b" />
<circle cx="381.14" cy="224.33" r="1.95" fill="#e8342b" />
<circle cx="377.66" cy="209.17" r="1.95" fill="#e8342b" />
<circle cx="381.66" cy="209.80" r="1.95" fill="#e8342b" />
<circle cx="401.87" cy="243.63" r="1.95" fill="#e8342b" />
<circle cx="402.30" cy="244.05" r="1.95" fill="#e8342b" />
<circle cx="403.57" cy="246.09" r="1.95" fill="#e8342b" />
<circle cx="415.08" cy="203.60" r="1.95" fill="#e8342b" />
<circle cx="391.36" cy="226.28" r="1.95" fill="#e8342b" />
<circle cx="376.85" cy="239.11" r="1.95" fill="#e8342b" />
<circle cx="372.63" cy="245.31" r="1.95" fill="#e8342b" />
<circle cx="386.87" cy="240.56" r="1.95" fill="#e8342b" />
<circle cx="390.10" cy="207.09" r="1.95" fill="#e8342b" />
<circle cx="368.68" cy="233.44" r="1.95" fill="#e8342b" />
<circle cx="368.75" cy="240.26" r="1.95" fill="#e8342b" />
<circle cx="371.49" cy="239.85" r="1.95" fill="#e8342b" />
<circle cx="383.16" cy="207.77" r="1.95" fill="#e8342b" />
<circle cx="380.67" cy="211.65" r="1.95" fill="#e8342b" />
<circle cx="452.16" cy="231.43" r="1.95" fill="#e8342b" />
<circle cx="456.10" cy="227.49" r="1.95" fill="#e8342b" />
<circle cx="426.50" cy="229.60" r="1.95" fill="#e8342b" />
<circle cx="349.88" cy="216.23" r="1.95" fill="#e8342b" />
<circle cx="356.94" cy="214.86" r="1.95" fill="#e8342b" />
<circle cx="394.55" cy="238.16" r="1.95" fill="#e8342b" />
<circle cx="396.79" cy="234.82" r="1.95" fill="#e8342b" />
<circle cx="382.01" cy="249.70" r="1.95" fill="#e8342b" />
<circle cx="392.19" cy="216.90" r="1.95" fill="#e8342b" />
<circle cx="354.65" cy="213.75" r="1.95" fill="#e8342b" />
<circle cx="419.92" cy="232.31" r="1.95" fill="#e8342b" />
<circle cx="421.26" cy="225.80" r="1.95" fill="#e8342b" />
<circle cx="446.30" cy="212.55" r="1.95" fill="#e8342b" />
<circle cx="455.30" cy="215.88" r="1.95" fill="#e8342b" />
<circle cx="451.43" cy="217.86" r="1.95" fill="#e8342b" />
<circle cx="449.00" cy="215.03" r="1.95" fill="#e8342b" />
<circle cx="451.87" cy="215.55" r="1.95" fill="#e8342b" />
<circle cx="418.98" cy="205.66" r="1.95" fill="#e8342b" />
<circle cx="411.55" cy="200.26" r="1.95" fill="#e8342b" />
<circle cx="415.59" cy="203.72" r="1.95" fill="#e8342b" />
<circle cx="375.83" cy="247.68" r="1.95" fill="#e8342b" />
<circle cx="365.73" cy="239.90" r="1.95" fill="#e8342b" />
<circle cx="365.80" cy="243.81" r="1.95" fill="#e8342b" />
<circle cx="369.97" cy="243.07" r="1.95" fill="#e8342b" />
<circle cx="367.62" cy="245.55" r="1.95" fill="#e8342b" />
<circle cx="374.12" cy="212.16" r="1.95" fill="#e8342b" />
<circle cx="375.09" cy="210.84" r="1.95" fill="#e8342b" />
<circle cx="358.78" cy="262.07" r="1.95" fill="#e8342b" />
<circle cx="367.56" cy="223.78" r="1.95" fill="#e8342b" />
<circle cx="362.55" cy="241.16" r="1.95" fill="#e8342b" />
<circle cx="386.29" cy="244.88" r="1.95" fill="#e8342b" />
<circle cx="380.64" cy="201.10" r="1.95" fill="#e8342b" />
<circle cx="383.97" cy="202.67" r="1.95" fill="#e8342b" />
<circle cx="427.24" cy="223.45" r="1.95" fill="#e8342b" />
<circle cx="427.28" cy="226.13" r="1.95" fill="#e8342b" />
<circle cx="428.69" cy="224.84" r="1.95" fill="#e8342b" />
<circle cx="426.14" cy="226.01" r="1.95" fill="#e8342b" />
<circle cx="430.97" cy="219.72" r="1.95" fill="#e8342b" />
<circle cx="372.92" cy="230.96" r="1.95" fill="#e8342b" />
<circle cx="380.98" cy="226.87" r="1.95" fill="#e8342b" />
<circle cx="390.87" cy="221.63" r="1.95" fill="#e8342b" />
<circle cx="390.99" cy="215.09" r="1.95" fill="#e8342b" />
<circle cx="389.37" cy="222.11" r="1.95" fill="#e8342b" />
<circle cx="373.46" cy="244.03" r="1.95" fill="#e8342b" />
<circle cx="380.26" cy="242.75" r="1.95" fill="#e8342b" />
<circle cx="378.25" cy="245.15" r="1.95" fill="#e8342b" />
<circle cx="378.26" cy="241.76" r="1.95" fill="#e8342b" />
<circle cx="366.71" cy="240.27" r="1.95" fill="#e8342b" />
<circle cx="373.29" cy="238.05" r="1.95" fill="#e8342b" />
<circle cx="372.59" cy="244.24" r="1.95" fill="#e8342b" />
<circle cx="364.20" cy="244.58" r="1.95" fill="#e8342b" />
<circle cx="372.67" cy="239.83" r="1.95" fill="#e8342b" />
<circle cx="396.09" cy="214.46" r="1.95" fill="#e8342b" />
<circle cx="347.38" cy="235.86" r="1.95" fill="#e8342b" />
<circle cx="352.58" cy="239.44" r="1.95" fill="#e8342b" />
<circle cx="410.95" cy="209.38" r="1.95" fill="#e8342b" />
<circle cx="412.93" cy="216.92" r="1.95" fill="#e8342b" />
<circle cx="411.05" cy="215.54" r="1.95" fill="#e8342b" />
<circle cx="410.75" cy="216.04" r="1.95" fill="#e8342b" />
<circle cx="406.03" cy="202.26" r="1.95" fill="#e8342b" />
<circle cx="429.78" cy="215.78" r="1.95" fill="#e8342b" />
<circle cx="458.21" cy="210.87" r="1.95" fill="#e8342b" />
<circle cx="453.06" cy="213.91" r="1.95" fill="#e8342b" />
<circle cx="375.49" cy="233.79" r="1.95" fill="#e8342b" />
<circle cx="375.66" cy="231.43" r="1.95" fill="#e8342b" />
<circle cx="371.63" cy="230.48" r="1.95" fill="#e8342b" />
<circle cx="366.83" cy="232.53" r="1.95" fill="#e8342b" />
<circle cx="377.03" cy="260.39" r="1.95" fill="#e8342b" />
<circle cx="376.81" cy="261.17" r="1.95" fill="#e8342b" />
<circle cx="382.80" cy="227.16" r="1.95" fill="#e8342b" />
<circle cx="378.98" cy="225.31" r="1.95" fill="#e8342b" />
<circle cx="382.22" cy="221.11" r="1.95" fill="#e8342b" />
<circle cx="405.36" cy="239.27" r="1.95" fill="#e8342b" />
<circle cx="414.12" cy="233.96" r="1.95" fill="#e8342b" />
<circle cx="407.84" cy="223.99" r="1.95" fill="#e8342b" />
<circle cx="349.96" cy="230.54" r="1.95" fill="#e8342b" />
<circle cx="353.75" cy="228.80" r="1.95" fill="#e8342b" />
<circle cx="353.74" cy="229.85" r="1.95" fill="#e8342b" />
<circle cx="347.97" cy="230.34" r="1.95" fill="#e8342b" />
<circle cx="353.93" cy="230.59" r="1.95" fill="#e8342b" />
<circle cx="428.55" cy="223.43" r="1.95" fill="#e8342b" />
<circle cx="433.34" cy="232.78" r="1.95" fill="#e8342b" />
<circle cx="445.15" cy="234.64" r="1.95" fill="#e8342b" />
<circle cx="390.39" cy="233.83" r="1.95" fill="#e8342b" />
<circle cx="381.03" cy="201.50" r="1.95" fill="#e8342b" />
<circle cx="368.42" cy="243.71" r="1.95" fill="#e8342b" />
<circle cx="347.84" cy="198.92" r="1.95" fill="#e8342b" />
<circle cx="365.94" cy="250.26" r="1.95" fill="#e8342b" />
<circle cx="366.82" cy="255.51" r="1.95" fill="#e8342b" />
<circle cx="368.02" cy="255.14" r="1.95" fill="#e8342b" />
<circle cx="363.88" cy="246.17" r="1.95" fill="#e8342b" />
<circle cx="369.63" cy="250.63" r="1.95" fill="#e8342b" />
<circle cx="370.45" cy="253.96" r="1.95" fill="#e8342b" />
<circle cx="389.66" cy="247.70" r="1.95" fill="#e8342b" />
<circle cx="422.57" cy="223.92" r="1.95" fill="#e8342b" />
<circle cx="396.46" cy="203.09" r="1.95" fill="#e8342b" />
<circle cx="397.76" cy="199.54" r="1.95" fill="#e8342b" />
<circle cx="447.74" cy="213.50" r="1.95" fill="#e8342b" />
<circle cx="440.72" cy="220.80" r="1.95" fill="#e8342b" />
<circle cx="363.61" cy="231.07" r="1.95" fill="#e8342b" />
<circle cx="365.16" cy="232.59" r="1.95" fill="#e8342b" />
<circle cx="363.13" cy="235.24" r="1.95" fill="#e8342b" />
<circle cx="389.66" cy="206.97" r="1.95" fill="#e8342b" />
<circle cx="401.82" cy="208.43" r="1.95" fill="#e8342b" />
<circle cx="386.93" cy="231.19" r="1.95" fill="#e8342b" />
<circle cx="353.75" cy="223.66" r="1.95" fill="#e8342b" />
<circle cx="351.63" cy="217.88" r="1.95" fill="#e8342b" />
<circle cx="352.88" cy="215.02" r="1.95" fill="#e8342b" />
<circle cx="406.17" cy="204.05" r="1.95" fill="#e8342b" />
<circle cx="380.76" cy="201.88" r="1.95" fill="#e8342b" />
<circle cx="389.52" cy="202.98" r="1.95" fill="#e8342b" />
<circle cx="358.84" cy="210.84" r="1.95" fill="#e8342b" />
<circle cx="356.53" cy="205.65" r="1.95" fill="#e8342b" />
<circle cx="397.59" cy="202.66" r="1.95" fill="#e8342b" />
<circle cx="399.46" cy="203.40" r="1.95" fill="#e8342b" />
<circle cx="396.54" cy="200.65" r="1.95" fill="#e8342b" />
<circle cx="390.89" cy="220.54" r="1.95" fill="#e8342b" />
<circle cx="372.49" cy="221.63" r="1.95" fill="#e8342b" />
<circle cx="361.30" cy="245.07" r="1.95" fill="#e8342b" />
<circle cx="361.28" cy="208.52" r="1.95" fill="#e8342b" />
<circle cx="403.64" cy="201.85" r="1.95" fill="#e8342b" />
<circle cx="349.54" cy="200.58" r="1.95" fill="#e8342b" />
<circle cx="411.12" cy="218.11" r="1.95" fill="#e8342b" />
<circle cx="414.72" cy="215.81" r="1.95" fill="#e8342b" />
<circle cx="411.08" cy="235.87" r="1.95" fill="#e8342b" />
<circle cx="453.76" cy="210.74" r="1.95" fill="#e8342b" />
<circle cx="401.41" cy="225.57" r="1.95" fill="#e8342b" />
<circle cx="356.41" cy="232.26" r="1.95" fill="#e8342b" />
<circle cx="358.51" cy="232.44" r="1.95" fill="#e8342b" />
<circle cx="435.87" cy="215.33" r="1.95" fill="#e8342b" />
<circle cx="440.80" cy="210.84" r="1.95" fill="#e8342b" />
<circle cx="454.39" cy="235.58" r="1.95" fill="#e8342b" />
<circle cx="453.68" cy="236.19" r="1.95" fill="#e8342b" />
<circle cx="456.85" cy="234.59" r="1.95" fill="#e8342b" />
<circle cx="398.30" cy="219.60" r="2.3" fill="#3b52a3" />
<circle cx="388.20" cy="236.40" r="2.3" fill="#3b52a3" />
<g clip-path="url(#cg3)">
<rect x="332.80" y="291.70" width="136.70" height="108.60" fill="#ececec" />
<rect x="332.8" y="291.7" width="136.7" height="108.6" filter="url(#tg3)" opacity="1.0"/>
</g>
<line x1="332.80" y1="325.10" x2="468.30" y2="335.40" stroke="#111" stroke-width="0.9" />
<line x1="332.80" y1="370.60" x2="464.40" y2="364.60" stroke="#111" stroke-width="0.9" />
<circle cx="420.22" cy="357.35" r="2.2" fill="#e8342b" />
<circle cx="416.26" cy="358.75" r="2.2" fill="#e8342b" />
<circle cx="349.15" cy="344.39" r="2.2" fill="#e8342b" />
<circle cx="345.03" cy="330.27" r="2.2" fill="#e8342b" />
<circle cx="357.48" cy="360.81" r="2.2" fill="#e8342b" />
<circle cx="448.31" cy="343.32" r="2.2" fill="#e8342b" />
<circle cx="374.88" cy="349.71" r="2.2" fill="#e8342b" />
<circle cx="375.74" cy="366.07" r="2.2" fill="#e8342b" />
<circle cx="340.87" cy="361.20" r="2.2" fill="#e8342b" />
<circle cx="346.41" cy="335.80" r="2.2" fill="#e8342b" />
<circle cx="343.18" cy="333.37" r="2.2" fill="#e8342b" />
<circle cx="339.62" cy="330.24" r="2.2" fill="#e8342b" />
<circle cx="352.81" cy="358.79" r="2.2" fill="#e8342b" />
<circle cx="353.53" cy="358.98" r="2.2" fill="#e8342b" />
<circle cx="377.26" cy="358.30" r="2.2" fill="#e8342b" />
<circle cx="378.42" cy="351.81" r="2.2" fill="#e8342b" />
<circle cx="380.15" cy="354.25" r="2.2" fill="#e8342b" />
<circle cx="382.41" cy="353.35" r="2.2" fill="#e8342b" />
<circle cx="460.68" cy="352.69" r="2.2" fill="#e8342b" />
<circle cx="446.91" cy="347.07" r="2.2" fill="#e8342b" />
<circle cx="346.34" cy="350.24" r="2.2" fill="#e8342b" />
<circle cx="347.05" cy="345.37" r="2.2" fill="#e8342b" />
<circle cx="343.36" cy="345.29" r="2.2" fill="#e8342b" />
<circle cx="448.77" cy="336.71" r="2.2" fill="#e8342b" />
<circle cx="458.61" cy="341.28" r="2.2" fill="#e8342b" />
<circle cx="368.38" cy="348.44" r="2.2" fill="#e8342b" />
<circle cx="456.37" cy="354.45" r="2.2" fill="#e8342b" />
<circle cx="369.10" cy="365.13" r="2.2" fill="#e8342b" />
<circle cx="373.21" cy="356.54" r="2.2" fill="#e8342b" />
<circle cx="369.89" cy="356.76" r="2.2" fill="#e8342b" />
<circle cx="378.58" cy="357.69" r="2.2" fill="#e8342b" />
<circle cx="427.74" cy="336.97" r="2.2" fill="#e8342b" />
<circle cx="423.96" cy="341.17" r="2.2" fill="#e8342b" />
<circle cx="418.60" cy="337.97" r="2.2" fill="#e8342b" />
<circle cx="415.60" cy="358.02" r="2.2" fill="#e8342b" />
<circle cx="444.00" cy="336.16" r="2.2" fill="#e8342b" />
<circle cx="448.30" cy="338.38" r="2.2" fill="#e8342b" />
<circle cx="437.21" cy="339.08" r="2.2" fill="#e8342b" />
<circle cx="354.89" cy="364.49" r="2.2" fill="#e8342b" />
<circle cx="358.52" cy="359.06" r="2.2" fill="#e8342b" />
<circle cx="355.56" cy="361.67" r="2.2" fill="#e8342b" />
<circle cx="387.63" cy="349.56" r="2.2" fill="#e8342b" />
<circle cx="392.50" cy="353.49" r="2.2" fill="#e8342b" />
<circle cx="391.59" cy="350.61" r="2.2" fill="#e8342b" />
<circle cx="345.66" cy="346.12" r="2.2" fill="#e8342b" />
<circle cx="381.31" cy="331.82" r="2.2" fill="#e8342b" />
<circle cx="386.27" cy="359.05" r="2.2" fill="#e8342b" />
<circle cx="388.84" cy="352.60" r="2.2" fill="#e8342b" />
<circle cx="374.68" cy="339.97" r="2.2" fill="#e8342b" />
<circle cx="340.81" cy="351.91" r="2.2" fill="#e8342b" />
<circle cx="437.87" cy="340.71" r="2.2" fill="#e8342b" />
<circle cx="442.21" cy="346.10" r="2.2" fill="#e8342b" />
<circle cx="432.74" cy="340.01" r="2.2" fill="#e8342b" />
<circle cx="458.17" cy="352.35" r="2.2" fill="#e8342b" />
<circle cx="354.95" cy="353.56" r="2.2" fill="#e8342b" />
<circle cx="354.53" cy="348.45" r="2.2" fill="#e8342b" />
<circle cx="394.99" cy="332.81" r="2.2" fill="#e8342b" />
<circle cx="409.18" cy="335.06" r="2.2" fill="#e8342b" />
<circle cx="408.65" cy="342.83" r="2.2" fill="#e8342b" />
<circle cx="409.82" cy="335.12" r="2.2" fill="#e8342b" />
<circle cx="410.77" cy="335.21" r="2.2" fill="#e8342b" />
<circle cx="378.74" cy="361.39" r="2.2" fill="#e8342b" />
<circle cx="375.50" cy="358.88" r="2.2" fill="#e8342b" />
<circle cx="409.86" cy="342.73" r="2.2" fill="#e8342b" />
<circle cx="417.52" cy="349.16" r="2.2" fill="#e8342b" />
<circle cx="374.92" cy="352.20" r="2.2" fill="#e8342b" />
<circle cx="395.43" cy="339.61" r="2.2" fill="#e8342b" />
<circle cx="396.06" cy="343.36" r="2.2" fill="#e8342b" />
<circle cx="433.64" cy="339.29" r="2.2" fill="#e8342b" />
<circle cx="428.17" cy="344.14" r="2.2" fill="#e8342b" />
<circle cx="387.24" cy="343.97" r="2.2" fill="#e8342b" />
<circle cx="386.95" cy="340.62" r="2.2" fill="#e8342b" />
<circle cx="388.80" cy="337.64" r="2.2" fill="#e8342b" />
<circle cx="393.65" cy="335.43" r="2.2" fill="#e8342b" />
<circle cx="388.49" cy="336.83" r="2.2" fill="#e8342b" />
<circle cx="395.51" cy="335.72" r="2.2" fill="#e8342b" />
<circle cx="348.56" cy="329.22" r="2.2" fill="#e8342b" />
<circle cx="352.16" cy="334.27" r="2.2" fill="#e8342b" />
<circle cx="358.05" cy="332.07" r="2.2" fill="#e8342b" />
<circle cx="359.63" cy="356.08" r="2.2" fill="#e8342b" />
<circle cx="347.24" cy="349.65" r="2.2" fill="#e8342b" />
<circle cx="343.71" cy="351.85" r="2.2" fill="#e8342b" />
<circle cx="412.11" cy="347.20" r="2.2" fill="#e8342b" />
<circle cx="412.27" cy="344.86" r="2.2" fill="#e8342b" />
<circle cx="410.41" cy="343.86" r="2.2" fill="#e8342b" />
<circle cx="416.06" cy="344.44" r="2.2" fill="#e8342b" />
<circle cx="415.24" cy="340.16" r="2.2" fill="#e8342b" />
<circle cx="369.87" cy="344.84" r="2.2" fill="#e8342b" />
<circle cx="367.12" cy="339.51" r="2.2" fill="#e8342b" />
<circle cx="356.81" cy="349.30" r="2.2" fill="#e8342b" />
<circle cx="378.61" cy="360.84" r="2.2" fill="#e8342b" />
<circle cx="418.82" cy="361.05" r="2.2" fill="#e8342b" />
<circle cx="366.19" cy="341.07" r="2.2" fill="#e8342b" />
<circle cx="371.61" cy="342.94" r="2.2" fill="#e8342b" />
<circle cx="420.85" cy="359.32" r="2.2" fill="#e8342b" />
<circle cx="410.82" cy="351.49" r="2.2" fill="#e8342b" />
<circle cx="413.87" cy="351.08" r="2.2" fill="#e8342b" />
<circle cx="343.86" cy="366.37" r="2.2" fill="#e8342b" />
<circle cx="416.60" cy="344.45" r="2.2" fill="#e8342b" />
<circle cx="359.82" cy="339.55" r="2.2" fill="#e8342b" />
<circle cx="369.74" cy="338.01" r="2.2" fill="#e8342b" />
<circle cx="445.60" cy="341.73" r="2.2" fill="#e8342b" />
<circle cx="456.01" cy="343.46" r="2.2" fill="#e8342b" />
<circle cx="451.57" cy="344.79" r="2.2" fill="#e8342b" />
<circle cx="382.80" cy="342.36" r="2.2" fill="#e8342b" />
<circle cx="366.65" cy="353.08" r="2.2" fill="#e8342b" />
<circle cx="368.92" cy="355.56" r="2.2" fill="#e8342b" />
<circle cx="373.42" cy="357.56" r="2.2" fill="#e8342b" />
<circle cx="367.82" cy="356.10" r="2.2" fill="#e8342b" />
<circle cx="408.62" cy="342.28" r="2.2" fill="#e8342b" />
<circle cx="344.77" cy="334.81" r="2.2" fill="#e8342b" />
<circle cx="371.21" cy="342.64" r="2.2" fill="#e8342b" />
<circle cx="403.81" cy="343.43" r="2.2" fill="#e8342b" />
<circle cx="347.46" cy="345.67" r="2.2" fill="#e8342b" />
<circle cx="352.41" cy="349.65" r="2.2" fill="#e8342b" />
<circle cx="348.92" cy="348.24" r="2.2" fill="#e8342b" />
<circle cx="349.65" cy="347.83" r="2.2" fill="#e8342b" />
<circle cx="414.73" cy="361.35" r="2.2" fill="#e8342b" />
<circle cx="416.87" cy="356.39" r="2.2" fill="#e8342b" />
<circle cx="417.82" cy="360.01" r="2.2" fill="#e8342b" />
<circle cx="349.17" cy="362.08" r="2.2" fill="#e8342b" />
<circle cx="351.74" cy="361.73" r="2.2" fill="#e8342b" />
<circle cx="352.52" cy="362.22" r="2.2" fill="#e8342b" />
<circle cx="366.13" cy="338.12" r="2.2" fill="#e8342b" />
<circle cx="381.09" cy="356.96" r="2.2" fill="#e8342b" />
<circle cx="434.23" cy="346.74" r="2.2" fill="#e8342b" />
<circle cx="455.26" cy="359.47" r="2.2" fill="#e8342b" />
<circle cx="347.77" cy="360.36" r="2.2" fill="#e8342b" />
<circle cx="358.92" cy="338.56" r="2.2" fill="#e8342b" />
<circle cx="355.38" cy="343.01" r="2.2" fill="#e8342b" />
<circle cx="353.26" cy="341.90" r="2.2" fill="#e8342b" />
<circle cx="340.34" cy="349.89" r="2.2" fill="#e8342b" />
<circle cx="339.71" cy="348.06" r="2.2" fill="#e8342b" />
<circle cx="396.48" cy="336.71" r="2.2" fill="#e8342b" />
<circle cx="439.92" cy="342.87" r="2.2" fill="#e8342b" />
<circle cx="408.34" cy="347.40" r="2.2" fill="#e8342b" />
<circle cx="409.63" cy="348.08" r="2.2" fill="#e8342b" />
<circle cx="407.36" cy="345.02" r="2.2" fill="#e8342b" />
<circle cx="380.03" cy="332.36" r="2.2" fill="#e8342b" />
<circle cx="385.79" cy="338.84" r="2.2" fill="#e8342b" />
<circle cx="381.44" cy="334.46" r="2.2" fill="#e8342b" />
<circle cx="382.93" cy="335.61" r="2.2" fill="#e8342b" />
<circle cx="361.07" cy="356.39" r="2.2" fill="#e8342b" />
<circle cx="419.23" cy="362.25" r="2.2" fill="#e8342b" />
<circle cx="385.74" cy="340.59" r="2.2" fill="#e8342b" />
<circle cx="403.04" cy="356.56" r="2.2" fill="#e8342b" />
<circle cx="447.41" cy="355.41" r="2.2" fill="#e8342b" />
<circle cx="450.02" cy="359.70" r="2.2" fill="#e8342b" />
<circle cx="423.71" cy="348.71" r="2.2" fill="#e8342b" />
<circle cx="382.20" cy="348.52" r="2.2" fill="#e8342b" />
<circle cx="384.94" cy="349.99" r="2.2" fill="#e8342b" />
<circle cx="435.32" cy="352.74" r="2.2" fill="#e8342b" />
<circle cx="434.26" cy="351.32" r="2.2" fill="#e8342b" />
<circle cx="430.09" cy="354.18" r="2.2" fill="#e8342b" />
<circle cx="425.32" cy="354.83" r="2.2" fill="#e8342b" />
<circle cx="404.46" cy="342.87" r="2.2" fill="#e8342b" />
<circle cx="454.50" cy="355.57" r="2.2" fill="#e8342b" />
<circle cx="408.64" cy="356.41" r="2.2" fill="#e8342b" />
<circle cx="378.04" cy="334.29" r="2.2" fill="#e8342b" />
<circle cx="373.15" cy="331.59" r="2.2" fill="#e8342b" />
<circle cx="408.18" cy="360.43" r="2.2" fill="#e8342b" />
<circle cx="410.71" cy="362.08" r="2.2" fill="#e8342b" />
<circle cx="373.82" cy="352.96" r="2.2" fill="#e8342b" />
<circle cx="376.42" cy="354.83" r="2.2" fill="#e8342b" />
<circle cx="372.01" cy="351.11" r="2.2" fill="#e8342b" />
<circle cx="375.01" cy="356.02" r="2.2" fill="#e8342b" />
<circle cx="370.75" cy="348.62" r="2.2" fill="#e8342b" />
<circle cx="394.42" cy="358.31" r="2.2" fill="#e8342b" />
<circle cx="400.46" cy="360.86" r="2.2" fill="#e8342b" />
<circle cx="352.84" cy="332.63" r="2.2" fill="#e8342b" />
<circle cx="447.30" cy="354.70" r="2.2" fill="#3b52a3" />
<text x="404.50" y="16.20" font-family="Liberation Sans" font-size="20.5" text-anchor="middle" dominant-baseline="central" fill="#000"  textLength="46.7" lengthAdjust="spacingAndGlyphs">Child</text>
<text x="328.80" y="21.00" font-family="Liberation Sans" font-size="26.4" text-anchor="start" dominant-baseline="alphabetic" fill="#000" >g</text>
<g clip-path="url(#ch1)">
<rect x="479.30" y="38.50" width="136.70" height="125.00" fill="#f3f3f3" />
<rect x="479.3" y="38.5" width="136.7" height="125" filter="url(#th1)" opacity="1.0"/>
<path d="M600 38L616 38L616 70Z" fill="#fff"/>
</g>
<path d="M603 40Q612 50 616 62" stroke="#bbb" stroke-width="0.6" fill="none" />
<path d="M491.50 146.70C493.37 140.55 498.50 121.40 502.70 109.80C506.90 98.20 511.63 86.05 516.70 77.10C521.77 68.15 526.67 60.70 533.10 56.10C539.53 51.50 548.30 49.50 555.30 49.50C562.30 49.50 569.07 51.88 575.10 56.10C581.13 60.32 586.83 67.80 591.50 74.80C596.17 81.80 600.10 89.67 603.10 98.10C606.10 106.53 608.43 120.85 609.50 125.40" stroke="#1d3347" stroke-width="1.0" fill="none" />
<path d="M504.60 156.50C505.83 151.05 508.82 132.37 512.00 123.80C515.18 115.23 519.42 109.97 523.70 105.10C527.98 100.23 533.80 96.73 537.70 94.60C541.60 92.47 543.20 92.10 547.10 92.30C551.00 92.50 556.82 93.67 561.10 95.80C565.38 97.93 568.90 100.82 572.80 105.10C576.70 109.38 581.38 115.27 584.50 121.50C587.62 127.73 590.33 139.00 591.50 142.50" stroke="#1d3347" stroke-width="1.0" fill="none" />
<circle cx="527.20" cy="65.90" r="2.2" fill="#3b52a3" />
<circle cx="570.90" cy="60.70" r="2.2" fill="#3b52a3" />
<circle cx="577.90" cy="71.70" r="2.2" fill="#3b52a3" />
<circle cx="581.00" cy="79.90" r="2.2" fill="#3b52a3" />
<circle cx="588.70" cy="85.30" r="2.2" fill="#3b52a3" />
<circle cx="587.30" cy="93.40" r="2.2" fill="#3b52a3" />
<circle cx="591.50" cy="93.40" r="2.2" fill="#3b52a3" />
<circle cx="540.10" cy="82.20" r="2.2" fill="#3b52a3" />
<circle cx="561.80" cy="91.80" r="2.2" fill="#3b52a3" />
<circle cx="512.50" cy="91.60" r="2.2" fill="#3b52a3" />
<circle cx="510.20" cy="107.50" r="2.2" fill="#3b52a3" />
<circle cx="507.40" cy="111.00" r="2.2" fill="#3b52a3" />
<circle cx="600.80" cy="116.10" r="2.2" fill="#3b52a3" />
<circle cx="504.60" cy="141.30" r="2.2" fill="#3b52a3" />
<circle cx="504.30" cy="143.70" r="2.2" fill="#3b52a3" />
<circle cx="531.40" cy="75.20" r="2.2" fill="#e8342b" />
<circle cx="529.80" cy="80.60" r="2.2" fill="#e8342b" />
<circle cx="574.40" cy="104.60" r="2.2" fill="#e8342b" />
<g clip-path="url(#ch2)">
<rect x="475.10" y="171.20" width="144.40" height="113.10" fill="#efefef" />
<rect x="475.1" y="171.2" width="144.4" height="113.1" filter="url(#th2)" opacity="1.0"/>
<path d="M475 171L528 171L570 183L600 198L620 208L620 222L600 212L575 203L549 200L525 206L505 218L490 236L475 250Z" fill="#000" opacity="0.05" filter="url(#bl3)"/>
<path d="M505 262L530 250L575 248L620 252L620 300L505 300Z" fill="#fff" opacity="0.35" filter="url(#bl3)"/>
<path d="M480 241L497 236L522 238L548 247L540 253L515 251L495 253L482 256Z" fill="#fff" opacity="0.85" filter="url(#bl3)"/>
<path d="M475 254L490 250L505 262L498 286L475 286Z" fill="#000" opacity="0.06" filter="url(#bl3)"/>
<path d="M528 171L620 171L620 207L600 197L570 182Z" fill="#fff"/>
</g>
<path d="M490.60 237.10C493.00 234.25 499.27 225.02 505.00 220.00C510.73 214.98 517.60 210.07 525.00 207.00C532.40 203.93 541.07 202.10 549.40 201.60C557.73 201.10 566.57 202.10 575.00 204.00C583.43 205.90 592.58 209.63 600.00 213.00C607.42 216.37 616.25 222.33 619.50 224.20" stroke="#111" stroke-width="0.9" fill="none" />
<path d="M504.60 284.30C506.33 281.58 510.77 273.05 515.00 268.00C519.23 262.95 524.17 257.67 530.00 254.00C535.83 250.33 543.27 247.73 550.00 246.00C556.73 244.27 562.90 243.43 570.40 243.60C577.90 243.77 586.82 245.05 595.00 247.00C603.18 248.95 615.42 253.92 619.50 255.30" stroke="#111" stroke-width="0.9" fill="none" />
<circle cx="552.50" cy="203.70" r="2.3" fill="#3b52a3" />
<circle cx="533.50" cy="214.90" r="2.3" fill="#3b52a3" />
<circle cx="560.60" cy="220.00" r="2.3" fill="#3b52a3" />
<circle cx="498.00" cy="230.10" r="2.3" fill="#3b52a3" />
<circle cx="506.90" cy="228.40" r="2.3" fill="#3b52a3" />
<circle cx="520.90" cy="248.80" r="2.3" fill="#3b52a3" />
<circle cx="555.70" cy="244.10" r="2.3" fill="#3b52a3" />
<circle cx="565.80" cy="242.90" r="2.3" fill="#3b52a3" />
<circle cx="552.50" cy="209.50" r="2.3" fill="#e8342b" />
<circle cx="591.50" cy="226.30" r="2.3" fill="#e8342b" />
<circle cx="602.40" cy="241.80" r="2.3" fill="#e8342b" />
<g clip-path="url(#ch3)">
<rect x="475.80" y="291.70" width="145.60" height="96.90" fill="#e9e9e9" />
<rect x="475.8" y="291.7" width="145.6" height="96.9" filter="url(#th3)" opacity="1.0"/>
</g>
<line x1="487.50" y1="327.90" x2="598.90" y2="321.60" stroke="#111" stroke-width="0.9" />
<path d="M475.80 361.30C479.00 360.58 488.97 357.90 495.00 357.00C501.03 356.10 504.50 355.73 512.00 355.90C519.50 356.07 530.33 356.65 540.00 358.00C549.67 359.35 560.83 361.67 570.00 364.00C579.17 366.33 586.95 368.87 595.00 372.00C603.05 375.13 614.42 381.00 618.30 382.80" stroke="#1d3347" stroke-width="1.0" fill="none" />
<circle cx="562.71" cy="353.61" r="2.3" fill="#e8342b" />
<circle cx="596.75" cy="335.86" r="2.3" fill="#e8342b" />
<circle cx="573.96" cy="366.54" r="2.3" fill="#e8342b" />
<circle cx="609.42" cy="331.33" r="2.3" fill="#e8342b" />
<circle cx="573.94" cy="352.86" r="2.3" fill="#e8342b" />
<circle cx="556.90" cy="344.26" r="2.3" fill="#3b52a3" />
<circle cx="614.21" cy="353.78" r="2.3" fill="#3b52a3" />
<circle cx="525.58" cy="337.46" r="2.3" fill="#3b52a3" />
<circle cx="567.85" cy="358.79" r="2.3" fill="#3b52a3" />
<circle cx="612.06" cy="349.78" r="2.3" fill="#e8342b" />
<circle cx="619.24" cy="336.22" r="2.3" fill="#e8342b" />
<circle cx="517.49" cy="335.64" r="2.3" fill="#e8342b" />
<circle cx="538.40" cy="331.27" r="2.3" fill="#e8342b" />
<circle cx="604.44" cy="359.37" r="2.3" fill="#e8342b" />
<circle cx="561.23" cy="328.19" r="2.3" fill="#3b52a3" />
<circle cx="522.01" cy="332.14" r="2.3" fill="#3b52a3" />
<circle cx="547.18" cy="345.67" r="2.3" fill="#3b52a3" />
<circle cx="533.41" cy="348.95" r="2.3" fill="#3b52a3" />
<circle cx="550.40" cy="340.96" r="2.3" fill="#e8342b" />
<circle cx="591.71" cy="327.55" r="2.3" fill="#e8342b" />
<circle cx="496.07" cy="352.09" r="2.3" fill="#e8342b" />
<circle cx="553.96" cy="335.03" r="2.3" fill="#e8342b" />
<circle cx="604.96" cy="370.09" r="2.3" fill="#e8342b" />
<circle cx="528.84" cy="327.28" r="2.3" fill="#3b52a3" />
<circle cx="569.84" cy="336.31" r="2.3" fill="#3b52a3" />
<circle cx="617.32" cy="363.56" r="2.3" fill="#3b52a3" />
<circle cx="611.71" cy="365.45" r="2.3" fill="#3b52a3" />
<circle cx="601.34" cy="353.25" r="2.3" fill="#e8342b" />
<circle cx="521.31" cy="351.17" r="2.3" fill="#e8342b" />
<circle cx="563.07" cy="331.93" r="2.3" fill="#e8342b" />
<circle cx="590.54" cy="350.68" r="2.3" fill="#e8342b" />
<circle cx="613.60" cy="342.67" r="2.3" fill="#e8342b" />
<circle cx="586.23" cy="365.35" r="2.3" fill="#3b52a3" />
<circle cx="552.41" cy="344.49" r="2.3" fill="#3b52a3" />
<circle cx="512.03" cy="328.41" r="2.3" fill="#3b52a3" />
<circle cx="572.21" cy="333.74" r="2.3" fill="#3b52a3" />
<circle cx="530.53" cy="340.06" r="2.3" fill="#e8342b" />
<circle cx="545.97" cy="341.15" r="2.3" fill="#e8342b" />
<circle cx="617.98" cy="354.25" r="2.3" fill="#e8342b" />
<circle cx="615.99" cy="338.57" r="2.3" fill="#e8342b" />
<circle cx="595.78" cy="324.07" r="2.3" fill="#e8342b" />
<circle cx="555.21" cy="361.47" r="2.3" fill="#3b52a3" />
<circle cx="609.23" cy="353.34" r="2.3" fill="#3b52a3" />
<circle cx="505.84" cy="332.92" r="2.3" fill="#3b52a3" />
<circle cx="549.78" cy="330.76" r="2.3" fill="#3b52a3" />
<circle cx="542.58" cy="359.90" r="2.3" fill="#e8342b" />
<circle cx="620.99" cy="366.97" r="2.3" fill="#e8342b" />
<circle cx="565.00" cy="361.52" r="2.3" fill="#e8342b" />
<circle cx="621.21" cy="346.68" r="2.3" fill="#e8342b" />
<circle cx="558.54" cy="349.18" r="2.3" fill="#e8342b" />
<circle cx="523.07" cy="344.91" r="2.3" fill="#3b52a3" />
<circle cx="602.47" cy="337.16" r="2.3" fill="#3b52a3" />
<circle cx="598.12" cy="368.44" r="2.3" fill="#3b52a3" />
<circle cx="510.87" cy="344.52" r="2.3" fill="#3b52a3" />
<circle cx="567.04" cy="365.55" r="2.3" fill="#e8342b" />
<circle cx="612.83" cy="339.53" r="2.3" fill="#e8342b" />
<circle cx="527.69" cy="349.36" r="2.3" fill="#e8342b" />
<circle cx="573.70" cy="339.54" r="2.3" fill="#e8342b" />
<circle cx="523.92" cy="327.73" r="2.3" fill="#e8342b" />
<circle cx="543.75" cy="347.54" r="2.3" fill="#3b52a3" />
<circle cx="533.12" cy="334.73" r="2.3" fill="#3b52a3" />
<circle cx="485.98" cy="349.51" r="2.3" fill="#3b52a3" />
<circle cx="576.53" cy="334.96" r="2.3" fill="#3b52a3" />
<circle cx="595.77" cy="340.63" r="2.3" fill="#e8342b" />
<circle cx="506.76" cy="348.62" r="2.3" fill="#e8342b" />
<circle cx="588.12" cy="339.34" r="2.3" fill="#e8342b" />
<circle cx="610.03" cy="360.27" r="2.3" fill="#e8342b" />
<circle cx="559.85" cy="342.00" r="2.3" fill="#e8342b" />
<circle cx="570.94" cy="354.42" r="2.3" fill="#3b52a3" />
<circle cx="605.31" cy="366.84" r="2.3" fill="#3b52a3" />
<circle cx="609.60" cy="356.62" r="2.3" fill="#3b52a3" />
<circle cx="560.16" cy="363.60" r="2.3" fill="#3b52a3" />
<circle cx="511.67" cy="339.55" r="2.3" fill="#e8342b" />
<circle cx="592.06" cy="357.75" r="2.3" fill="#e8342b" />
<circle cx="519.33" cy="340.25" r="2.3" fill="#e8342b" />
<circle cx="606.27" cy="333.13" r="2.3" fill="#e8342b" />
<circle cx="557.31" cy="330.71" r="2.3" fill="#e8342b" />
<circle cx="618.99" cy="341.88" r="2.3" fill="#3b52a3" />
<circle cx="536.49" cy="357.13" r="2.3" fill="#3b52a3" />
<circle cx="569.39" cy="327.99" r="2.3" fill="#3b52a3" />
<text x="543.20" y="16.40" font-family="Liberation Sans" font-size="20" text-anchor="middle" dominant-baseline="central" fill="#000"  textLength="36.7" lengthAdjust="spacingAndGlyphs">Y.A.</text>
<text x="478.70" y="26.00" font-family="Liberation Sans" font-size="25.9" text-anchor="start" dominant-baseline="alphabetic" fill="#000" >h</text>
<rect x="636.30" y="72.90" width="20.70" height="94.70" fill="url(#psi)" />
<line x1="636.30" y1="80.30" x2="638.60" y2="80.30" stroke="#f0c0d0" stroke-width="0.6" />
<line x1="654.70" y1="80.30" x2="657.00" y2="80.30" stroke="#f0c0d0" stroke-width="0.6" />
<line x1="636.30" y1="104.50" x2="638.60" y2="104.50" stroke="#f0c0d0" stroke-width="0.6" />
<line x1="654.70" y1="104.50" x2="657.00" y2="104.50" stroke="#f0c0d0" stroke-width="0.6" />
<line x1="636.30" y1="125.90" x2="638.60" y2="125.90" stroke="#f0c0d0" stroke-width="0.6" />
<line x1="654.70" y1="125.90" x2="657.00" y2="125.90" stroke="#f0c0d0" stroke-width="0.6" />
<line x1="636.30" y1="151.30" x2="638.60" y2="151.30" stroke="#f0c0d0" stroke-width="0.6" />
<line x1="654.70" y1="151.30" x2="657.00" y2="151.30" stroke="#f0c0d0" stroke-width="0.6" />
<text x="647.90" y="62.30" font-family="Liberation Serif" font-size="22" text-anchor="middle" dominant-baseline="central" fill="#000" >&#936;</text>
<text x="664.00" y="73.50" font-family="Liberation Sans" font-size="13.5" text-anchor="start" dominant-baseline="central" fill="#000" >1</text>
<text x="663.00" y="117.00" font-family="Liberation Sans" font-size="13.5" text-anchor="start" dominant-baseline="central" fill="#000" >0.5</text>
<text x="663.50" y="161.30" font-family="Liberation Sans" font-size="13.5" text-anchor="start" dominant-baseline="central" fill="#000" >0</text>
<rect x="352.00" y="429.00" width="308.20" height="69.30" fill="#ebebeb" />
<line x1="384.90" y1="429.00" x2="384.90" y2="498.30" stroke="#f6f6f6" stroke-width="0.5" />
<line x1="451.50" y1="429.00" x2="451.50" y2="498.30" stroke="#f6f6f6" stroke-width="0.5" />
<line x1="518.20" y1="429.00" x2="518.20" y2="498.30" stroke="#f6f6f6" stroke-width="0.5" />
<line x1="584.90" y1="429.00" x2="584.90" y2="498.30" stroke="#f6f6f6" stroke-width="0.5" />
<line x1="651.60" y1="429.00" x2="651.60" y2="498.30" stroke="#f6f6f6" stroke-width="0.5" />
<line x1="352.00" y1="438.30" x2="660.20" y2="438.30" stroke="#f6f6f6" stroke-width="0.5" />
<line x1="352.00" y1="464.80" x2="660.20" y2="464.80" stroke="#f6f6f6" stroke-width="0.5" />
<line x1="352.00" y1="491.30" x2="660.20" y2="491.30" stroke="#f6f6f6" stroke-width="0.5" />
<line x1="418.20" y1="429.00" x2="418.20" y2="498.30" stroke="#fff" stroke-width="0.9" />
<line x1="484.90" y1="429.00" x2="484.90" y2="498.30" stroke="#fff" stroke-width="0.9" />
<line x1="551.60" y1="429.00" x2="551.60" y2="498.30" stroke="#fff" stroke-width="0.9" />
<line x1="618.30" y1="429.00" x2="618.30" y2="498.30" stroke="#fff" stroke-width="0.9" />
<line x1="352.00" y1="451.50" x2="660.20" y2="451.50" stroke="#fff" stroke-width="0.9" />
<line x1="352.00" y1="478.00" x2="660.20" y2="478.00" stroke="#fff" stroke-width="0.9" />
<rect x="352.00" y="424.00" width="91.00" height="14.20" fill="#fff" />
<text x="356.20" y="431.60" font-family="Liberation Sans" font-size="13.5" text-anchor="start" dominant-baseline="central" fill="#000"  textLength="79.2" lengthAdjust="spacingAndGlyphs">frameshift=2</text>
<text x="489.60" y="433.60" font-family="Liberation Sans" font-size="12" text-anchor="start" dominant-baseline="central" fill="#000"  textLength="34.7" lengthAdjust="spacingAndGlyphs">n=163</text>
<text x="492.60" y="492.60" font-family="Liberation Sans" font-size="12" text-anchor="start" dominant-baseline="central" fill="#000"  textLength="27.8" lengthAdjust="spacingAndGlyphs">n=65</text>
<rect x="366.6" y="442.3" width="4.1" height="18.4" rx="1" fill="#a9d6ea" stroke="#333" stroke-width="0.7"/>
<rect x="432" y="442.3" width="4.6" height="18.4" rx="1" fill="#b7dfb0" stroke="#333" stroke-width="0.7"/>
<rect x="645.2" y="441.9" width="3.9" height="18.9" rx="1" fill="#b7dfb0" stroke="#333" stroke-width="0.7"/>
<rect x="366.6" y="468.6" width="4.1" height="19.0" rx="1" fill="#a9d6ea" stroke="#333" stroke-width="0.7"/>
<rect x="645.2" y="468.2" width="3.9" height="18.6" rx="1" fill="#e3906a" stroke="#333" stroke-width="0.7"/>
<text x="352.00" y="451.30" font-family="Liberation Sans" font-size="10.5" text-anchor="end" dominant-baseline="central" fill="#000"  textLength="43.8" lengthAdjust="spacingAndGlyphs">Isoform 2-</text>
<text x="352.00" y="478.30" font-family="Liberation Sans" font-size="10.5" text-anchor="end" dominant-baseline="central" fill="#000"  textLength="43.8" lengthAdjust="spacingAndGlyphs">Isoform 1-</text>
<line x1="418.20" y1="498.30" x2="418.20" y2="500.30" stroke="#333" stroke-width="0.6" />
<text x="418.20" y="505.00" font-family="Liberation Sans" font-size="9.5" text-anchor="middle" dominant-baseline="central" fill="#000"  textLength="42.3" lengthAdjust="spacingAndGlyphs">31402500</text>
<line x1="484.90" y1="498.30" x2="484.90" y2="500.30" stroke="#333" stroke-width="0.6" />
<text x="484.90" y="505.00" font-family="Liberation Sans" font-size="9.5" text-anchor="middle" dominant-baseline="central" fill="#000"  textLength="42.3" lengthAdjust="spacingAndGlyphs">31405000</text>
<line x1="551.60" y1="498.30" x2="551.60" y2="500.30" stroke="#333" stroke-width="0.6" />
<text x="551.60" y="505.00" font-family="Liberation Sans" font-size="9.5" text-anchor="middle" dominant-baseline="central" fill="#000"  textLength="42.3" lengthAdjust="spacingAndGlyphs">31407500</text>
<line x1="618.30" y1="498.30" x2="618.30" y2="500.30" stroke="#333" stroke-width="0.6" />
<text x="618.30" y="505.00" font-family="Liberation Sans" font-size="9.5" text-anchor="middle" dominant-baseline="central" fill="#000"  textLength="42.3" lengthAdjust="spacingAndGlyphs">31410000</text>
<text x="328.90" y="426.70" font-family="Liberation Sans" font-size="25" text-anchor="start" dominant-baseline="alphabetic" fill="#000" >o</text>
<rect x="427.20" y="527.20" width="57.50" height="49.20" fill="#a2a43a" />
<rect x="496.80" y="527.20" width="60.40" height="49.20" fill="#36a9e0" />
<rect x="427.20" y="578.90" width="129.80" height="48.80" fill="#f2746e" />
<rect x="557.00" y="578.90" width="43.60" height="48.80" fill="#b978b4" />
<rect x="373.30" y="631.30" width="292.30" height="48.80" fill="#aaaaaa" stroke="#222" stroke-width="0.9" />
<rect x="420.80" y="631.30" width="33.50" height="48.80" fill="#e52b27" />
<line x1="397.20" y1="631.30" x2="397.20" y2="680.10" stroke="#222" stroke-width="0.9" />
<line x1="420.80" y1="631.30" x2="420.80" y2="680.10" stroke="#222" stroke-width="0.9" />
<line x1="454.30" y1="631.30" x2="454.30" y2="680.10" stroke="#222" stroke-width="0.9" />
<line x1="467.30" y1="631.30" x2="467.30" y2="680.10" stroke="#222" stroke-width="0.9" />
<line x1="500.45" y1="631.30" x2="500.45" y2="680.10" stroke="#222" stroke-width="0.9" />
<line x1="525.30" y1="631.30" x2="525.30" y2="680.10" stroke="#222" stroke-width="0.9" />
<line x1="557.80" y1="631.30" x2="557.80" y2="680.10" stroke="#222" stroke-width="0.9" />
<line x1="580.90" y1="631.30" x2="580.90" y2="680.10" stroke="#222" stroke-width="0.9" />
<rect x="373.30" y="631.30" width="292.30" height="48.80" fill="none" stroke="#222" stroke-width="0.9" />
<line x1="448.20" y1="682.80" x2="454.80" y2="687.20" stroke="#222" stroke-width="0.8" />
<path d="M447.2 682.1L451.6 682.6L449.4 685.6Z" stroke="none" stroke-width="0" fill="#222" />
<text x="454.80" y="688.60" font-family="Liberation Sans" font-size="13.3" text-anchor="start" dominant-baseline="central" fill="#000"  textLength="91" lengthAdjust="spacingAndGlyphs">exon of interest</text>
<rect x="368.60" y="694.40" width="11.30" height="11.00" fill="#f27b72" />
<text x="384.70" y="699.90" font-family="Liberation Sans" font-size="9.95" text-anchor="start" dominant-baseline="central" fill="#000" >IPR031167:OBG&#8722;type guanine nucleotide&#8722;binding (G) domain</text>
<rect x="368.60" y="706.63" width="11.30" height="11.00" fill="#a3a43b" />
<text x="384.70" y="712.13" font-family="Liberation Sans" font-size="9.95" text-anchor="start" dominant-baseline="central" fill="#000" >IPR006073:GTP binding domain</text>
<rect x="368.60" y="718.86" width="11.30" height="11.00" fill="#29b77e" />
<text x="384.70" y="724.36" font-family="Liberation Sans" font-size="9.95" text-anchor="start" dominant-baseline="central" fill="#000" >IPR006074:GTP1/OBG, conserved site</text>
<rect x="368.60" y="731.09" width="11.30" height="11.00" fill="#35a8e0" />
<text x="384.70" y="736.59" font-family="Liberation Sans" font-size="9.95" text-anchor="start" dominant-baseline="central" fill="#000" >IPR031662:GTP binding protein, second domain</text>
<rect x="368.60" y="743.32" width="11.30" height="11.00" fill="#bb78b5" />
<text x="384.70" y="748.82" font-family="Liberation Sans" font-size="9.95" text-anchor="start" dominant-baseline="central" fill="#000" >IPR004095:TGS</text>
<text x="328.20" y="534.20" font-family="Liberation Sans" font-size="27.5" text-anchor="start" dominant-baseline="alphabetic" fill="#000" >p</text>
<!--END-->
</svg></body></html>
